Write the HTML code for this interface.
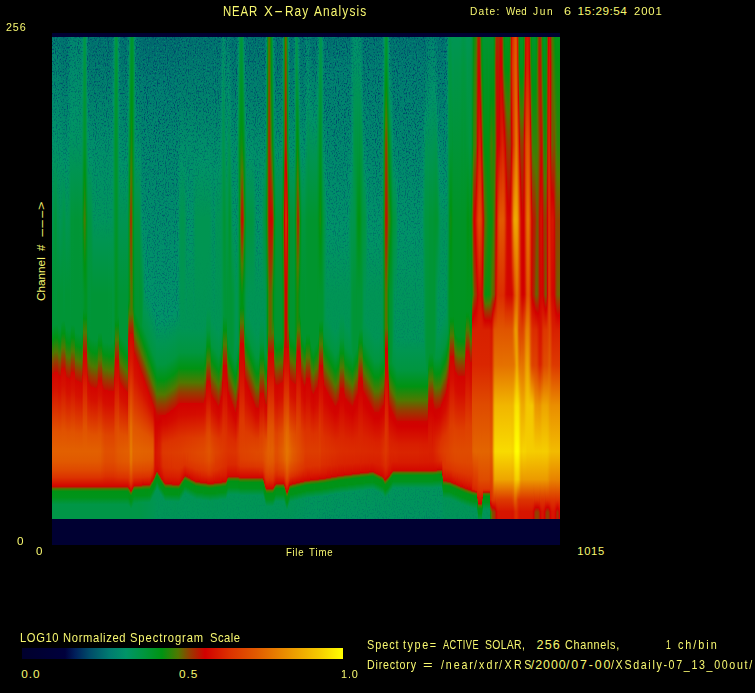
<!DOCTYPE html>
<html><head><meta charset="utf-8"><title>NEAR X-Ray Analysis</title>
<style>
html,body{margin:0;padding:0;background:#000;}
body{width:755px;height:693px;position:relative;overflow:hidden;}
.t{position:absolute;white-space:pre;color:#f8f870;font-family:"Liberation Sans",sans-serif;line-height:1;}
.r{transform-origin:0 0;transform:rotate(-90deg);}
#spec{position:absolute;left:52px;top:33px;width:508px;height:512px;background:#000032;}
#cbar{position:absolute;left:22px;top:648px;width:321px;height:11px;}
#sg{position:absolute;left:0;top:4px;width:508px;height:482px;display:flex;filter:url(#spk);}
#sg i{display:block;height:482px;flex:none;}
</style></head><body>
<svg width="0" height="0" style="position:absolute">
<filter id="spk" x="0" y="0" width="1" height="1" color-interpolation-filters="sRGB">
<feTurbulence type="fractalNoise" baseFrequency="0.9 0.5" numOctaves="2" seed="4" result="n"/>
<feColorMatrix in="n" type="matrix" values="0 0 0 0 0  0 0 0 0 0.28  0 0 0 0 0.42  -4.2 0 0 0 2.15" result="dk"/>
<feColorMatrix in="n" type="matrix" values="0 0 0 0 0  0 0 0 0 0.56  0 0 0 0 0.44  0 -3 0 0 1.45" result="lt"/>
<feColorMatrix in="SourceGraphic" type="matrix" values="0 0 0 0 0  0 0 0 0 0  0 0 0 0 0  0 0 9 0 -2.9" result="m1"/>
<feColorMatrix in="SourceGraphic" type="matrix" values="0 0 0 0 0  0 0 0 0 0  0 0 0 0 0  0 -7.5 0 0 4.9" result="m2"/>
<feComposite in="m1" in2="m2" operator="in" result="m"/>
<feComposite in="dk" in2="m" operator="in" result="dkm"/>
<feComposite in="lt" in2="m" operator="in" result="ltm"/>
<feMerge><feMergeNode in="SourceGraphic"/><feMergeNode in="dkm"/><feMergeNode in="ltm"/></feMerge>
</filter></svg>
<div id="spec"><div id="sg"><i style="width:1px;background:linear-gradient(#007f6f 0px,#009468 105.5px,#009536 257.5px,#009536 289.5px,#009313 302.5px,#507800 316.5px,#943e00 326.5px,#c21000 336.5px,#d30500 337.5px,#d51100 353.5px,#e05100 394.5px,#e26000 414.5px,#e15900 424.5px,#df4800 433.5px,#dc3300 440.5px,#d40900 448.5px,#c90900 449.5px,#9a3800 450.5px,#616900 451.5px,#388005 452.5px,#009315 454.5px,#00941a 460.5px,#009646 467.5px,#009648 482px)"></i><i style="width:1px;background:linear-gradient(#007f6f 0px,#009468 105.5px,#009647 183.5px,#009536 257.5px,#009536 289.5px,#009313 302.5px,#4e7900 316.5px,#983a00 327.5px,#c11100 336.5px,#d30500 337.5px,#d51100 353.5px,#e05100 394.5px,#e26000 414.5px,#e15900 424.5px,#df4800 433.5px,#dc3300 440.5px,#d40900 448.5px,#c90900 449.5px,#9a3800 450.5px,#616900 451.5px,#388005 452.5px,#009315 454.5px,#00941a 460.5px,#009646 467.5px,#009648 482px)"></i><i style="width:1px;background:linear-gradient(#007f6f 0px,#009468 105.5px,#00963f 183.5px,#009536 287.5px,#009312 300.5px,#507800 314.5px,#943d00 324.5px,#c30f00 334.5px,#d30500 335.5px,#d51100 351.5px,#e05200 394.5px,#e26000 414.5px,#e15900 424.5px,#df4800 433.5px,#dc3300 440.5px,#d40900 448.5px,#c90900 449.5px,#9a3800 450.5px,#616900 451.5px,#388005 452.5px,#009315 454.5px,#00941a 460.5px,#009646 467.5px,#009648 482px)"></i><i style="width:1px;background:linear-gradient(#007f6f 0px,#009467 107.5px,#00963b 183.5px,#009536 287.5px,#009312 300.5px,#507800 314.5px,#943d00 324.5px,#c30f00 334.5px,#d30500 335.5px,#d51100 351.5px,#e05200 394.5px,#e26000 414.5px,#e15900 424.5px,#df4800 433.5px,#dc3300 440.5px,#d40900 448.5px,#c90900 449.5px,#9a3800 450.5px,#616900 451.5px,#388005 452.5px,#009315 454.5px,#00941a 460.5px,#009646 467.5px,#009648 482px)"></i><i style="width:1px;background:linear-gradient(#007f6f 0px,#009468 105.5px,#009641 183.5px,#009536 287.5px,#009312 300.5px,#507800 314.5px,#943d00 324.5px,#c30f00 334.5px,#d30500 335.5px,#d51100 351.5px,#e05200 394.5px,#e26000 414.5px,#e15900 424.5px,#df4800 433.5px,#dc3300 440.5px,#d40900 448.5px,#c90900 449.5px,#9a3800 450.5px,#616900 451.5px,#388005 452.5px,#009315 454.5px,#00941a 460.5px,#009646 467.5px,#009648 482px)"></i><i style="width:1px;background:linear-gradient(#007f6f 0px,#009468 105.5px,#009536 257.5px,#009536 287.5px,#009312 300.5px,#507800 314.5px,#943d00 324.5px,#c30f00 334.5px,#d30500 335.5px,#d51100 351.5px,#e05200 394.5px,#e26000 414.5px,#e15900 424.5px,#df4800 433.5px,#dc3300 440.5px,#d40900 448.5px,#c90900 449.5px,#9a3800 450.5px,#616900 451.5px,#388005 452.5px,#009315 454.5px,#00941a 460.5px,#009646 467.5px,#009648 482px)"></i><i style="width:1px;background:linear-gradient(#007e6f 0px,#009468 105.5px,#009536 257.5px,#009536 290.5px,#009312 303.5px,#507800 317.5px,#943d00 327.5px,#c30f00 337.5px,#d30500 338.5px,#d51100 354.5px,#e05100 394.5px,#e26000 414.5px,#e15900 424.5px,#df4800 433.5px,#dc3300 440.5px,#d40900 448.5px,#c90900 449.5px,#9a3800 450.5px,#616900 451.5px,#388005 452.5px,#009315 454.5px,#00941a 460.5px,#009646 467.5px,#009648 482px)"></i><i style="width:1px;background:linear-gradient(#007c70 0px,#009468 105.5px,#009554 183.5px,#009536 257.5px,#009536 291.5px,#009312 304.5px,#517700 318.5px,#953d00 328.5px,#c40e00 338.5px,#d30500 339.5px,#d61200 355.5px,#e05100 394.5px,#e26000 414.5px,#e15900 424.5px,#df4800 433.5px,#dc3300 440.5px,#d40900 448.5px,#c90900 449.5px,#9a3800 450.5px,#616900 451.5px,#388005 452.5px,#009315 454.5px,#00941a 460.5px,#009646 467.5px,#009648 482px)"></i><i style="width:1px;background:linear-gradient(#00766f 0px,#009468 107.5px,#009554 183.5px,#009536 257.5px,#009536 291.5px,#009312 304.5px,#517700 318.5px,#953d00 328.5px,#c30f00 338.5px,#d30500 339.5px,#d61200 355.5px,#e05200 395.5px,#e26000 414.5px,#e15900 424.5px,#df4800 433.5px,#dc3300 440.5px,#d40900 448.5px,#c90900 449.5px,#9a3800 450.5px,#616900 451.5px,#388005 452.5px,#009315 454.5px,#00941a 460.5px,#009646 467.5px,#009648 482px)"></i><i style="width:1px;background:linear-gradient(#00736f 0px,#009468 112.5px,#009536 257.5px,#009536 285.5px,#009314 297.5px,#019312 298.5px,#527700 312.5px,#963c00 322.5px,#c40e00 332.5px,#d30500 333.5px,#d51100 350.5px,#e05100 393.5px,#e26000 414.5px,#e15900 424.5px,#df4800 433.5px,#dc3300 440.5px,#d40900 448.5px,#c90900 449.5px,#9a3800 450.5px,#616900 451.5px,#388005 452.5px,#009315 454.5px,#00941a 460.5px,#009646 467.5px,#009648 482px)"></i><i style="width:1px;background:linear-gradient(#00716e 0px,#009468 117.5px,#00954b 183.5px,#009536 257.5px,#009536 283.5px,#009312 296.5px,#507800 310.5px,#943d00 320.5px,#c30f00 330.5px,#d30500 331.5px,#d51100 348.5px,#e05100 392.5px,#e26000 414.5px,#e15900 424.5px,#df4800 433.5px,#dc3300 440.5px,#d40900 448.5px,#c90900 449.5px,#9a3800 450.5px,#616900 451.5px,#388005 452.5px,#009315 454.5px,#00941a 460.5px,#009646 467.5px,#009648 482px)"></i><i style="width:2px;background:linear-gradient(#00716e 0px,#009468 120.5px,#009646 183.5px,#009536 283.5px,#009312 296.5px,#507800 310.5px,#943d00 320.5px,#c30f00 330.5px,#d30500 331.5px,#d51100 348.5px,#e05100 392.5px,#e26000 414.5px,#e15900 424.5px,#df4800 433.5px,#dc3300 440.5px,#d40900 448.5px,#c90900 449.5px,#9a3800 450.5px,#616900 451.5px,#388005 452.5px,#009315 454.5px,#00941a 460.5px,#009646 467.5px,#009648 482px)"></i><i style="width:1px;background:linear-gradient(#00716e 0px,#009468 123.5px,#00954d 183.5px,#009536 257.5px,#009536 287.5px,#009313 300.5px,#4f7800 314.5px,#933e00 324.5px,#c21000 334.5px,#d30500 335.5px,#d61200 352.5px,#e05200 394.5px,#e26000 414.5px,#e15900 424.5px,#df4800 433.5px,#dc3300 440.5px,#d40900 448.5px,#c90900 449.5px,#9a3800 450.5px,#616900 451.5px,#388005 452.5px,#009315 454.5px,#00941a 460.5px,#009646 467.5px,#009648 482px)"></i><i style="width:1px;background:linear-gradient(#00716e 0px,#009468 126.5px,#009536 257.5px,#009536 292.5px,#009314 304.5px,#019312 305.5px,#527600 319.5px,#963c00 329.5px,#c40e00 339.5px,#d30500 340.5px,#d51100 355.5px,#e05200 395.5px,#e26000 414.5px,#e15900 424.5px,#df4800 433.5px,#dc3300 440.5px,#d40900 448.5px,#c90900 449.5px,#9a3800 450.5px,#616900 451.5px,#388005 452.5px,#009315 454.5px,#00941a 460.5px,#009646 467.5px,#009648 482px)"></i><i style="width:1px;background:linear-gradient(#00746f 0px,#009468 124.5px,#009536 257.5px,#009536 292.5px,#009314 305.5px,#4d7901 319.5px,#973b00 330.5px,#c50d00 340.5px,#d30500 341.5px,#d51100 356.5px,#e05100 395.5px,#e26000 414.5px,#e15900 424.5px,#df4800 433.5px,#dc3300 440.5px,#d40900 448.5px,#c90900 449.5px,#9a3800 450.5px,#616900 451.5px,#388005 452.5px,#009315 454.5px,#00941a 460.5px,#009646 467.5px,#009648 482px)"></i><i style="width:1px;background:linear-gradient(#007a70 0px,#009468 114.5px,#009536 257.5px,#009536 293.5px,#009313 306.5px,#4f7800 320.5px,#933f00 330.5px,#c21000 340.5px,#d30500 341.5px,#d51100 356.5px,#e05100 395.5px,#e26000 414.5px,#e15900 424.5px,#df4800 433.5px,#dc3300 440.5px,#d40900 448.5px,#c90900 449.5px,#9a3800 450.5px,#616900 451.5px,#388005 452.5px,#009315 454.5px,#00941a 460.5px,#009646 467.5px,#009648 482px)"></i><i style="width:1px;background:linear-gradient(#00816e 0px,#009468 95.5px,#009536 257.5px,#009536 293.5px,#009314 306.5px,#4d7901 320.5px,#973b00 331.5px,#c50d00 341.5px,#d30500 342.5px,#d61200 357.5px,#e05100 395.5px,#e26000 414.5px,#e15900 424.5px,#df4800 433.5px,#dc3300 440.5px,#d40900 448.5px,#c90900 449.5px,#9a3800 450.5px,#616900 451.5px,#388005 452.5px,#009315 454.5px,#00941a 460.5px,#009646 467.5px,#009648 482px)"></i><i style="width:1px;background:linear-gradient(#00856d 0px,#009468 79.5px,#009640 183.5px,#009536 292.5px,#009314 304.5px,#019312 305.5px,#527700 319.5px,#963c00 329.5px,#c40e00 339.5px,#d30500 340.5px,#d51100 355.5px,#e05200 395.5px,#e26000 414.5px,#e15900 424.5px,#df4800 433.5px,#dc3300 440.5px,#d40900 448.5px,#c90900 449.5px,#9a3800 450.5px,#616900 451.5px,#388005 452.5px,#009315 454.5px,#00941a 460.5px,#009646 467.5px,#009648 482px)"></i><i style="width:3px;background:linear-gradient(#00866d 0px,#009468 72.5px,#009460 107.5px,#009637 183.5px,#009536 287.5px,#009312 300.5px,#507800 314.5px,#943d00 324.5px,#c30f00 334.5px,#d30500 335.5px,#d51100 351.5px,#e05200 394.5px,#e26000 414.5px,#e15900 424.5px,#df4800 433.5px,#dc3300 440.5px,#d40900 448.5px,#c90900 449.5px,#9a3800 450.5px,#616900 451.5px,#388005 452.5px,#009315 454.5px,#00941a 460.5px,#009646 467.5px,#009648 482px)"></i><i style="width:1px;background:linear-gradient(#00866d 0px,#009468 72.5px,#009460 107.5px,#009536 183.5px,#009536 288.5px,#009313 301.5px,#4f7800 315.5px,#933e00 325.5px,#c21000 335.5px,#d30500 336.5px,#d51100 352.5px,#e05200 394.5px,#e26000 414.5px,#e15900 424.5px,#df4800 433.5px,#dc3300 440.5px,#d40900 448.5px,#c90900 449.5px,#9a3800 450.5px,#616900 451.5px,#388005 452.5px,#009315 454.5px,#00941a 460.5px,#009646 467.5px,#009648 482px)"></i><i style="width:1px;background:linear-gradient(#00866d 0px,#009468 72.5px,#009460 107.5px,#009536 183.5px,#009536 295.5px,#009314 307.5px,#019212 308.5px,#537600 322.5px,#963c00 332.5px,#c40e00 342.5px,#d30500 343.5px,#d61200 358.5px,#e05100 395.5px,#e26000 414.5px,#e15900 424.5px,#df4800 433.5px,#dc3300 440.5px,#d40900 448.5px,#c90900 449.5px,#9a3800 450.5px,#616900 451.5px,#388005 452.5px,#009315 454.5px,#00941a 460.5px,#009646 467.5px,#009648 482px)"></i><i style="width:1px;background:linear-gradient(#00866d 0px,#009468 72.5px,#009460 107.5px,#009536 183.5px,#009536 295.5px,#009313 308.5px,#4f7800 322.5px,#983a00 333.5px,#c21000 342.5px,#d30500 343.5px,#d51100 358.5px,#e05200 396.5px,#e26000 414.5px,#e15900 424.5px,#df4800 433.5px,#dc3300 440.5px,#d40900 448.5px,#c90900 449.5px,#9a3800 450.5px,#616900 451.5px,#388005 452.5px,#009315 454.5px,#00941a 460.5px,#009646 467.5px,#009648 482px)"></i><i style="width:1px;background:linear-gradient(#00866d 0px,#009468 72.5px,#009460 107.5px,#009536 183.5px,#009536 296.5px,#009312 309.5px,#517700 323.5px,#953d00 333.5px,#c30f00 343.5px,#d30500 344.5px,#d61200 359.5px,#e05200 396.5px,#e26000 414.5px,#e15900 424.5px,#df4800 433.5px,#dc3300 440.5px,#d40900 448.5px,#c90900 449.5px,#9a3800 450.5px,#616900 451.5px,#388005 452.5px,#009315 454.5px,#00941a 460.5px,#009646 467.5px,#009648 482px)"></i><i style="width:1px;background:linear-gradient(#00866d 0px,#009468 72.5px,#009460 107.5px,#009536 183.5px,#009536 296.5px,#009313 309.5px,#4e7900 323.5px,#983a00 334.5px,#c11100 343.5px,#d30500 344.5px,#d51100 359.5px,#e05100 396.5px,#e26000 414.5px,#e15900 424.5px,#df4800 433.5px,#dc3300 440.5px,#d40900 448.5px,#c90900 449.5px,#9a3800 450.5px,#616900 451.5px,#388005 452.5px,#009315 454.5px,#00941a 460.5px,#009646 467.5px,#009648 482px)"></i><i style="width:2px;background:linear-gradient(#00866d 0px,#009460 107.5px,#009637 183.5px,#009536 297.5px,#009312 310.5px,#507700 324.5px,#943d00 334.5px,#c30f00 344.5px,#d30500 345.5px,#d51100 359.5px,#e05100 396.5px,#e26000 414.5px,#e15900 424.5px,#df4800 433.5px,#dc3300 440.5px,#d40900 448.5px,#c90900 449.5px,#9a3800 450.5px,#616900 451.5px,#388005 452.5px,#009315 454.5px,#00941a 460.5px,#009646 467.5px,#009648 482px)"></i><i style="width:1px;background:linear-gradient(#00866d 0px,#009468 70.5px,#00945e 107.5px,#009637 183.5px,#009536 297.5px,#009314 310.5px,#537500 325.5px,#973b00 335.5px,#c50d00 345.5px,#d30500 346.5px,#d51100 360.5px,#e05100 396.5px,#e26000 414.5px,#e15900 424.5px,#df4800 433.5px,#dc3300 440.5px,#d40900 448.5px,#c90900 449.5px,#9a3800 450.5px,#616900 451.5px,#388005 452.5px,#009315 454.5px,#00941a 460.5px,#009646 467.5px,#009648 482px)"></i><i style="width:1px;background:linear-gradient(#008e6a 0px,#009468 24.5px,#009551 107.5px,#009426 183.5px,#009534 257.5px,#009534 292.5px,#009312 304.5px,#507800 318.5px,#943d00 328.5px,#c30f00 338.5px,#d30500 339.5px,#d61200 355.5px,#e05200 395.5px,#e26000 414.5px,#e15900 424.5px,#df4800 433.5px,#dc3300 440.5px,#d40900 448.5px,#c90900 449.5px,#9a3800 450.5px,#616900 451.5px,#388005 452.5px,#009315 454.5px,#00941a 460.5px,#009646 467.5px,#009648 482px)"></i><i style="width:1px;background:linear-gradient(#009556 0px,#009638 107.5px,#009312 161.5px,#1e890b 182.5px,#009312 209.5px,#00952f 258.5px,#00952e 271.5px,#009312 281.5px,#507800 295.5px,#943d00 305.5px,#c30f00 315.5px,#d30500 316.5px,#d51100 336.5px,#e05200 389.5px,#e26000 414.5px,#e15900 424.5px,#df4800 433.5px,#dc3300 440.5px,#d40900 448.5px,#c90900 449.5px,#9a3800 450.5px,#616900 451.5px,#388005 452.5px,#009315 454.5px,#00941a 460.5px,#009646 467.5px,#009648 482px)"></i><i style="width:1px;background:linear-gradient(#009645 0px,#009529 107.5px,#009312 137.5px,#467b02 183.5px,#009312 230.5px,#009426 258.5px,#009426 274.5px,#009312 281.5px,#507800 295.5px,#943d00 305.5px,#c30f00 315.5px,#d30500 316.5px,#d51100 336.5px,#e05200 389.5px,#e26000 414.5px,#e15900 424.5px,#df4800 433.5px,#dc3300 440.5px,#d40900 448.5px,#c90900 449.5px,#9a3800 450.5px,#616900 451.5px,#388005 452.5px,#009315 454.5px,#00941a 460.5px,#009646 467.5px,#009648 482px)"></i><i style="width:1px;background:linear-gradient(#00954d 0px,#00952f 107.5px,#009312 148.5px,#318207 183.5px,#009312 227.5px,#009422 258.5px,#009422 275.5px,#009312 281.5px,#507800 295.5px,#943d00 305.5px,#c30f00 315.5px,#d30500 316.5px,#d51100 336.5px,#e05200 389.5px,#e26000 414.5px,#e15900 424.5px,#df4800 433.5px,#dc3300 440.5px,#d40900 448.5px,#c90900 449.5px,#9a3800 450.5px,#616900 451.5px,#388005 452.5px,#009315 454.5px,#00941a 460.5px,#009646 467.5px,#009648 482px)"></i><i style="width:1px;background:linear-gradient(#009368 0px,#009648 107.5px,#00941a 182.5px,#009426 273.5px,#009312 281.5px,#507800 295.5px,#943d00 305.5px,#c30f00 315.5px,#d30500 316.5px,#d51100 336.5px,#e05200 389.5px,#e26000 414.5px,#e15900 424.5px,#df4800 433.5px,#dc3300 440.5px,#d40900 448.5px,#c90900 449.5px,#9a3800 450.5px,#616900 451.5px,#388005 452.5px,#009315 454.5px,#00941a 460.5px,#009646 467.5px,#009648 482px)"></i><i style="width:1px;background:linear-gradient(#00816e 0px,#009468 81.5px,#00945f 108.5px,#009532 183.5px,#00952e 294.5px,#009312 304.5px,#507800 318.5px,#943d00 328.5px,#c30f00 338.5px,#d30500 339.5px,#d61200 355.5px,#e05200 395.5px,#e26000 414.5px,#e15900 424.5px,#df4800 433.5px,#dc3300 440.5px,#d40900 448.5px,#c90900 449.5px,#9a3800 450.5px,#616900 451.5px,#388005 452.5px,#009315 454.5px,#00941a 460.5px,#009646 467.5px,#009648 482px)"></i><i style="width:1px;background:linear-gradient(#00756f 0px,#009468 114.5px,#00963d 183.5px,#009534 298.5px,#009312 310.5px,#507800 324.5px,#943e00 334.5px,#c30f00 344.5px,#d30500 345.5px,#d51100 359.5px,#e05100 396.5px,#e26000 414.5px,#e15900 424.5px,#df4800 433.5px,#dc3300 440.5px,#d40900 448.5px,#c90900 449.5px,#9a3800 450.5px,#616900 451.5px,#388005 452.5px,#009315 454.5px,#00941a 460.5px,#009646 467.5px,#009648 482px)"></i><i style="width:1px;background:linear-gradient(#00716e 0px,#009468 118.5px,#00963e 183.5px,#009536 299.5px,#009314 311.5px,#019312 312.5px,#527700 326.5px,#963c00 336.5px,#c40e00 346.5px,#d30500 347.5px,#d61200 361.5px,#e05100 396.5px,#e26000 414.5px,#e15900 424.5px,#df4800 433.5px,#dc3300 440.5px,#d40900 448.5px,#c90900 449.5px,#9a3800 450.5px,#616900 451.5px,#388005 452.5px,#009315 454.5px,#00941a 460.5px,#009646 467.5px,#009648 482px)"></i><i style="width:1px;background:linear-gradient(#00716e 0px,#009468 119.5px,#009640 183.5px,#009536 300.5px,#009314 313.5px,#4d7901 327.5px,#973b00 338.5px,#c50d00 348.5px,#d30500 349.5px,#d51100 362.5px,#e05100 397.5px,#e26000 414.5px,#e15900 424.5px,#df4800 433.5px,#dc3300 440.5px,#d40900 448.5px,#c90900 449.5px,#9a3800 450.5px,#616900 451.5px,#388005 452.5px,#009315 454.5px,#00941a 460.5px,#009646 467.5px,#009648 482px)"></i><i style="width:1px;background:linear-gradient(#00716e 0px,#009468 121.5px,#009647 183.5px,#009536 257.5px,#009536 301.5px,#009314 314.5px,#537500 329.5px,#973b00 339.5px,#c50d00 349.5px,#d30500 350.5px,#d51100 363.5px,#e05100 397.5px,#e26000 414.5px,#e15900 424.5px,#df4800 433.5px,#dc3300 440.5px,#d40900 448.5px,#c90900 449.5px,#9a3800 450.5px,#616900 451.5px,#388005 452.5px,#009315 454.5px,#00941a 460.5px,#009646 467.5px,#009648 482px)"></i><i style="width:1px;background:linear-gradient(#00716e 0px,#009468 125.5px,#009536 257.5px,#009536 302.5px,#009312 315.5px,#507800 329.5px,#943d00 339.5px,#c30f00 349.5px,#d30500 350.5px,#d51100 363.5px,#e05100 397.5px,#e26000 414.5px,#e15900 424.5px,#df4800 433.5px,#dc3300 440.5px,#d40900 448.5px,#c90900 449.5px,#9a3800 450.5px,#616900 451.5px,#388005 452.5px,#009315 454.5px,#00941a 460.5px,#009646 467.5px,#009648 482px)"></i><i style="width:1px;background:linear-gradient(#00716e 0px,#009069 108.5px,#00955a 182.5px,#009536 257.5px,#009536 302.5px,#009313 315.5px,#4e7900 329.5px,#983a00 340.5px,#c11100 349.5px,#d30500 350.5px,#d51000 363.5px,#e05200 398.5px,#e26000 414.5px,#e15900 424.5px,#df4800 433.5px,#dc3300 440.5px,#d40900 448.5px,#c90900 449.5px,#9a3800 450.5px,#616900 451.5px,#388005 452.5px,#009315 454.5px,#00941a 460.5px,#009646 467.5px,#009648 482px)"></i><i style="width:2px;background:linear-gradient(#00716e 0px,#009069 108.5px,#00955c 182.5px,#009536 257.5px,#009536 303.5px,#009312 316.5px,#517700 330.5px,#953d00 340.5px,#c30f00 350.5px,#d30500 351.5px,#d51100 364.5px,#e05200 398.5px,#e26000 414.5px,#e15900 424.5px,#df4800 433.5px,#dc3300 440.5px,#d40900 448.5px,#c90900 449.5px,#9a3800 450.5px,#616900 451.5px,#388005 452.5px,#009315 454.5px,#00941a 460.5px,#009646 467.5px,#009648 482px)"></i><i style="width:1px;background:linear-gradient(#00716e 0px,#009069 108.5px,#00955c 182.5px,#009536 257.5px,#009536 303.5px,#009313 316.5px,#4f7800 330.5px,#983a00 341.5px,#c21000 350.5px,#d30500 351.5px,#d51100 364.5px,#e05200 398.5px,#e26000 414.5px,#e15900 424.5px,#df4800 433.5px,#dc3300 440.5px,#d40900 448.5px,#c90900 449.5px,#9a3800 450.5px,#616900 451.5px,#388005 452.5px,#009315 454.5px,#00941a 460.5px,#009646 467.5px,#009648 482px)"></i><i style="width:1px;background:linear-gradient(#00716e 0px,#009069 108.5px,#00955c 182.5px,#009536 257.5px,#009536 301.5px,#009312 314.5px,#507800 328.5px,#943d00 338.5px,#c30f00 348.5px,#d30500 349.5px,#d61200 363.5px,#e05100 397.5px,#e26000 414.5px,#e15900 424.5px,#df4800 433.5px,#dc3300 440.5px,#d40900 448.5px,#c90900 449.5px,#9a3800 450.5px,#616900 451.5px,#388005 452.5px,#009315 454.5px,#00941a 460.5px,#009646 467.5px,#009648 482px)"></i><i style="width:3px;background:linear-gradient(#00716e 0px,#009069 108.5px,#00955c 182.5px,#009536 257.5px,#009536 295.5px,#009312 308.5px,#507800 322.5px,#943d00 332.5px,#c30f00 342.5px,#d30500 343.5px,#d51100 358.5px,#e05100 396.5px,#e25f00 414.5px,#e15800 424.5px,#df4800 433.5px,#dc3300 440.5px,#d40900 448.5px,#c90900 449.5px,#9a3800 450.5px,#616900 451.5px,#388005 452.5px,#009315 454.5px,#00941a 460.5px,#009646 467.5px,#009648 482px)"></i><i style="width:1px;background:linear-gradient(#00716e 0px,#009069 108.5px,#00955c 182.5px,#009536 257.5px,#009536 295.5px,#009312 308.5px,#507800 322.5px,#943d00 332.5px,#c30f00 342.5px,#d30500 343.5px,#d51000 358.5px,#e04e00 396.5px,#e15b00 414.5px,#e05500 424.5px,#de4500 433.5px,#dc3100 440.5px,#d40900 448.5px,#c90900 449.5px,#9a3800 450.5px,#616900 451.5px,#388005 452.5px,#009315 454.5px,#00941a 460.5px,#009646 467.5px,#009648 482px)"></i><i style="width:1px;background:linear-gradient(#00716e 0px,#009069 108.5px,#00955c 182.5px,#009536 257.5px,#009536 301.5px,#009312 314.5px,#507800 328.5px,#943d00 338.5px,#c30f00 348.5px,#d30400 349.5px,#d51000 363.5px,#df4b00 397.5px,#e15800 414.5px,#e05200 424.5px,#de4300 433.5px,#dc3000 440.5px,#d40900 448.5px,#c90900 449.5px,#9a3800 450.5px,#616900 451.5px,#388005 452.5px,#009315 454.5px,#00941a 460.5px,#009646 467.5px,#009648 482px)"></i><i style="width:1px;background:linear-gradient(#00716e 0px,#009069 108.5px,#00955c 182.5px,#009536 257.5px,#009536 304.5px,#009314 316.5px,#019312 317.5px,#527700 331.5px,#963c00 341.5px,#c40e00 351.5px,#d30400 352.5px,#d50f00 365.5px,#df4800 397.5px,#e05500 414.5px,#e04f00 424.5px,#de4100 433.5px,#dc3200 439.5px,#d40900 448.5px,#c80a00 449.5px,#9a3800 450.5px,#616900 451.5px,#388005 452.5px,#009315 454.5px,#00941a 460.5px,#009646 467.5px,#009648 482px)"></i><i style="width:1px;background:linear-gradient(#00716e 0px,#009069 108.5px,#00955c 182.5px,#009536 257.5px,#009536 305.5px,#009314 317.5px,#537500 332.5px,#973b00 342.5px,#c50d00 352.5px,#d30300 353.5px,#d50f00 366.5px,#de4500 397.5px,#e05200 414.5px,#df4d00 424.5px,#de3f00 433.5px,#dc3000 439.5px,#d40900 448.5px,#c80a00 449.5px,#9a3800 450.5px,#616900 451.5px,#388005 452.5px,#009315 454.5px,#00941a 460.5px,#009646 467.5px,#009648 482px)"></i><i style="width:3px;background:linear-gradient(#00716e 0px,#009069 108.5px,#00955c 182.5px,#009536 257.5px,#009536 305.5px,#009313 318.5px,#4f7800 332.5px,#983a00 343.5px,#c21000 352.5px,#d30300 353.5px,#d50f00 367.5px,#de4500 398.5px,#e05000 414.5px,#df4b00 424.5px,#dd3e00 433.5px,#db2f00 439.5px,#d40900 448.5px,#c80a00 449.5px,#9a3800 450.5px,#616900 451.5px,#388005 452.5px,#009315 454.5px,#00941a 460.5px,#009646 467.5px,#009648 482px)"></i><i style="width:4px;background:linear-gradient(#00716e 0px,#009069 108.5px,#00955c 182.5px,#009637 257.5px,#009536 306.5px,#009312 319.5px,#517700 333.5px,#953d00 343.5px,#c40e00 353.5px,#d30300 354.5px,#d50e00 367.5px,#de4400 398.5px,#e05000 414.5px,#df4b00 424.5px,#dd3e00 433.5px,#db2f00 439.5px,#d40900 448.5px,#c80a00 449.5px,#9a3800 450.5px,#616900 451.5px,#388005 452.5px,#009315 454.5px,#00941a 460.5px,#009646 467.5px,#009648 482px)"></i><i style="width:1px;background:linear-gradient(#00786f 0px,#009468 112.5px,#009558 183.5px,#00963c 257.5px,#00963c 304.5px,#009315 318.5px,#019312 319.5px,#527700 333.5px,#963c00 343.5px,#c40e00 353.5px,#d30300 354.5px,#d50e00 367.5px,#de4400 398.5px,#e05000 414.5px,#df4b00 424.5px,#dd3e00 433.5px,#db2f00 439.5px,#d40900 448.5px,#c80a00 449.5px,#9a3800 450.5px,#616900 451.5px,#388005 452.5px,#009315 454.5px,#00941a 460.5px,#009646 467.5px,#009648 482px)"></i><i style="width:1px;background:linear-gradient(#00866d 0px,#009468 61.5px,#009558 108.5px,#00954d 183.5px,#00963a 257.5px,#00963a 304.5px,#009314 318.5px,#019312 319.5px,#527600 333.5px,#963c00 343.5px,#c40e00 353.5px,#d30300 354.5px,#d50e00 367.5px,#de4400 398.5px,#e05000 414.5px,#df4b00 424.5px,#dd3e00 433.5px,#db2f00 439.5px,#d40900 448.5px,#c80a00 449.5px,#9a3800 450.5px,#616900 451.5px,#388005 452.5px,#009315 454.5px,#00941a 460.5px,#009646 467.5px,#009648 482px)"></i><i style="width:1px;background:linear-gradient(#00945f 0px,#00963e 107.5px,#00952e 296.5px,#009312 306.5px,#507800 320.5px,#943d00 330.5px,#c30f00 340.5px,#d30300 341.5px,#d50f00 357.5px,#de4600 395.5px,#e05100 414.5px,#df4d00 424.5px,#de3f00 433.5px,#dc3000 439.5px,#d40900 448.5px,#c80a00 449.5px,#9a3800 450.5px,#616900 451.5px,#388005 452.5px,#009315 454.5px,#00941a 460.5px,#009646 467.5px,#009648 482px)"></i><i style="width:1px;background:linear-gradient(#009646 0px,#00963b 28.5px,#00952c 107.5px,#00952d 182.5px,#009423 282.5px,#009312 288.5px,#507800 302.5px,#943d00 312.5px,#c30f00 322.5px,#d30400 323.5px,#d50f00 343.5px,#df4800 390.5px,#e05400 414.5px,#e04f00 424.5px,#de4000 433.5px,#dc3200 439.5px,#d40900 448.5px,#c80a00 449.5px,#9a3800 450.5px,#616900 451.5px,#388005 452.5px,#009315 454.5px,#00941a 460.5px,#009646 467.5px,#009648 482px)"></i><i style="width:1px;background:linear-gradient(#009640 0px,#009535 28.5px,#009420 283.5px,#009312 288.5px,#507800 302.5px,#943d00 312.5px,#c30f00 322.5px,#d30400 323.5px,#d51000 343.5px,#df4a00 390.5px,#e15600 414.5px,#e05100 424.5px,#de4200 433.5px,#db2f00 440.5px,#d40900 448.5px,#c80a00 449.5px,#9a3800 450.5px,#616900 451.5px,#388005 452.5px,#009315 454.5px,#00941a 460.5px,#009646 467.5px,#009648 482px)"></i><i style="width:1px;background:linear-gradient(#00954f 0px,#009644 28.5px,#009426 281.5px,#009312 288.5px,#507800 302.5px,#943d00 312.5px,#c30f00 322.5px,#d30400 323.5px,#d51000 342.5px,#df4c00 390.5px,#e15900 414.5px,#e05300 424.5px,#de4400 433.5px,#dc3000 440.5px,#d40900 448.5px,#c90900 449.5px,#9a3800 450.5px,#616900 451.5px,#388005 452.5px,#009315 454.5px,#00941a 460.5px,#009646 467.5px,#009648 482px)"></i><i style="width:1px;background:linear-gradient(#009169 0px,#009558 108.5px,#00952f 257.5px,#00952e 278.5px,#009312 288.5px,#507800 302.5px,#943d00 312.5px,#c30f00 322.5px,#d30500 323.5px,#d51000 342.5px,#df4d00 390.5px,#e15a00 414.5px,#e05500 424.5px,#de4500 433.5px,#dc3100 440.5px,#d40900 448.5px,#c90900 449.5px,#9a3800 450.5px,#616900 451.5px,#388005 452.5px,#009315 454.5px,#00941a 460.5px,#009646 467.5px,#009648 482px)"></i><i style="width:1px;background:linear-gradient(#00806f 0px,#009468 111.5px,#009534 257.5px,#009534 294.5px,#009312 306.5px,#507800 320.5px,#943d00 330.5px,#c30f00 340.5px,#d30500 341.5px,#d51000 356.5px,#df4e00 395.5px,#e15b00 414.5px,#e05500 424.5px,#de4500 433.5px,#dc3100 440.5px,#d40900 448.5px,#c90900 449.5px,#9a3800 450.5px,#616900 451.5px,#388005 452.5px,#009315 454.5px,#00941a 460.5px,#009646 467.5px,#009648 482px)"></i><i style="width:1px;background:linear-gradient(#00756f 0px,#009468 126.5px,#009536 257.5px,#009536 298.5px,#009313 311.5px,#4f7800 325.5px,#933f00 335.5px,#c21000 345.5px,#d30500 346.5px,#d51000 360.5px,#e04f00 397.5px,#e15b00 414.5px,#e05500 424.5px,#de4500 433.5px,#dc3200 440.5px,#d40900 448.5px,#c90900 449.5px,#9a3800 450.5px,#616900 451.5px,#388005 452.5px,#009315 454.5px,#00941a 460.5px,#009646 467.5px,#009648 482px)"></i><i style="width:1px;background:linear-gradient(#00716e 0px,#009468 127.5px,#009536 257.5px,#009536 300.5px,#009314 312.5px,#019312 313.5px,#527600 327.5px,#963c00 337.5px,#c40e00 347.5px,#d30500 348.5px,#d51100 362.5px,#e04f00 397.5px,#e15c00 414.5px,#e05600 424.5px,#de4600 433.5px,#dc3200 440.5px,#d40900 448.5px,#c90900 449.5px,#9a3800 450.5px,#616900 451.5px,#388005 452.5px,#009315 454.5px,#00941a 460.5px,#009646 467.5px,#009648 482px)"></i><i style="width:1px;background:linear-gradient(#00716e 0px,#009468 127.5px,#009536 257.5px,#009536 301.5px,#009313 314.5px,#4f7800 328.5px,#933f00 338.5px,#c21000 348.5px,#d30500 349.5px,#d51100 363.5px,#e04f00 397.5px,#e15c00 414.5px,#e15600 424.5px,#de4600 433.5px,#dc3200 440.5px,#d40900 448.5px,#c90900 449.5px,#9a3800 450.5px,#616900 451.5px,#388005 452.5px,#009315 454.5px,#00941a 460.5px,#009646 467.5px,#009648 482px)"></i><i style="width:1px;background:linear-gradient(#00716e 0px,#009468 127.5px,#009536 257.5px,#009536 303.5px,#009314 315.5px,#019312 316.5px,#527600 330.5px,#963c00 340.5px,#c40e00 350.5px,#d30500 351.5px,#d51100 364.5px,#e04e00 397.5px,#e15d00 414.5px,#e15700 424.5px,#df4600 433.5px,#dc3200 440.5px,#d40900 448.5px,#c90900 449.5px,#9a3800 450.5px,#616900 451.5px,#388005 452.5px,#009315 454.5px,#00941a 460.5px,#009646 467.5px,#009648 482px)"></i><i style="width:1px;background:linear-gradient(#00716e 0px,#009468 127.5px,#009536 257.5px,#009536 304.5px,#009313 317.5px,#4f7800 331.5px,#933f00 341.5px,#c21000 351.5px,#d30500 352.5px,#d51100 365.5px,#e05000 398.5px,#e25d00 414.5px,#e15700 424.5px,#df4700 433.5px,#dc3200 440.5px,#d40900 448.5px,#c90900 449.5px,#9a3800 450.5px,#616900 451.5px,#388005 452.5px,#009315 454.5px,#00941a 460.5px,#009646 467.5px,#009648 482px)"></i><i style="width:1px;background:linear-gradient(#00716e 0px,#009468 127.5px,#009536 257.5px,#009536 305.5px,#009313 318.5px,#4e7900 332.5px,#983a00 343.5px,#c11100 352.5px,#d30500 353.5px,#d51100 366.5px,#e05000 398.5px,#e25e00 414.5px,#e15700 424.5px,#df4700 433.5px,#dc3300 440.5px,#d40900 448.5px,#c90900 449.5px,#9a3800 450.5px,#616900 451.5px,#388005 452.5px,#009315 454.5px,#00941a 460.5px,#009646 467.5px,#009648 482px)"></i><i style="width:1px;background:linear-gradient(#00716e 0px,#009468 127.5px,#009536 257.5px,#009536 306.5px,#009313 319.5px,#4f7800 333.5px,#983a00 344.5px,#c21000 353.5px,#d30500 354.5px,#d51100 367.5px,#e05100 399.5px,#e25e00 414.5px,#e15800 424.5px,#df4700 433.5px,#dc3300 440.5px,#d40900 448.5px,#c90900 449.5px,#9a3800 450.5px,#616900 451.5px,#388005 452.5px,#009315 454.5px,#00941a 460.5px,#009646 467.5px,#009648 482px)"></i><i style="width:1px;background:linear-gradient(#00776f 0px,#009468 111.5px,#009533 257.5px,#009533 308.5px,#009313 320.5px,#4f7800 334.5px,#933e00 344.5px,#c21000 354.5px,#d30500 355.5px,#d51000 367.5px,#e05100 399.5px,#e25f00 414.5px,#e15800 424.5px,#df4700 433.5px,#dc3300 440.5px,#d40900 448.5px,#c90900 449.5px,#9a3800 450.5px,#616900 451.5px,#388005 452.5px,#009315 454.5px,#00941a 460.5px,#009646 467.5px,#009648 482px)"></i><i style="width:1px;background:linear-gradient(#00856d 0px,#009468 59.5px,#00952f 183.5px,#009425 262.5px,#009312 269.5px,#507800 283.5px,#943d00 293.5px,#c30f00 303.5px,#d30500 304.5px,#d51100 327.5px,#e05200 386.5px,#e25f00 414.5px,#e15900 424.5px,#df4600 434.5px,#dc3200 441.5px,#d40900 449.5px,#c60c00 450.5px,#973b00 451.5px,#5b6f00 452.5px,#338206 453.5px,#148c0e 454.5px,#009315 455.5px,#009317 460.5px,#009646 468.5px,#009648 482px)"></i><i style="width:1px;background:linear-gradient(#00945e 0px,#009530 107.5px,#009312 148.5px,#338207 183.5px,#0f8e0f 264.5px,#507800 276.5px,#943d00 286.5px,#c30f00 296.5px,#d30600 297.5px,#d61300 321.5px,#e25d00 390.5px,#e36800 414.5px,#e26200 424.5px,#df4900 436.5px,#dc3200 443.5px,#d61300 449.5px,#d00200 451.5px,#735a00 453.5px,#487b02 454.5px,#0a9010 456.5px,#009316 457.5px,#009317 462.5px,#009646 469.5px,#009647 482px)"></i><i style="width:1px;background:linear-gradient(#00963e 0px,#019312 97.5px,#0c8f0f 108.5px,#507800 148.5px,#953c00 183.5px,#507800 245.5px,#447c03 258.5px,#447c03 273.5px,#507800 276.5px,#943d00 286.5px,#c30f00 296.5px,#d40800 297.5px,#d61600 321.5px,#e46d00 390.5px,#e67900 414.5px,#e57100 425.5px,#e05500 436.5px,#dc3500 445.5px,#d40a00 452.5px,#cb0700 453.5px,#9e3400 454.5px,#676400 455.5px,#3d7e04 456.5px,#009312 458.5px,#009319 464.5px,#009646 471.5px,#009647 482px)"></i><i style="width:1px;background:linear-gradient(#00952e 0px,#019312 65.5px,#268609 107.5px,#4f7800 138.5px,#963c00 183.5px,#577200 257.5px,#577200 277.5px,#943d00 286.5px,#c30f00 296.5px,#d40800 297.5px,#d71700 321.5px,#e46e00 390.5px,#e67b00 414.5px,#e57500 423.5px,#e26200 432.5px,#de4500 441.5px,#da2a00 447.5px,#d40a00 452.5px,#c90900 453.5px,#9b3700 454.5px,#616900 455.5px,#388005 456.5px,#009315 458.5px,#00941a 464.5px,#009646 471.5px,#009647 482px)"></i><i style="width:1px;background:linear-gradient(#009530 0px,#009312 89.5px,#3a8005 183.5px,#3c7f04 272.5px,#507800 276.5px,#943d00 286.5px,#c30f00 296.5px,#d30700 297.5px,#d61400 321.5px,#e26100 390.5px,#e46d00 414.5px,#e36700 423.5px,#e05000 434.5px,#dc3200 443.5px,#d51000 449.5px,#d40900 450.5px,#c90900 451.5px,#9b3700 452.5px,#616900 453.5px,#388005 454.5px,#009315 456.5px,#00941a 462.5px,#009646 469.5px,#009648 482px)"></i><i style="width:1px;background:linear-gradient(#009643 0px,#009638 28.5px,#009530 108.5px,#009312 243.5px,#079010 270.5px,#507800 283.5px,#943d00 293.5px,#c30f00 303.5px,#d30600 304.5px,#d61200 327.5px,#e05600 386.5px,#e36500 414.5px,#e25f00 423.5px,#df4b00 433.5px,#dc3100 441.5px,#d40900 448.5px,#c90900 449.5px,#9b3700 450.5px,#616900 451.5px,#388005 452.5px,#009315 454.5px,#00941a 460.5px,#009646 467.5px,#009648 482px)"></i><i style="width:1px;background:linear-gradient(#009465 0px,#00955a 28.5px,#009555 108.5px,#009638 183.5px,#009423 275.5px,#009314 281.5px,#537500 296.5px,#973b00 306.5px,#c50d00 316.5px,#d30600 317.5px,#d61200 337.5px,#e05600 389.5px,#e36500 414.5px,#e26000 422.5px,#df4c00 432.5px,#dc3200 440.5px,#d40900 447.5px,#c80a00 448.5px,#9a3800 449.5px,#606a00 450.5px,#378006 451.5px,#188b0d 452.5px,#009315 453.5px,#00941a 459.5px,#009646 466.5px,#009648 482px)"></i><i style="width:1px;background:linear-gradient(#00826e 0px,#009468 109.5px,#00963e 183.5px,#00952c 275.5px,#009313 284.5px,#4f7800 298.5px,#933f00 308.5px,#c21000 318.5px,#d30600 319.5px,#d61200 339.5px,#e05600 390.5px,#e36500 414.5px,#e25e00 423.5px,#df4900 433.5px,#dc3200 440.5px,#d40900 447.5px,#c70b00 448.5px,#983a00 449.5px,#5e6c00 450.5px,#358106 451.5px,#168c0d 452.5px,#009315 453.5px,#009317 458.5px,#009646 466.5px,#009648 482px)"></i><i style="width:1px;background:linear-gradient(#00756f 0px,#009468 118.5px,#00963e 183.5px,#00952e 277.5px,#009312 287.5px,#507800 301.5px,#943d00 311.5px,#c30f00 321.5px,#d30600 322.5px,#d61200 341.5px,#e05500 390.5px,#e36400 414.5px,#e25e00 423.5px,#df4900 433.5px,#dc3100 440.5px,#d40900 447.5px,#c60c00 448.5px,#973b00 449.5px,#5b6e00 450.5px,#348206 451.5px,#148c0e 452.5px,#009315 453.5px,#009317 458.5px,#009646 466.5px,#009648 482px)"></i><i style="width:1px;background:linear-gradient(#00716e 0px,#009468 118.5px,#00963e 183.5px,#00952e 279.5px,#009314 289.5px,#019312 290.5px,#527600 304.5px,#963c00 314.5px,#c40e00 324.5px,#d30600 325.5px,#d61200 343.5px,#e05500 391.5px,#e36400 414.5px,#e25e00 423.5px,#df4900 433.5px,#dc3100 440.5px,#d40900 447.5px,#c50d00 448.5px,#963c00 449.5px,#597000 450.5px,#128d0e 452.5px,#009315 453.5px,#009317 458.5px,#009646 466.5px,#009648 482px)"></i><i style="width:1px;background:linear-gradient(#00716e 0px,#009468 118.5px,#00963e 183.5px,#00952e 282.5px,#009314 292.5px,#4e7901 306.5px,#973b00 317.5px,#c11100 326.5px,#d30600 327.5px,#d51100 345.5px,#e05500 392.5px,#e36400 414.5px,#e25d00 423.5px,#df4800 433.5px,#dc3000 440.5px,#d40800 447.5px,#c40e00 448.5px,#943e00 449.5px,#577200 450.5px,#108d0e 452.5px,#009315 453.5px,#009317 458.5px,#009644 465.5px,#009648 482px)"></i><i style="width:1px;background:linear-gradient(#00716e 0px,#009468 120.5px,#009642 183.5px,#00952e 257.5px,#00952e 285.5px,#009313 295.5px,#4f7800 309.5px,#933f00 319.5px,#c21000 329.5px,#d30600 330.5px,#d51100 347.5px,#e05400 392.5px,#e36400 414.5px,#e25d00 423.5px,#df4800 433.5px,#dc3000 440.5px,#d40800 447.5px,#c30f00 448.5px,#914000 449.5px,#557400 450.5px,#0f8e0f 452.5px,#009316 453.5px,#009317 458.5px,#009644 465.5px,#009648 482px)"></i><i style="width:1px;background:linear-gradient(#006f6e 0px,#009468 129.5px,#00952f 257.5px,#00952e 288.5px,#009312 298.5px,#517700 312.5px,#953d00 322.5px,#c30f00 332.5px,#d30600 333.5px,#d61200 350.5px,#e05400 393.5px,#e36300 414.5px,#e15d00 423.5px,#df4800 433.5px,#dc3000 440.5px,#d40800 447.5px,#c21000 448.5px,#8f4200 449.5px,#527600 450.5px,#0d8f0f 452.5px,#009316 453.5px,#009317 458.5px,#009645 465.5px,#009648 482px)"></i><i style="width:1px;background:linear-gradient(#006c6e 0px,#007c70 41.5px,#009462 182.5px,#009532 257.5px,#009531 289.5px,#009314 300.5px,#537600 315.5px,#963c00 325.5px,#c40e00 335.5px,#d30600 336.5px,#d61200 352.5px,#e05400 394.5px,#e26300 414.5px,#e15d00 423.5px,#df4800 433.5px,#db2f00 440.5px,#d40800 447.5px,#c11100 448.5px,#8d4300 449.5px,#507800 450.5px,#0b8f10 452.5px,#009316 453.5px,#009317 458.5px,#009646 465.5px,#009549 482px)"></i><i style="width:1px;background:linear-gradient(#006a6d 0px,#007c70 46.5px,#009468 192.5px,#00963c 257.5px,#00963c 288.5px,#009313 303.5px,#4e7900 317.5px,#983a00 328.5px,#c11100 337.5px,#d30500 338.5px,#d61200 354.5px,#e05400 395.5px,#e26300 414.5px,#e15c00 423.5px,#de4400 434.5px,#db2f00 440.5px,#d00200 447.5px,#725b00 449.5px,#477b02 450.5px,#099010 452.5px,#009316 453.5px,#009317 458.5px,#009647 465.5px,#00954a 482px)"></i><i style="width:1px;background:linear-gradient(#006a6d 0px,#007c70 48.5px,#00886c 107.5px,#008d6a 182.5px,#009468 203.5px,#00954d 257.5px,#00954d 275.5px,#00963f 290.5px,#009313 306.5px,#507800 320.5px,#943e00 330.5px,#c21000 340.5px,#d30500 341.5px,#d51100 356.5px,#e05300 395.5px,#e26200 414.5px,#e15c00 423.5px,#df4700 433.5px,#db2f00 440.5px,#cf0300 447.5px,#705d00 449.5px,#457c02 450.5px,#079110 452.5px,#009316 453.5px,#009317 458.5px,#009648 465.5px,#00954b 482px)"></i><i style="width:1px;background:linear-gradient(#006a6d 0px,#007c70 48.5px,#00886c 107.5px,#009468 218.5px,#00955d 260.5px,#00963f 293.5px,#009312 309.5px,#517700 323.5px,#953d00 333.5px,#c40e00 343.5px,#d30500 344.5px,#d51100 358.5px,#e05300 396.5px,#e26200 414.5px,#e15c00 423.5px,#df4700 433.5px,#db2e00 440.5px,#d40b00 446.5px,#ce0400 447.5px,#a23000 448.5px,#6d5f00 449.5px,#437c03 450.5px,#059111 452.5px,#009316 453.5px,#009318 458.5px,#009549 465.5px,#00954c 482px)"></i><i style="width:1px;background:linear-gradient(#006a6d 0px,#007c70 48.5px,#00886c 107.5px,#009468 250.5px,#009640 295.5px,#009314 311.5px,#537500 326.5px,#973b00 336.5px,#c50d00 346.5px,#d30500 347.5px,#d61200 361.5px,#e05200 396.5px,#e26200 414.5px,#e15b00 423.5px,#df4600 433.5px,#dc3300 439.5px,#d40a00 446.5px,#cd0500 447.5px,#a03200 448.5px,#6b6100 449.5px,#417d03 450.5px,#039211 452.5px,#009318 458.5px,#00954a 465.5px,#00954c 482px)"></i><i style="width:1px;background:linear-gradient(#006a6d 0px,#007c70 48.5px,#00886c 107.5px,#009468 253.5px,#00963f 298.5px,#009313 314.5px,#4e7900 328.5px,#983a00 339.5px,#c11100 348.5px,#d30500 349.5px,#d61200 363.5px,#e05200 397.5px,#e26200 414.5px,#e15b00 423.5px,#df4600 433.5px,#dc3200 439.5px,#d40a00 446.5px,#cc0600 447.5px,#9f3300 448.5px,#696300 449.5px,#3f7e04 450.5px,#019312 452.5px,#009319 458.5px,#00954a 465.5px,#00954d 482px)"></i><i style="width:1px;background:linear-gradient(#006a6d 0px,#007c70 48.5px,#00886c 107.5px,#009468 255.5px,#00963f 301.5px,#009312 317.5px,#507800 331.5px,#943e00 341.5px,#c30f00 351.5px,#d30500 352.5px,#d61200 365.5px,#e05300 398.5px,#e26100 414.5px,#e15c00 422.5px,#df4900 432.5px,#dc3200 439.5px,#d40a00 446.5px,#cb0700 447.5px,#9e3400 448.5px,#676500 449.5px,#3d7e04 450.5px,#009312 452.5px,#009319 458.5px,#00954b 465.5px,#00954e 482px)"></i><i style="width:1px;background:linear-gradient(#006a6d 0px,#007c70 48.5px,#00886c 107.5px,#009468 258.5px,#00963f 304.5px,#009314 319.5px,#019312 320.5px,#527600 334.5px,#963c00 344.5px,#c40e00 354.5px,#d30500 355.5px,#d51100 367.5px,#e05300 399.5px,#e26100 414.5px,#e15c00 422.5px,#df4800 432.5px,#dc3200 439.5px,#d51100 445.5px,#d40a00 446.5px,#ca0800 447.5px,#9d3500 448.5px,#646700 449.5px,#3b7f05 450.5px,#009313 452.5px,#00941a 458.5px,#00954c 465.5px,#00954f 482px)"></i><i style="width:1px;background:linear-gradient(#006a6d 0px,#007c70 48.5px,#00886c 107.5px,#009468 261.5px,#009640 306.5px,#009314 322.5px,#4d7901 336.5px,#973b00 347.5px,#c50d00 357.5px,#d30500 358.5px,#d51100 369.5px,#e05100 399.5px,#e26100 414.5px,#e15c00 422.5px,#df4800 432.5px,#dc3100 439.5px,#d40a00 446.5px,#c90900 447.5px,#9b3700 448.5px,#626800 449.5px,#398005 450.5px,#009314 452.5px,#00941a 458.5px,#00954d 465.5px,#00954f 482px)"></i><i style="width:1px;background:linear-gradient(#006a6d 0px,#007c70 48.5px,#00886c 107.5px,#009468 264.5px,#00963f 309.5px,#009313 325.5px,#4f7800 339.5px,#933f00 349.5px,#c21000 359.5px,#d30500 360.5px,#d51100 371.5px,#e05200 400.5px,#e26000 414.5px,#e15b00 422.5px,#df4700 432.5px,#dc3300 438.5px,#d40a00 445.5px,#cb0700 446.5px,#9d3500 447.5px,#666600 448.5px,#3c7f04 449.5px,#009313 451.5px,#00941a 457.5px,#00954d 464.5px,#009550 482px)"></i><i style="width:1px;background:linear-gradient(#006a6d 0px,#007c70 48.5px,#00886c 107.5px,#009468 266.5px,#00963f 312.5px,#009312 328.5px,#517800 342.5px,#953d00 352.5px,#c30f00 362.5px,#d30500 363.5px,#d61200 374.5px,#e05200 401.5px,#e26000 414.5px,#e15900 423.5px,#df4600 431.5px,#dc3100 437.5px,#ce0400 444.5px,#6f5e00 446.5px,#447c03 447.5px,#069111 449.5px,#009316 450.5px,#009318 455.5px,#00954e 462.5px,#009551 482px)"></i><i style="width:1px;background:linear-gradient(#006a6d 0px,#007c70 48.5px,#00886c 107.5px,#009468 269.5px,#00963f 315.5px,#009314 330.5px,#019312 331.5px,#527600 345.5px,#963c00 355.5px,#c40e00 365.5px,#d30500 366.5px,#d61200 376.5px,#e05000 401.5px,#e26000 414.5px,#e15900 422.5px,#df4600 430.5px,#dc3400 435.5px,#d40800 442.5px,#c30f00 443.5px,#904100 444.5px,#537500 445.5px,#0e8e0f 447.5px,#009316 448.5px,#009317 453.5px,#00954e 460.5px,#009552 482px)"></i><i style="width:1px;background:linear-gradient(#006a6d 0px,#007c70 48.5px,#00886c 107.5px,#009468 272.5px,#009640 317.5px,#009313 333.5px,#4e7901 347.5px,#983a00 358.5px,#c11100 367.5px,#d30300 368.5px,#d50d00 378.5px,#de4300 402.5px,#df4e00 414.5px,#df4900 422.5px,#dd3b00 429.5px,#db2e00 433.5px,#d40900 440.5px,#c70b00 441.5px,#983a00 442.5px,#5c6d00 443.5px,#348106 444.5px,#158c0d 445.5px,#009315 446.5px,#009317 451.5px,#00954d 458.5px,#009550 459.5px,#009553 482px)"></i><i style="width:1px;background:linear-gradient(#006a6d 0px,#007c70 48.5px,#00886c 107.5px,#009468 274.5px,#00963f 320.5px,#009313 336.5px,#4f7800 350.5px,#933e00 360.5px,#c21000 370.5px,#cf0300 371.5px,#d20200 379.5px,#d92300 404.5px,#da2a00 415.5px,#d82000 428.5px,#d40800 438.5px,#c60c00 439.5px,#973b00 440.5px,#5b6f00 441.5px,#338206 442.5px,#148c0e 443.5px,#009315 444.5px,#009317 449.5px,#00954e 456.5px,#009550 457.5px,#009554 482px)"></i><i style="width:1px;background:linear-gradient(#006a6d 0px,#007c70 48.5px,#00886c 107.5px,#009468 277.5px,#00963f 323.5px,#009312 339.5px,#517700 353.5px,#953d00 363.5px,#cb0700 374.5px,#d20000 384.5px,#d61500 415.5px,#d50e00 433.5px,#cf0300 436.5px,#735a00 438.5px,#487b02 439.5px,#0a9010 441.5px,#009316 442.5px,#009317 447.5px,#009551 454.5px,#009556 482px)"></i><i style="width:1px;background:linear-gradient(#006a6d 0px,#007c70 48.5px,#00886c 107.5px,#009468 280.5px,#009640 325.5px,#009314 341.5px,#537600 356.5px,#973b00 366.5px,#cb0700 377.5px,#d20000 385.5px,#d71700 415.5px,#d61200 427.5px,#d40900 433.5px,#ca0800 434.5px,#9e3400 435.5px,#676400 436.5px,#3d7e04 437.5px,#009312 439.5px,#00941a 445.5px,#009552 452.5px,#009557 482px)"></i><i style="width:1px;background:linear-gradient(#006a6d 0px,#007c70 48.5px,#00886c 107.5px,#009468 281.5px,#00963f 327.5px,#009312 343.5px,#507800 357.5px,#943d00 367.5px,#cc0600 378.5px,#d20100 386.5px,#d71a00 415.5px,#d61300 427.5px,#d40800 433.5px,#c60c00 434.5px,#983a00 435.5px,#5c6d00 436.5px,#348106 437.5px,#158c0d 438.5px,#009315 439.5px,#009317 444.5px,#009550 451.5px,#009553 452.5px,#009557 482px)"></i><i style="width:1px;background:linear-gradient(#006a6d 0px,#007c70 48.5px,#00886c 107.5px,#009468 281.5px,#00963f 327.5px,#009312 343.5px,#507800 357.5px,#943d00 367.5px,#c30f00 377.5px,#cc0600 378.5px,#d20000 385.5px,#d71800 406.5px,#d81c00 415.5px,#d61500 428.5px,#d30700 435.5px,#c21000 436.5px,#904100 437.5px,#537500 438.5px,#0e8e0f 440.5px,#009316 441.5px,#009317 446.5px,#009552 453.5px,#009558 482px)"></i><i style="width:1px;background:linear-gradient(#006a6d 0px,#007c70 48.5px,#00886c 107.5px,#009468 281.5px,#00963f 327.5px,#009312 343.5px,#507800 357.5px,#943d00 367.5px,#c30f00 377.5px,#cd0500 378.5px,#d20000 384.5px,#d71a00 406.5px,#d81f00 415.5px,#d61500 430.5px,#d40900 436.5px,#cd0500 437.5px,#a23000 438.5px,#6f5e00 439.5px,#447c03 440.5px,#069111 442.5px,#009316 443.5px,#009318 448.5px,#009554 455.5px,#009558 482px)"></i><i style="width:1px;background:linear-gradient(#006a6d 0px,#007c70 48.5px,#00886c 107.5px,#009468 281.5px,#00963f 327.5px,#009312 343.5px,#507800 357.5px,#943d00 367.5px,#c30f00 377.5px,#ce0400 378.5px,#d20100 384.5px,#d81f00 406.5px,#d92400 415.5px,#d81c00 428.5px,#d40900 438.5px,#ca0800 439.5px,#9d3500 440.5px,#656600 441.5px,#3c7f04 442.5px,#009313 444.5px,#00941a 450.5px,#009555 457.5px,#009558 482px)"></i><i style="width:1px;background:linear-gradient(#006a6d 0px,#007c70 48.5px,#00886c 107.5px,#009468 281.5px,#00963f 327.5px,#009312 343.5px,#507800 357.5px,#943d00 367.5px,#c30f00 377.5px,#cf0300 378.5px,#d20200 384.5px,#da2700 406.5px,#db2d00 415.5px,#d92200 429.5px,#d40800 440.5px,#c40e00 441.5px,#953d00 442.5px,#587100 443.5px,#118d0e 445.5px,#009315 446.5px,#009317 451.5px,#009552 458.5px,#009555 459.5px,#009558 482px)"></i><i style="width:1px;background:linear-gradient(#006a6d 0px,#007c70 48.5px,#00886c 107.5px,#009468 281.5px,#00963f 327.5px,#009312 343.5px,#507800 357.5px,#943d00 367.5px,#c30f00 377.5px,#d10100 378.5px,#d40800 387.5px,#dc3000 407.5px,#dc3500 415.5px,#da2900 429.5px,#d40900 441.5px,#cc0600 442.5px,#a03200 443.5px,#6a6200 444.5px,#407d04 445.5px,#029212 447.5px,#009319 453.5px,#009555 460.5px,#009558 482px)"></i><i style="width:1px;background:linear-gradient(#006a6d 0px,#007c70 48.5px,#00886c 107.5px,#009468 281.5px,#00963f 327.5px,#009312 343.5px,#507800 357.5px,#943d00 367.5px,#c30f00 377.5px,#d20000 378.5px,#d40a00 387.5px,#dc3200 406.5px,#dd3800 415.5px,#db2e00 429.5px,#d81c00 437.5px,#d40800 443.5px,#c40e00 444.5px,#953d00 445.5px,#587100 446.5px,#118d0e 448.5px,#009315 449.5px,#009317 454.5px,#009552 461.5px,#009555 462.5px,#009558 482px)"></i><i style="width:1px;background:linear-gradient(#006a6d 0px,#007c70 48.5px,#00886c 107.5px,#009468 281.5px,#00963f 327.5px,#009312 343.5px,#507800 357.5px,#943d00 367.5px,#c30f00 377.5px,#d20000 378.5px,#d40a00 387.5px,#dc3200 406.5px,#dd3800 415.5px,#db2e00 430.5px,#d71a00 439.5px,#d40900 444.5px,#cc0600 445.5px,#a03200 446.5px,#6a6200 447.5px,#407d04 448.5px,#029212 450.5px,#009319 456.5px,#009555 463.5px,#009557 482px)"></i><i style="width:1px;background:linear-gradient(#006a6d 0px,#007c70 48.5px,#00886c 107.5px,#009468 281.5px,#009640 326.5px,#009314 342.5px,#537600 357.5px,#973b00 367.5px,#c50d00 377.5px,#d20000 378.5px,#d40a00 387.5px,#dc3100 405.5px,#dd3900 415.5px,#db2e00 430.5px,#d81c00 439.5px,#d40900 445.5px,#c90900 446.5px,#9b3700 447.5px,#626800 448.5px,#398005 449.5px,#009314 451.5px,#00941b 457.5px,#009555 464.5px,#009557 482px)"></i><i style="width:1px;background:linear-gradient(#006a6d 0px,#007c70 48.5px,#00886c 107.5px,#009468 280.5px,#00963f 326.5px,#009312 342.5px,#517700 356.5px,#953d00 366.5px,#c30f00 376.5px,#d20000 377.5px,#d40900 386.5px,#dc3200 405.5px,#dd3900 415.5px,#db2f00 430.5px,#d81c00 439.5px,#d40900 445.5px,#ca0800 446.5px,#9d3500 447.5px,#656600 448.5px,#3c7f05 449.5px,#009313 451.5px,#00941a 457.5px,#009555 464.5px,#009557 482px)"></i><i style="width:1px;background:linear-gradient(#006a6d 0px,#007c70 48.5px,#00886c 107.5px,#009468 280.5px,#00963f 325.5px,#009313 341.5px,#4f7800 355.5px,#933f00 365.5px,#c21000 375.5px,#d20000 376.5px,#d40a00 386.5px,#dc3200 405.5px,#dd3900 415.5px,#db2f00 430.5px,#d81d00 439.5px,#d40900 445.5px,#cb0700 446.5px,#9e3400 447.5px,#676400 448.5px,#3e7e04 449.5px,#009312 451.5px,#00941a 457.5px,#009555 464.5px,#009557 482px)"></i><i style="width:1px;background:linear-gradient(#006a6d 0px,#007c70 48.5px,#00886c 107.5px,#009468 279.5px,#009640 324.5px,#009314 340.5px,#537500 355.5px,#973b00 365.5px,#c50d00 375.5px,#d20000 376.5px,#d40a00 385.5px,#dc3100 404.5px,#dd3a00 415.5px,#dc3000 430.5px,#d81d00 439.5px,#d40900 445.5px,#cc0600 446.5px,#a03200 447.5px,#6a6200 448.5px,#407d04 449.5px,#029212 451.5px,#009319 457.5px,#009555 464.5px,#009557 482px)"></i><i style="width:1px;background:linear-gradient(#006a6d 0px,#007c70 48.5px,#00886c 107.5px,#009468 278.5px,#00963f 324.5px,#009315 339.5px,#019312 340.5px,#517700 354.5px,#963c00 364.5px,#c40e00 374.5px,#d20000 375.5px,#d40b00 385.5px,#dc3200 404.5px,#dd3a00 415.5px,#dc3000 430.5px,#d81d00 439.5px,#d40a00 445.5px,#cd0500 446.5px,#a13100 447.5px,#6d5f00 448.5px,#427d03 449.5px,#049211 451.5px,#009316 452.5px,#009318 457.5px,#009555 464.5px,#009557 482px)"></i><i style="width:1px;background:linear-gradient(#006a6d 0px,#007c70 48.5px,#00886c 107.5px,#009468 277.5px,#00963f 323.5px,#009313 339.5px,#4f7800 353.5px,#933e00 363.5px,#c21000 373.5px,#d20000 374.5px,#d40a00 384.5px,#dc3300 404.5px,#dd3a00 415.5px,#dc3000 430.5px,#d81e00 439.5px,#d40a00 445.5px,#ce0400 446.5px,#a32f00 447.5px,#6f5d00 448.5px,#457c03 449.5px,#079111 451.5px,#009316 452.5px,#009318 457.5px,#009555 464.5px,#009557 482px)"></i><i style="width:1px;background:linear-gradient(#006a6d 0px,#007c70 48.5px,#00886c 107.5px,#009468 277.5px,#009640 322.5px,#009313 338.5px,#4e7901 352.5px,#983a00 363.5px,#c11100 372.5px,#d20000 373.5px,#d40900 383.5px,#dc3200 403.5px,#dd3a00 415.5px,#db2d00 432.5px,#d61300 443.5px,#cf0300 446.5px,#725b00 448.5px,#477b02 449.5px,#099010 451.5px,#009316 452.5px,#009317 457.5px,#009555 464.5px,#009557 482px)"></i><i style="width:1px;background:linear-gradient(#006a6d 0px,#007c70 48.5px,#00886c 107.5px,#009468 276.5px,#00963f 322.5px,#009314 337.5px,#019312 338.5px,#527600 352.5px,#963c00 362.5px,#c40e00 372.5px,#d20000 373.5px,#d40a00 383.5px,#dc3200 403.5px,#dd3b00 415.5px,#dc3100 430.5px,#d81e00 439.5px,#d30700 446.5px,#c11100 447.5px,#8d4300 448.5px,#507800 449.5px,#0b8f10 451.5px,#009316 452.5px,#009317 457.5px,#009554 464.5px,#009557 482px)"></i><i style="width:1px;background:linear-gradient(#006a6d 0px,#007c70 48.5px,#00886c 107.5px,#009468 275.5px,#00963f 321.5px,#009312 337.5px,#507800 351.5px,#943e00 361.5px,#c30f00 371.5px,#d20000 372.5px,#d40a00 382.5px,#dc3300 403.5px,#dd3b00 415.5px,#dc3100 430.5px,#d81e00 439.5px,#d40800 446.5px,#c21000 447.5px,#904100 448.5px,#537600 449.5px,#0d8f0f 451.5px,#009316 452.5px,#009317 457.5px,#009554 464.5px,#009557 482px)"></i><i style="width:1px;background:linear-gradient(#006a6d 0px,#007c70 48.5px,#00886c 107.5px,#009468 275.5px,#009640 320.5px,#009313 336.5px,#4e7900 350.5px,#983a00 361.5px,#c11100 370.5px,#d20000 371.5px,#d40b00 382.5px,#dc3200 402.5px,#dd3b00 415.5px,#dc3200 430.5px,#d81f00 439.5px,#d40800 446.5px,#c30f00 447.5px,#923f00 448.5px,#557300 449.5px,#0f8e0f 451.5px,#009316 452.5px,#009317 457.5px,#009553 464.5px,#009557 482px)"></i><i style="width:1px;background:linear-gradient(#006a6d 0px,#007c70 48.5px,#00886c 107.5px,#009468 274.5px,#009640 319.5px,#009313 335.5px,#4e7900 349.5px,#983a00 360.5px,#c11100 369.5px,#d20100 370.5px,#d40a00 381.5px,#dc3300 402.5px,#dd3c00 415.5px,#dc3200 430.5px,#d81f00 439.5px,#d40800 446.5px,#c40e00 447.5px,#953d00 448.5px,#587100 449.5px,#118d0e 451.5px,#009315 452.5px,#009317 457.5px,#009552 464.5px,#009557 482px)"></i><i style="width:1px;background:linear-gradient(#006a6d 0px,#007c70 48.5px,#00886c 107.5px,#009468 272.5px,#00963f 318.5px,#009313 334.5px,#507800 348.5px,#943e00 358.5px,#c21000 368.5px,#d20100 369.5px,#d40a00 380.5px,#dc3200 401.5px,#dd3c00 415.5px,#dc3100 431.5px,#d81d00 440.5px,#d40800 446.5px,#c50d00 447.5px,#973b00 448.5px,#5b6f00 449.5px,#338207 450.5px,#138c0e 451.5px,#009315 452.5px,#009317 457.5px,#009552 464.5px,#009555 465.5px,#009557 482px)"></i><i style="width:1px;background:linear-gradient(#006a6d 0px,#007c70 46.5px,#00896c 107.5px,#009468 271.5px,#00963f 317.5px,#009312 333.5px,#517700 347.5px,#953d00 357.5px,#c40e00 367.5px,#d20100 368.5px,#d40a00 379.5px,#dc3300 401.5px,#dd3c00 415.5px,#dc3100 431.5px,#d81d00 440.5px,#d40800 446.5px,#c70b00 447.5px,#983a00 448.5px,#5d6d00 449.5px,#358106 450.5px,#158c0d 451.5px,#009315 452.5px,#009317 457.5px,#009551 464.5px,#009555 465.5px,#009557 482px)"></i><i style="width:1px;background:linear-gradient(#006c6e 0px,#007c70 40.5px,#008b6b 108.5px,#009468 176.5px,#009464 275.5px,#00963e 316.5px,#009314 331.5px,#537500 346.5px,#973b00 356.5px,#c50d00 366.5px,#d20100 367.5px,#d40c00 379.5px,#dc3200 400.5px,#dd3d00 415.5px,#dc3100 431.5px,#d81d00 440.5px,#d40900 446.5px,#c80a00 447.5px,#9a3800 448.5px,#606b00 449.5px,#378006 450.5px,#178b0d 451.5px,#009315 452.5px,#00941c 458.5px,#009551 464.5px,#009555 465.5px,#009557 482px)"></i><i style="width:1px;background:linear-gradient(#006f6e 0px,#007c70 32.5px,#009468 138.5px,#009559 183.5px,#00955c 283.5px,#00963f 315.5px,#009312 331.5px,#507800 345.5px,#943d00 355.5px,#c30f00 365.5px,#d20100 366.5px,#d40b00 378.5px,#dc3300 400.5px,#dd3d00 415.5px,#dc3100 431.5px,#d81c00 440.5px,#d40a00 445.5px,#cc0600 446.5px,#a03200 447.5px,#6a6200 448.5px,#407d04 449.5px,#029212 451.5px,#009319 457.5px,#009555 464.5px,#009557 482px)"></i><i style="width:1px;background:linear-gradient(#00716e 0px,#009468 126.5px,#009550 183.5px,#009556 289.5px,#00963f 315.5px,#009312 331.5px,#507800 345.5px,#943d00 355.5px,#c30f00 365.5px,#d20100 366.5px,#d40b00 378.5px,#dc3300 400.5px,#dd3e00 415.5px,#dc3200 430.5px,#d81e00 438.5px,#d40800 444.5px,#c40e00 445.5px,#953d00 446.5px,#587100 447.5px,#118d0e 449.5px,#009315 450.5px,#009317 455.5px,#009552 462.5px,#009555 463.5px,#009558 482px)"></i><i style="width:1px;background:linear-gradient(#00716e 0px,#009468 123.5px,#00954d 183.5px,#009555 291.5px,#00963f 315.5px,#009312 331.5px,#507800 345.5px,#943d00 355.5px,#c30f00 365.5px,#d20100 366.5px,#d40b00 378.5px,#dc3400 400.5px,#de3e00 415.5px,#dc3100 430.5px,#d40a00 442.5px,#cc0600 443.5px,#a03200 444.5px,#6a6200 445.5px,#407d04 446.5px,#029212 448.5px,#009319 454.5px,#009555 461.5px,#009558 482px)"></i><i style="width:1px;background:linear-gradient(#00716e 0px,#009468 123.5px,#00954d 183.5px,#009555 291.5px,#00963f 315.5px,#009312 331.5px,#507800 345.5px,#943d00 355.5px,#c30f00 365.5px,#d20100 366.5px,#d40c00 378.5px,#dc3400 400.5px,#de3f00 415.5px,#dc3200 429.5px,#d40800 441.5px,#c40e00 442.5px,#953d00 443.5px,#587100 444.5px,#118d0e 446.5px,#009315 447.5px,#009317 452.5px,#009552 459.5px,#009555 460.5px,#009558 482px)"></i><i style="width:1px;background:linear-gradient(#00716e 0px,#009468 123.5px,#00954e 183.5px,#009555 291.5px,#00963f 315.5px,#009312 331.5px,#507800 345.5px,#943d00 355.5px,#c30f00 365.5px,#d20100 366.5px,#d40c00 378.5px,#dc3500 400.5px,#de3f00 414.5px,#dc3200 428.5px,#d40a00 439.5px,#cc0600 440.5px,#a03200 441.5px,#6a6200 442.5px,#407d04 443.5px,#029212 445.5px,#009319 451.5px,#009555 458.5px,#009558 482px)"></i><i style="width:1px;background:linear-gradient(#00716e 0px,#009468 125.5px,#009552 183.5px,#009555 291.5px,#00963f 315.5px,#009312 331.5px,#507800 345.5px,#943d00 355.5px,#c30f00 365.5px,#d20100 366.5px,#d40c00 378.5px,#dc3500 400.5px,#de4000 414.5px,#dc3300 427.5px,#d40800 438.5px,#c40e00 439.5px,#953d00 440.5px,#587100 441.5px,#118d0e 443.5px,#009315 444.5px,#009317 449.5px,#009552 456.5px,#009555 457.5px,#009559 482px)"></i><i style="width:1px;background:linear-gradient(#00716e 0px,#009468 132.5px,#00955a 183.5px,#009555 291.5px,#00963f 315.5px,#009312 331.5px,#507800 345.5px,#943d00 355.5px,#c30f00 365.5px,#d20100 366.5px,#d40c00 378.5px,#dc3600 400.5px,#de4100 414.5px,#dc3300 427.5px,#d40a00 437.5px,#cd0500 438.5px,#a03200 439.5px,#6b6100 440.5px,#417d03 441.5px,#039211 443.5px,#009319 449.5px,#009555 456.5px,#009559 482px)"></i><i style="width:1px;background:linear-gradient(#00716e 0px,#009069 108.5px,#009555 291.5px,#00963f 315.5px,#009312 331.5px,#507800 345.5px,#943d00 355.5px,#c30f00 365.5px,#d20100 366.5px,#d40c00 378.5px,#dd3600 400.5px,#de4100 414.5px,#dd3e00 421.5px,#dc3200 428.5px,#d40900 438.5px,#c60c00 439.5px,#973b00 440.5px,#5a6f00 441.5px,#338207 442.5px,#138d0e 443.5px,#009315 444.5px,#009317 449.5px,#009552 456.5px,#009555 457.5px,#009559 482px)"></i><i style="width:1px;background:linear-gradient(#00716e 0px,#009069 108.5px,#009468 187.5px,#009555 257.5px,#009555 291.5px,#00963f 315.5px,#009312 331.5px,#507800 345.5px,#943d00 355.5px,#c30f00 365.5px,#d20100 366.5px,#d40b00 377.5px,#dd3700 400.5px,#de4200 414.5px,#dc3300 428.5px,#d71a00 435.5px,#ce0400 439.5px,#a23000 440.5px,#6e5e00 441.5px,#447c03 442.5px,#069111 444.5px,#009316 445.5px,#009318 450.5px,#009555 457.5px,#009558 482px)"></i><i style="width:1px;background:linear-gradient(#00716e 0px,#009069 108.5px,#009468 192.5px,#009555 257.5px,#009555 291.5px,#00963f 315.5px,#009312 331.5px,#507800 345.5px,#943d00 355.5px,#c30f00 365.5px,#d20100 366.5px,#d40b00 377.5px,#dd3700 400.5px,#de4200 414.5px,#dd3e00 422.5px,#dc3200 429.5px,#d40900 439.5px,#c70b00 440.5px,#993900 441.5px,#5e6c00 442.5px,#358106 443.5px,#168c0d 444.5px,#009315 445.5px,#009317 450.5px,#009551 457.5px,#009555 458.5px,#009558 482px)"></i><i style="width:1px;background:linear-gradient(#00716e 0px,#009069 108.5px,#009468 192.5px,#009555 257.5px,#009555 291.5px,#00963f 315.5px,#009312 331.5px,#507800 345.5px,#943d00 355.5px,#c30f00 365.5px,#d20100 366.5px,#d40b00 377.5px,#dd3800 400.5px,#de4300 414.5px,#de3f00 422.5px,#dc3300 429.5px,#d71a00 436.5px,#cf0300 440.5px,#715b00 442.5px,#477b02 443.5px,#089010 445.5px,#009316 446.5px,#009317 451.5px,#009555 458.5px,#009558 482px)"></i><i style="width:1px;background:linear-gradient(#00716e 0px,#009069 108.5px,#009468 192.5px,#009555 257.5px,#009555 291.5px,#00963f 315.5px,#009312 331.5px,#507800 345.5px,#943d00 355.5px,#c30f00 365.5px,#d20200 366.5px,#d40b00 377.5px,#dd3800 400.5px,#de4300 414.5px,#de3f00 422.5px,#dc3200 430.5px,#d40900 440.5px,#c80a00 441.5px,#9a3800 442.5px,#616900 443.5px,#388005 444.5px,#009315 446.5px,#00941b 452.5px,#009555 459.5px,#009558 482px)"></i><i style="width:1px;background:linear-gradient(#00716e 0px,#009069 108.5px,#009468 192.5px,#009555 257.5px,#009555 291.5px,#00963f 315.5px,#009312 331.5px,#507800 345.5px,#943d00 355.5px,#c30f00 365.5px,#d20200 366.5px,#d40c00 377.5px,#dd3800 400.5px,#de4400 414.5px,#de4000 422.5px,#dc3300 430.5px,#d40800 441.5px,#c11100 442.5px,#8e4300 443.5px,#507800 444.5px,#0b8f0f 446.5px,#009316 447.5px,#009317 452.5px,#009554 459.5px,#009558 482px)"></i><i style="width:1px;background:linear-gradient(#00716e 0px,#009069 108.5px,#009468 186.5px,#009555 257.5px,#009555 291.5px,#00963f 315.5px,#009312 331.5px,#507800 345.5px,#943d00 355.5px,#c30f00 365.5px,#d20200 366.5px,#d40c00 377.5px,#dd3900 400.5px,#de4500 414.5px,#de4100 422.5px,#dc3400 430.5px,#d40900 441.5px,#ca0800 442.5px,#9c3600 443.5px,#646700 444.5px,#3b7f05 445.5px,#009313 447.5px,#00941a 453.5px,#009555 460.5px,#009558 482px)"></i><i style="width:1px;background:linear-gradient(#00716e 0px,#009069 108.5px,#009555 291.5px,#00963f 315.5px,#009312 331.5px,#507800 345.5px,#943d00 355.5px,#c30f00 365.5px,#d20200 366.5px,#d40c00 377.5px,#dd3b00 401.5px,#de4500 415.5px,#de4000 423.5px,#dc3300 431.5px,#d40800 442.5px,#c30f00 443.5px,#914000 444.5px,#547500 445.5px,#0e8e0f 447.5px,#009316 448.5px,#009317 453.5px,#009553 460.5px,#009558 482px)"></i><i style="width:1px;background:linear-gradient(#00716e 0px,#009468 131.5px,#009559 183.5px,#009555 291.5px,#00963f 315.5px,#009312 331.5px,#507800 345.5px,#943d00 355.5px,#c30f00 365.5px,#d20200 366.5px,#d40c00 377.5px,#dd3b00 401.5px,#de4600 415.5px,#de4100 423.5px,#dc3400 431.5px,#d40a00 442.5px,#cb0700 443.5px,#9e3400 444.5px,#686400 445.5px,#3e7e04 446.5px,#009312 448.5px,#00941a 454.5px,#009555 461.5px,#009558 482px)"></i><i style="width:1px;background:linear-gradient(#00716e 0px,#009468 126.5px,#009553 183.5px,#009555 291.5px,#00963f 315.5px,#009312 331.5px,#507800 345.5px,#943d00 355.5px,#c30f00 365.5px,#d20200 366.5px,#d40c00 377.5px,#dd3c00 401.5px,#df4600 415.5px,#de4200 423.5px,#dc3300 432.5px,#d40800 443.5px,#c40e00 444.5px,#943e00 445.5px,#577200 446.5px,#118d0e 448.5px,#009315 449.5px,#009317 454.5px,#009553 461.5px,#009555 462.5px,#009558 482px)"></i><i style="width:1px;background:linear-gradient(#00716e 0px,#009468 124.5px,#009551 183.5px,#009555 291.5px,#00963f 315.5px,#009312 331.5px,#507800 345.5px,#943d00 355.5px,#c30f00 365.5px,#d20200 366.5px,#d50d00 377.5px,#dd3c00 401.5px,#df4700 415.5px,#de4100 424.5px,#dc3400 432.5px,#d40900 443.5px,#ca0800 444.5px,#9c3600 445.5px,#646700 446.5px,#3a7f05 447.5px,#009314 449.5px,#00941b 455.5px,#009555 462.5px,#009558 482px)"></i><i style="width:1px;background:linear-gradient(#00716e 0px,#009468 124.5px,#009551 183.5px,#009555 291.5px,#00963f 315.5px,#009312 331.5px,#507800 345.5px,#943d00 355.5px,#c30f00 365.5px,#d20200 366.5px,#d50d00 377.5px,#dd3d00 401.5px,#df4800 415.5px,#de4300 423.5px,#dc3400 432.5px,#d40a00 443.5px,#cc0600 444.5px,#9f3300 445.5px,#696300 446.5px,#3f7e04 447.5px,#019312 449.5px,#009319 455.5px,#009555 462.5px,#009558 482px)"></i><i style="width:1px;background:linear-gradient(#00716e 0px,#009468 124.5px,#009551 183.5px,#009555 291.5px,#00963f 315.5px,#009312 331.5px,#507800 345.5px,#943d00 355.5px,#c30f00 365.5px,#d20200 366.5px,#d50d00 377.5px,#dd3d00 401.5px,#df4800 415.5px,#de4200 424.5px,#dc3300 433.5px,#d40a00 443.5px,#ce0400 444.5px,#a23000 445.5px,#6e5e00 446.5px,#437c03 447.5px,#059111 449.5px,#009316 450.5px,#009318 455.5px,#009555 462.5px,#009558 482px)"></i><i style="width:1px;background:linear-gradient(#00716e 0px,#009468 124.5px,#009551 183.5px,#009555 291.5px,#00963f 315.5px,#009312 331.5px,#507800 345.5px,#943d00 355.5px,#c30f00 365.5px,#d20200 366.5px,#d50d00 377.5px,#dd3e00 401.5px,#df4900 415.5px,#de4300 424.5px,#dc3300 433.5px,#d61600 441.5px,#d00200 444.5px,#735a00 446.5px,#487b02 447.5px,#0a9010 449.5px,#009316 450.5px,#009317 455.5px,#009555 462.5px,#009558 482px)"></i><i style="width:1px;background:linear-gradient(#00716e 0px,#009468 124.5px,#009551 183.5px,#009555 291.5px,#00963f 315.5px,#009312 331.5px,#507800 345.5px,#943d00 355.5px,#c30f00 365.5px,#d20200 366.5px,#d50d00 377.5px,#de3e00 401.5px,#df4900 415.5px,#de4400 424.5px,#dd3600 432.5px,#d40800 444.5px,#c30f00 445.5px,#914000 446.5px,#547500 447.5px,#0e8e0f 449.5px,#009316 450.5px,#009317 455.5px,#009553 462.5px,#009558 482px)"></i><i style="width:1px;background:linear-gradient(#00716e 0px,#009468 124.5px,#009551 183.5px,#009555 291.5px,#00963f 315.5px,#009312 331.5px,#507800 345.5px,#943d00 355.5px,#c30f00 365.5px,#d20200 366.5px,#d50d00 377.5px,#de3f00 401.5px,#df4a00 415.5px,#de4500 423.5px,#dd3700 432.5px,#d92400 438.5px,#d40800 444.5px,#c50d00 445.5px,#963c00 446.5px,#597000 447.5px,#328207 448.5px,#128d0e 449.5px,#009315 450.5px,#009317 455.5px,#009552 462.5px,#009555 463.5px,#009558 482px)"></i><i style="width:1px;background:linear-gradient(#00716e 0px,#009468 124.5px,#009551 183.5px,#009555 291.5px,#00963f 315.5px,#009312 331.5px,#507800 345.5px,#943d00 355.5px,#c30f00 365.5px,#d20200 366.5px,#d50e00 377.5px,#de3f00 401.5px,#df4a00 415.5px,#de4500 424.5px,#dd3700 432.5px,#d92400 438.5px,#d40900 444.5px,#c70b00 445.5px,#993900 446.5px,#5e6c00 447.5px,#368106 448.5px,#168b0d 449.5px,#009315 450.5px,#009317 455.5px,#009555 463.5px,#009558 482px)"></i><i style="width:1px;background:linear-gradient(#00716e 0px,#009468 124.5px,#009551 183.5px,#009555 291.5px,#00963f 315.5px,#009312 331.5px,#507800 345.5px,#943d00 355.5px,#c30f00 365.5px,#d30300 366.5px,#d50e00 377.5px,#de4000 401.5px,#df4b00 415.5px,#de4500 424.5px,#dd3800 432.5px,#d92500 438.5px,#d40900 444.5px,#ca0800 445.5px,#9c3600 446.5px,#646700 447.5px,#3a7f05 448.5px,#009314 450.5px,#00941b 456.5px,#009555 463.5px,#009558 482px)"></i><i style="width:1px;background:linear-gradient(#00716e 0px,#009468 124.5px,#009551 183.5px,#009554 289.5px,#009640 312.5px,#009313 328.5px,#4e7900 342.5px,#983a00 353.5px,#c11100 362.5px,#d30300 363.5px,#d50e00 375.5px,#de4200 401.5px,#df4c00 415.5px,#df4700 424.5px,#dd3900 432.5px,#da2600 438.5px,#d40a00 444.5px,#cc0600 445.5px,#9f3300 446.5px,#696300 447.5px,#3f7e04 448.5px,#019312 450.5px,#009319 456.5px,#009555 463.5px,#009557 482px)"></i><i style="width:1px;background:linear-gradient(#00716e 0px,#009468 124.5px,#009551 183.5px,#009555 286.5px,#00963f 310.5px,#009314 325.5px,#019312 326.5px,#527700 340.5px,#963c00 350.5px,#c40e00 360.5px,#d30300 361.5px,#d50f00 373.5px,#de4200 399.5px,#e04e00 414.5px,#df4800 424.5px,#dd3800 433.5px,#d92300 439.5px,#d40a00 444.5px,#ce0400 445.5px,#a23000 446.5px,#6e5e00 447.5px,#437c03 448.5px,#059111 450.5px,#009316 451.5px,#009318 456.5px,#009555 463.5px,#009557 482px)"></i><i style="width:1px;background:linear-gradient(#00716e 0px,#009468 124.5px,#009551 183.5px,#009554 274.5px,#00963e 298.5px,#009314 313.5px,#547500 328.5px,#973b00 338.5px,#c11100 347.5px,#d30300 348.5px,#d50e00 363.5px,#de4500 397.5px,#e05000 414.5px,#df4a00 424.5px,#dd3900 433.5px,#d82000 440.5px,#d00200 445.5px,#735a00 447.5px,#487b02 448.5px,#0a9010 450.5px,#009316 451.5px,#009317 456.5px,#009555 463.5px,#009557 482px)"></i><i style="width:1px;background:linear-gradient(#00716e 0px,#009468 124.5px,#009551 183.5px,#009555 269.5px,#00963f 293.5px,#009312 309.5px,#507800 323.5px,#943d00 333.5px,#c30f00 343.5px,#d30300 344.5px,#d50e00 359.5px,#de4600 395.5px,#e05200 414.5px,#df4d00 423.5px,#dd3d00 432.5px,#db2f00 437.5px,#d40800 445.5px,#c30f00 446.5px,#914000 447.5px,#547500 448.5px,#0e8e0f 450.5px,#009316 451.5px,#009317 456.5px,#009553 463.5px,#009557 482px)"></i><i style="width:1px;background:linear-gradient(#00716e 0px,#009468 124.5px,#009551 183.5px,#009555 269.5px,#00963f 293.5px,#009312 309.5px,#507800 323.5px,#943d00 333.5px,#c30f00 343.5px,#d30400 344.5px,#d50f00 359.5px,#df4800 396.5px,#e05400 414.5px,#e04f00 423.5px,#de3f00 432.5px,#dc3000 437.5px,#d40900 445.5px,#c50d00 446.5px,#963c00 447.5px,#597000 448.5px,#328207 449.5px,#128d0e 450.5px,#009315 451.5px,#009317 456.5px,#009552 463.5px,#009555 464.5px,#009557 482px)"></i><i style="width:1px;background:linear-gradient(#00716e 0px,#009468 125.5px,#009552 183.5px,#009555 269.5px,#00963f 293.5px,#009312 309.5px,#507800 323.5px,#943d00 333.5px,#c30f00 343.5px,#d30400 344.5px,#d50f00 359.5px,#df4700 395.5px,#e05400 414.5px,#e04f00 423.5px,#de3e00 432.5px,#dc3000 437.5px,#d40900 445.5px,#c70b00 446.5px,#993900 447.5px,#5e6c00 448.5px,#368106 449.5px,#168b0d 450.5px,#009315 451.5px,#009317 456.5px,#009555 464.5px,#009557 482px)"></i><i style="width:1px;background:linear-gradient(#00716e 0px,#009468 128.5px,#009557 183.5px,#009554 274.5px,#00963e 298.5px,#009314 313.5px,#547500 328.5px,#973b00 338.5px,#c11100 347.5px,#d30300 348.5px,#d50f00 363.5px,#de4500 397.5px,#e05100 414.5px,#df4c00 423.5px,#dd3d00 432.5px,#db2f00 437.5px,#d40900 445.5px,#c80a00 446.5px,#993900 447.5px,#5f6b00 448.5px,#368106 449.5px,#178b0d 450.5px,#009315 451.5px,#009317 456.5px,#009555 464.5px,#009557 482px)"></i><i style="width:1px;background:linear-gradient(#00716e 0px,#007c70 27.5px,#009468 137.5px,#00955d 183.5px,#009555 283.5px,#00963f 307.5px,#009312 323.5px,#517700 337.5px,#953d00 347.5px,#c30f00 357.5px,#d30300 358.5px,#d50d00 370.5px,#de4200 399.5px,#df4e00 414.5px,#df4900 423.5px,#dd3a00 432.5px,#da2900 438.5px,#d40900 445.5px,#c50d00 446.5px,#963c00 447.5px,#5a6f00 448.5px,#338207 449.5px,#138d0e 450.5px,#009315 451.5px,#009317 456.5px,#009552 463.5px,#009555 464.5px,#009557 482px)"></i><i style="width:1px;background:linear-gradient(#00716e 0px,#009069 108.5px,#009554 285.5px,#00963e 309.5px,#009314 324.5px,#4d7901 338.5px,#973b00 349.5px,#c50d00 359.5px,#d30300 360.5px,#d50e00 372.5px,#de3f00 399.5px,#df4b00 414.5px,#df4700 423.5px,#dd3800 432.5px,#da2700 438.5px,#d40800 445.5px,#c30f00 446.5px,#933f00 447.5px,#567300 448.5px,#0f8e0f 450.5px,#009316 451.5px,#009317 456.5px,#009553 463.5px,#009557 482px)"></i><i style="width:1px;background:linear-gradient(#00716e 0px,#009069 108.5px,#009555 286.5px,#00963f 310.5px,#009313 326.5px,#4f7800 340.5px,#943e00 350.5px,#c21000 360.5px,#d20200 361.5px,#d40c00 373.5px,#dd3e00 400.5px,#df4800 415.5px,#de4300 424.5px,#dc3400 433.5px,#d40800 445.5px,#c11100 446.5px,#8e4300 447.5px,#517700 448.5px,#0c8f0f 450.5px,#009316 451.5px,#009317 456.5px,#009554 463.5px,#009557 482px)"></i><i style="width:1px;background:linear-gradient(#00716e 0px,#007d70 28.5px,#009468 139.5px,#009555 288.5px,#00963f 312.5px,#009314 327.5px,#019312 328.5px,#527600 342.5px,#963c00 352.5px,#c40e00 362.5px,#d20200 363.5px,#d50d00 375.5px,#dd3b00 400.5px,#de4600 415.5px,#de4100 424.5px,#dc3300 433.5px,#d61500 442.5px,#cf0300 445.5px,#715c00 447.5px,#467b02 448.5px,#089010 450.5px,#009316 451.5px,#009317 456.5px,#009555 463.5px,#009557 482px)"></i><i style="width:1px;background:linear-gradient(#00716e 0px,#009468 131.5px,#009559 183.5px,#009554 290.5px,#009640 313.5px,#009313 329.5px,#4e7900 343.5px,#983a00 354.5px,#c11100 363.5px,#d20200 364.5px,#d40c00 376.5px,#dd3b00 401.5px,#de4400 415.5px,#dc3400 432.5px,#d40a00 444.5px,#cd0500 445.5px,#a13100 446.5px,#6c6000 447.5px,#427d03 448.5px,#049211 450.5px,#009316 451.5px,#009318 456.5px,#009555 463.5px,#009557 482px)"></i><i style="width:1px;background:linear-gradient(#00716e 0px,#009468 128.5px,#009556 183.5px,#009555 291.5px,#00963f 315.5px,#009312 331.5px,#507800 345.5px,#943d00 355.5px,#c30f00 365.5px,#d20100 366.5px,#d40b00 377.5px,#dd3900 401.5px,#de4300 415.5px,#dc3300 432.5px,#d40a00 444.5px,#cb0700 445.5px,#9e3400 446.5px,#686400 447.5px,#3e7e04 448.5px,#009312 450.5px,#00941a 456.5px,#009555 463.5px,#009557 482px)"></i><i style="width:1px;background:linear-gradient(#00716e 0px,#009468 127.5px,#009555 183.5px,#009554 293.5px,#00963e 317.5px,#009314 332.5px,#537600 347.5px,#973b00 357.5px,#c40e00 367.5px,#d20100 368.5px,#d40c00 379.5px,#dd3700 401.5px,#de4200 415.5px,#dc3200 432.5px,#d40900 444.5px,#c90900 445.5px,#9c3600 446.5px,#636800 447.5px,#3a7f05 448.5px,#009314 450.5px,#00941b 456.5px,#009555 463.5px,#009558 482px)"></i><i style="width:1px;background:linear-gradient(#00716e 0px,#009468 127.5px,#009555 183.5px,#009555 294.5px,#00963f 318.5px,#009313 334.5px,#4f7800 348.5px,#933f00 358.5px,#c21000 368.5px,#d20100 369.5px,#d40b00 380.5px,#dd3700 402.5px,#de4000 415.5px,#dc3200 431.5px,#d40900 444.5px,#c70b00 445.5px,#993900 446.5px,#5f6b00 447.5px,#368106 448.5px,#178b0d 449.5px,#009315 450.5px,#009317 455.5px,#009555 463.5px,#009558 482px)"></i><i style="width:1px;background:linear-gradient(#00716e 0px,#009468 127.5px,#009555 183.5px,#009554 293.5px,#009640 316.5px,#009313 332.5px,#4e7900 346.5px,#983a00 357.5px,#c11100 366.5px,#d20100 367.5px,#d40b00 379.5px,#dc3500 401.5px,#de3f00 415.5px,#dc3100 431.5px,#d40800 444.5px,#c50d00 445.5px,#963c00 446.5px,#5a6f00 447.5px,#338207 448.5px,#138d0e 449.5px,#009315 450.5px,#009317 455.5px,#009552 462.5px,#009555 463.5px,#009558 482px)"></i><i style="width:1px;background:linear-gradient(#00756f 0px,#009468 118.5px,#009554 183.5px,#009554 289.5px,#009640 312.5px,#009313 328.5px,#4e7900 342.5px,#983a00 353.5px,#c11100 362.5px,#d20100 363.5px,#d40b00 376.5px,#dc3400 400.5px,#dd3d00 415.5px,#dc3200 430.5px,#d81e00 438.5px,#d40800 444.5px,#c30f00 445.5px,#923f00 446.5px,#567300 447.5px,#0f8e0f 449.5px,#009316 450.5px,#009317 455.5px,#009553 462.5px,#009558 482px)"></i><i style="width:1px;background:linear-gradient(#007f6f 0px,#009468 89.5px,#00954f 182.5px,#009550 289.5px,#00963f 308.5px,#009313 324.5px,#4f7800 338.5px,#933f00 348.5px,#c21000 358.5px,#d20100 359.5px,#d40b00 373.5px,#dc3200 398.5px,#dd3c00 414.5px,#dc3200 429.5px,#d81d00 438.5px,#d30700 444.5px,#c11100 445.5px,#8e4300 446.5px,#517700 447.5px,#0c8f0f 449.5px,#009316 450.5px,#009317 455.5px,#009554 462.5px,#009558 482px)"></i><i style="width:1px;background:linear-gradient(#008b6b 0px,#009468 39.5px,#009553 108.5px,#009645 182.5px,#009648 284.5px,#00963f 294.5px,#009312 310.5px,#507800 324.5px,#943d00 334.5px,#c30f00 344.5px,#d20000 345.5px,#d40a00 362.5px,#dc3200 395.5px,#dd3b00 414.5px,#db2f00 430.5px,#d61600 440.5px,#cf0300 444.5px,#715c00 446.5px,#467b02 447.5px,#089010 449.5px,#009316 450.5px,#009317 455.5px,#009555 462.5px,#009558 482px)"></i><i style="width:1px;background:linear-gradient(#009069 0px,#009638 182.5px,#00963e 277.5px,#009312 293.5px,#507800 307.5px,#943d00 317.5px,#c30f00 327.5px,#d20000 328.5px,#d40900 349.5px,#dc3200 393.5px,#dd3900 414.5px,#db2f00 429.5px,#d71b00 438.5px,#d40a00 443.5px,#cd0500 444.5px,#a13100 445.5px,#6c6000 446.5px,#427d03 447.5px,#049211 449.5px,#009316 450.5px,#009318 455.5px,#009555 462.5px,#009558 482px)"></i><i style="width:1px;background:linear-gradient(#008d6a 0px,#009468 28.5px,#009553 107.5px,#009534 183.5px,#009638 279.5px,#009312 293.5px,#507800 307.5px,#943d00 317.5px,#c30f00 327.5px,#d20000 328.5px,#d40900 349.5px,#dc3200 394.5px,#dd3800 414.5px,#db2e00 429.5px,#d71b00 438.5px,#d40900 443.5px,#cb0700 444.5px,#9e3400 445.5px,#686400 446.5px,#3e7e04 447.5px,#009312 449.5px,#00941a 455.5px,#009555 462.5px,#009558 482px)"></i><i style="width:1px;background:linear-gradient(#00836e 0px,#009462 107.5px,#00963b 183.5px,#009536 280.5px,#009312 293.5px,#507800 307.5px,#943d00 317.5px,#c30f00 327.5px,#d20000 328.5px,#d40800 349.5px,#dc3200 397.5px,#dd3600 414.5px,#db2c00 429.5px,#d71a00 438.5px,#d40900 443.5px,#c90900 444.5px,#9c3600 445.5px,#636800 446.5px,#3a7f05 447.5px,#009314 449.5px,#00941b 455.5px,#009555 462.5px,#009558 482px)"></i><i style="width:1px;background:linear-gradient(#007e6f 0px,#009468 106.5px,#009646 183.5px,#009536 280.5px,#009312 293.5px,#507800 307.5px,#943d00 317.5px,#c30f00 327.5px,#d10100 328.5px,#d30500 345.5px,#db2e00 393.5px,#dc3500 414.5px,#db2c00 428.5px,#d71900 437.5px,#d40800 442.5px,#c40e00 443.5px,#953d00 444.5px,#587100 445.5px,#118d0e 447.5px,#009315 448.5px,#009317 453.5px,#009552 460.5px,#009555 461.5px,#009558 482px)"></i><i style="width:1px;background:linear-gradient(#007f6f 0px,#009468 84.5px,#009647 183.5px,#009536 257.5px,#009536 297.5px,#009312 310.5px,#507800 324.5px,#943d00 334.5px,#c30f00 344.5px,#d10100 345.5px,#d30500 359.5px,#db2c00 397.5px,#dc3400 414.5px,#da2a00 427.5px,#d40900 439.5px,#cc0600 440.5px,#a03200 441.5px,#6a6200 442.5px,#407d04 443.5px,#029212 445.5px,#009319 451.5px,#009555 458.5px,#009558 482px)"></i><i style="width:1px;background:linear-gradient(#00836e 0px,#009468 59.5px,#009638 183.5px,#009536 307.5px,#009313 320.5px,#4e7900 334.5px,#983a00 345.5px,#c11100 354.5px,#d10100 355.5px,#d30500 367.5px,#db2c00 400.5px,#dc3300 414.5px,#da2800 427.5px,#d40900 438.5px,#c80a00 439.5px,#9a3800 440.5px,#616900 441.5px,#388005 442.5px,#009315 444.5px,#00941b 450.5px,#009555 457.5px,#009558 482px)"></i><i style="width:1px;background:linear-gradient(#00816e 0px,#009468 64.5px,#00952b 183.5px,#009536 257.5px,#009536 310.5px,#009313 323.5px,#4e7900 337.5px,#983a00 348.5px,#c11100 357.5px,#d10100 358.5px,#d30500 369.5px,#db2b00 400.5px,#dc3300 414.5px,#da2800 427.5px,#d40900 438.5px,#c80a00 439.5px,#9a3800 440.5px,#616900 441.5px,#388005 442.5px,#009315 444.5px,#00941b 450.5px,#009555 457.5px,#009558 482px)"></i><i style="width:1px;background:linear-gradient(#007a70 0px,#009468 89.5px,#009533 183.5px,#009536 313.5px,#009313 326.5px,#4e7900 340.5px,#983a00 351.5px,#c11100 360.5px,#d10100 361.5px,#d30500 372.5px,#db2b00 401.5px,#dc3300 414.5px,#da2800 427.5px,#d40900 438.5px,#c80a00 439.5px,#9a3800 440.5px,#616900 441.5px,#388005 442.5px,#009315 444.5px,#00941b 450.5px,#009555 457.5px,#009558 482px)"></i><i style="width:1px;background:linear-gradient(#00736f 0px,#009468 114.5px,#00954b 183.5px,#009536 257.5px,#009536 316.5px,#009313 329.5px,#4e7900 343.5px,#983a00 354.5px,#c11100 363.5px,#d10100 364.5px,#d30500 374.5px,#db2b00 402.5px,#dc3300 414.5px,#da2800 427.5px,#d40900 438.5px,#c80a00 439.5px,#9a3800 440.5px,#616900 441.5px,#388005 442.5px,#009315 444.5px,#00941b 450.5px,#009555 457.5px,#009558 482px)"></i><i style="width:1px;background:linear-gradient(#00716e 0px,#009069 108.5px,#00945e 182.5px,#009638 257.5px,#009637 319.5px,#009313 332.5px,#4e7900 346.5px,#983a00 357.5px,#c11100 366.5px,#d10100 367.5px,#d30500 377.5px,#db2c00 403.5px,#dc3300 414.5px,#da2800 427.5px,#d40900 438.5px,#c80a00 439.5px,#9a3800 440.5px,#616900 441.5px,#388005 442.5px,#009315 444.5px,#00941b 450.5px,#009555 457.5px,#009558 482px)"></i><i style="width:1px;background:linear-gradient(#00716e 0px,#009069 107.5px,#009464 182.5px,#00963d 257.5px,#00963c 320.5px,#009313 335.5px,#4f7800 349.5px,#983a00 360.5px,#c21000 369.5px,#d10100 370.5px,#d30500 379.5px,#db2c00 404.5px,#dc3300 415.5px,#da2800 427.5px,#d40900 438.5px,#c80a00 439.5px,#9a3800 440.5px,#616900 441.5px,#388005 442.5px,#009315 444.5px,#00941b 450.5px,#009555 457.5px,#009558 482px)"></i><i style="width:1px;background:linear-gradient(#00716e 0px,#009069 108.5px,#009464 182.5px,#009646 258.5px,#009646 315.5px,#00963d 323.5px,#009313 338.5px,#4f7800 352.5px,#933f00 362.5px,#c21000 372.5px,#d10100 373.5px,#d30500 381.5px,#db2b00 404.5px,#dc3300 415.5px,#da2800 427.5px,#d40900 438.5px,#c80a00 439.5px,#9a3800 440.5px,#616900 441.5px,#388005 442.5px,#009315 444.5px,#00941b 450.5px,#009555 457.5px,#009558 482px)"></i><i style="width:1px;background:linear-gradient(#00716e 0px,#009069 108.5px,#009464 182.5px,#00954f 258.5px,#00954f 306.5px,#00963e 324.5px,#009314 339.5px,#537600 354.5px,#973b00 364.5px,#c40e00 374.5px,#d10100 375.5px,#d30700 384.5px,#db2d00 406.5px,#dc3300 415.5px,#da2800 427.5px,#d40900 438.5px,#c80a00 439.5px,#9a3800 440.5px,#616900 441.5px,#388005 442.5px,#009315 444.5px,#00941b 450.5px,#009555 457.5px,#009558 482px)"></i><i style="width:1px;background:linear-gradient(#00746f 0px,#009169 108.5px,#009464 182.5px,#009552 257.5px,#009552 299.5px,#00963f 320.5px,#009312 336.5px,#507800 350.5px,#943e00 360.5px,#c30f00 370.5px,#d10100 371.5px,#d30700 381.5px,#dc3000 406.5px,#dc3500 415.5px,#da2a00 427.5px,#d40900 438.5px,#c80a00 439.5px,#9a3800 440.5px,#616900 441.5px,#388005 442.5px,#009315 444.5px,#00941b 450.5px,#009555 457.5px,#009558 482px)"></i><i style="width:1px;background:linear-gradient(#007f6f 0px,#009468 86.5px,#00945f 108.5px,#00945f 182.5px,#00954d 257.5px,#00954d 298.5px,#00963f 313.5px,#009313 329.5px,#4f7800 343.5px,#933e00 353.5px,#c21000 363.5px,#d20000 364.5px,#d40a00 377.5px,#dc3200 402.5px,#dd3800 414.5px,#db2f00 426.5px,#d81d00 433.5px,#d40900 438.5px,#c80a00 439.5px,#9a3800 440.5px,#616900 441.5px,#388005 442.5px,#009315 444.5px,#00941b 450.5px,#009555 457.5px,#009558 482px)"></i><i style="width:1px;background:linear-gradient(#008f6a 0px,#009468 19.5px,#009643 108.5px,#00954a 182.5px,#00963e 257.5px,#00963e 306.5px,#009313 322.5px,#4f7800 336.5px,#933f00 346.5px,#c21000 356.5px,#d20100 357.5px,#d40a00 371.5px,#dc3300 398.5px,#dd3c00 414.5px,#dc3100 427.5px,#d40a00 438.5px,#cc0600 439.5px,#a03200 440.5px,#6a6200 441.5px,#407d04 442.5px,#029212 444.5px,#009319 450.5px,#009555 457.5px,#009558 482px)"></i><i style="width:1px;background:linear-gradient(#009551 0px,#009421 108.5px,#00941c 182.5px,#00952a 281.5px,#009312 290.5px,#517700 304.5px,#953d00 314.5px,#c30f00 324.5px,#d20100 325.5px,#d40b00 346.5px,#dc3500 388.5px,#de4000 414.5px,#dc3200 428.5px,#d40800 439.5px,#c40e00 440.5px,#953d00 441.5px,#587100 442.5px,#118d0e 444.5px,#009315 445.5px,#009317 450.5px,#009552 457.5px,#009555 458.5px,#009558 482px)"></i><i style="width:1px;background:linear-gradient(#00963f 0px,#009312 97.5px,#507800 165.5px,#686400 182.5px,#507800 196.5px,#009312 247.5px,#00941a 258.5px,#00941a 268.5px,#009312 271.5px,#507800 285.5px,#943d00 295.5px,#c30f00 305.5px,#d20100 306.5px,#d40c00 332.5px,#dd3700 383.5px,#de4200 414.5px,#dd3e00 422.5px,#dc3200 429.5px,#d40900 439.5px,#c80a00 440.5px,#9a3800 441.5px,#616900 442.5px,#388005 443.5px,#009315 445.5px,#00941b 451.5px,#009555 458.5px,#009558 482px)"></i><i style="width:1px;background:linear-gradient(#00963b 0px,#009312 86.5px,#178b0d 108.5px,#517800 134.5px,#963c00 161.5px,#bb1700 182.5px,#953d00 202.5px,#507800 226.5px,#039211 257.5px,#029212 271.5px,#507800 285.5px,#943d00 295.5px,#c30f00 305.5px,#d20100 306.5px,#d40c00 332.5px,#dd3700 383.5px,#de4200 414.5px,#dd3e00 422.5px,#dc3200 429.5px,#d40900 439.5px,#c80a00 440.5px,#9a3800 441.5px,#616900 442.5px,#388005 443.5px,#009315 445.5px,#00941b 451.5px,#009555 458.5px,#009558 482px)"></i><i style="width:1px;background:linear-gradient(#009646 0px,#009312 95.5px,#118d0e 108.5px,#517700 134.5px,#963c00 158.5px,#c50d00 182.5px,#963c00 205.5px,#517700 227.5px,#019312 257.5px,#009312 271.5px,#507800 285.5px,#943d00 295.5px,#c30f00 305.5px,#d20100 306.5px,#d40c00 332.5px,#dd3800 383.5px,#de4300 414.5px,#de3e00 422.5px,#dc3200 429.5px,#d40900 439.5px,#c80a00 440.5px,#9a3800 441.5px,#616900 442.5px,#388005 443.5px,#009315 445.5px,#00941b 451.5px,#009555 458.5px,#009558 482px)"></i><i style="width:1px;background:linear-gradient(#00945f 0px,#009553 28.5px,#009312 115.5px,#507800 153.5px,#983a00 182.5px,#4f7800 211.5px,#009312 247.5px,#00941e 258.5px,#00941d 267.5px,#009312 271.5px,#507800 285.5px,#943d00 295.5px,#c30f00 305.5px,#d20100 306.5px,#d40c00 332.5px,#dd3800 383.5px,#de4300 414.5px,#de3f00 422.5px,#dc3300 429.5px,#d40900 439.5px,#c80a00 440.5px,#9a3800 441.5px,#616900 442.5px,#388005 443.5px,#009315 445.5px,#00941b 451.5px,#009555 458.5px,#009558 482px)"></i><i style="width:1px;background:linear-gradient(#00866d 0px,#009468 43.5px,#009312 152.5px,#348206 183.5px,#009312 219.5px,#00952e 257.5px,#00952e 280.5px,#009312 290.5px,#517700 304.5px,#953d00 314.5px,#c30f00 324.5px,#d20200 325.5px,#d40c00 346.5px,#dd3900 389.5px,#de4400 414.5px,#de3f00 422.5px,#dc3300 429.5px,#d40900 439.5px,#c80a00 440.5px,#9a3800 441.5px,#616900 442.5px,#388005 443.5px,#009315 445.5px,#00941b 451.5px,#009555 458.5px,#009558 482px)"></i><i style="width:1px;background:linear-gradient(#00786f 0px,#009468 80.5px,#009422 182.5px,#009641 257.5px,#009641 289.5px,#00963e 292.5px,#009314 307.5px,#547500 322.5px,#973b00 332.5px,#c11100 341.5px,#d20200 342.5px,#d40c00 359.5px,#dd3900 394.5px,#de4400 414.5px,#de4000 422.5px,#dc3300 429.5px,#d40900 439.5px,#c80a00 440.5px,#9a3800 441.5px,#616900 442.5px,#388005 443.5px,#009315 445.5px,#00941b 451.5px,#009555 458.5px,#009558 482px)"></i><i style="width:1px;background:linear-gradient(#00716e 0px,#009468 110.5px,#009638 183.5px,#00954e 257.5px,#00954e 277.5px,#00963f 294.5px,#009313 310.5px,#4f7800 324.5px,#933f00 334.5px,#c21000 344.5px,#d20200 345.5px,#d40c00 361.5px,#dd3a00 395.5px,#de4400 414.5px,#de4000 422.5px,#dc3300 429.5px,#d40900 439.5px,#c80a00 440.5px,#9a3800 441.5px,#616900 442.5px,#388005 443.5px,#009315 445.5px,#00941b 451.5px,#009555 458.5px,#009558 482px)"></i><i style="width:1px;background:linear-gradient(#00716e 0px,#009468 118.5px,#00963e 183.5px,#009554 274.5px,#00963f 297.5px,#009312 313.5px,#517700 327.5px,#953d00 337.5px,#c30f00 347.5px,#d20200 348.5px,#d40c00 363.5px,#dd3a00 395.5px,#de4500 414.5px,#de4000 422.5px,#dc3400 429.5px,#d40900 439.5px,#c80a00 440.5px,#9a3800 441.5px,#616900 442.5px,#388005 443.5px,#009315 445.5px,#00941b 451.5px,#009555 458.5px,#009558 482px)"></i><i style="width:1px;background:linear-gradient(#00716e 0px,#009468 118.5px,#00963e 183.5px,#009554 257.5px,#009554 276.5px,#00963e 300.5px,#009314 315.5px,#537600 330.5px,#973b00 340.5px,#c50d00 350.5px,#d20200 351.5px,#d50d00 366.5px,#dd3a00 396.5px,#de4500 414.5px,#de4100 422.5px,#dc3400 429.5px,#d40900 439.5px,#c90900 440.5px,#9a3800 441.5px,#616900 442.5px,#388005 443.5px,#009315 445.5px,#00941b 451.5px,#009555 458.5px,#009558 482px)"></i><i style="width:1px;background:linear-gradient(#00716e 0px,#009468 118.5px,#00963e 183.5px,#009554 257.5px,#009554 279.5px,#009640 302.5px,#009313 318.5px,#4e7900 332.5px,#983a00 343.5px,#c11100 352.5px,#d20200 353.5px,#d40c00 367.5px,#dd3b00 397.5px,#de4600 414.5px,#de4100 422.5px,#dc3400 429.5px,#d40900 439.5px,#c90900 440.5px,#9a3800 441.5px,#616900 442.5px,#388005 443.5px,#009315 445.5px,#00941b 451.5px,#009555 458.5px,#009558 482px)"></i><i style="width:1px;background:linear-gradient(#00716e 0px,#009468 118.5px,#00963e 183.5px,#009554 257.5px,#009555 281.5px,#00963f 305.5px,#009312 321.5px,#507800 335.5px,#943e00 345.5px,#c30f00 355.5px,#d20200 356.5px,#d40c00 369.5px,#dd3b00 398.5px,#df4600 414.5px,#de4200 422.5px,#dc3500 429.5px,#d40900 439.5px,#c90900 440.5px,#9a3800 441.5px,#616900 442.5px,#388005 443.5px,#009315 445.5px,#00941b 451.5px,#009555 458.5px,#009558 482px)"></i><i style="width:1px;background:linear-gradient(#00716e 0px,#009468 118.5px,#00963e 183.5px,#009554 257.5px,#009555 284.5px,#00963f 308.5px,#009314 323.5px,#019312 324.5px,#527600 338.5px,#963c00 348.5px,#c40e00 358.5px,#d20200 359.5px,#d50d00 372.5px,#dd3b00 398.5px,#df4700 414.5px,#de4200 422.5px,#dc3500 429.5px,#d40900 439.5px,#c90900 440.5px,#9a3800 441.5px,#616900 442.5px,#388005 443.5px,#009315 445.5px,#00941b 451.5px,#009555 458.5px,#009558 482px)"></i><i style="width:1px;background:linear-gradient(#00716e 0px,#009468 118.5px,#009640 183.5px,#009554 257.5px,#009554 287.5px,#00963e 311.5px,#009314 326.5px,#547500 341.5px,#973b00 351.5px,#c11100 360.5px,#d20200 361.5px,#d40c00 373.5px,#dd3d00 400.5px,#df4700 414.5px,#de4200 422.5px,#dc3500 429.5px,#d40900 439.5px,#c90900 440.5px,#9a3800 441.5px,#616900 442.5px,#388005 443.5px,#009315 445.5px,#00941b 451.5px,#009555 458.5px,#009558 482px)"></i><i style="width:1px;background:linear-gradient(#00716e 0px,#009468 120.5px,#009646 183.5px,#009554 257.5px,#009555 289.5px,#00963f 313.5px,#009313 329.5px,#4f7800 343.5px,#933f00 353.5px,#c21000 363.5px,#d20200 364.5px,#d50d00 376.5px,#dd3c00 400.5px,#df4800 414.5px,#de4300 422.5px,#dc3500 429.5px,#d40900 439.5px,#c90900 440.5px,#9a3800 441.5px,#616900 442.5px,#388005 443.5px,#009315 445.5px,#00941b 451.5px,#009555 458.5px,#009558 482px)"></i><i style="width:1px;background:linear-gradient(#00716e 0px,#009468 126.5px,#009553 183.5px,#009555 292.5px,#00963f 316.5px,#009312 332.5px,#517700 346.5px,#953d00 356.5px,#c30f00 366.5px,#d20200 367.5px,#d50d00 378.5px,#dd3d00 401.5px,#df4800 414.5px,#de4300 422.5px,#dc3600 429.5px,#d40900 439.5px,#c90900 440.5px,#9a3800 441.5px,#616900 442.5px,#388005 443.5px,#009315 445.5px,#00941b 451.5px,#009555 458.5px,#009558 482px)"></i><i style="width:1px;background:linear-gradient(#00716e 0px,#009069 108.5px,#009555 257.5px,#009554 295.5px,#00963e 319.5px,#009314 334.5px,#537600 349.5px,#973b00 359.5px,#c50d00 369.5px,#d20200 370.5px,#d50d00 380.5px,#dd3c00 401.5px,#df4800 414.5px,#de4400 422.5px,#dc3600 429.5px,#d40900 439.5px,#c90900 440.5px,#9a3800 441.5px,#616900 442.5px,#388005 443.5px,#009315 445.5px,#00941b 451.5px,#009555 458.5px,#009558 482px)"></i><i style="width:3px;background:linear-gradient(#00716e 0px,#009069 108.5px,#009368 186.5px,#009555 257.5px,#009555 296.5px,#00963f 320.5px,#009312 336.5px,#507800 350.5px,#943d00 360.5px,#c30f00 370.5px,#d20200 371.5px,#d50e00 381.5px,#dd3e00 402.5px,#df4900 415.5px,#de4400 422.5px,#dd3700 429.5px,#d40900 439.5px,#c90900 440.5px,#9a3800 441.5px,#616900 442.5px,#388005 443.5px,#009315 445.5px,#00941b 451.5px,#009555 458.5px,#009558 482px)"></i><i style="width:1px;background:linear-gradient(#00716e 0px,#009069 108.5px,#009468 192.5px,#009555 257.5px,#009555 288.5px,#00963f 312.5px,#009312 328.5px,#507800 342.5px,#943d00 352.5px,#c30f00 362.5px,#d20200 363.5px,#d50e00 375.5px,#de3f00 400.5px,#df4a00 414.5px,#de4500 422.5px,#dd3700 429.5px,#d92400 434.5px,#d40900 439.5px,#c90900 440.5px,#9a3800 441.5px,#616900 442.5px,#388005 443.5px,#009315 445.5px,#00941b 451.5px,#009555 458.5px,#009558 482px)"></i><i style="width:1px;background:linear-gradient(#00716e 0px,#009069 108.5px,#009468 192.5px,#009555 257.5px,#009555 281.5px,#00963f 305.5px,#009312 321.5px,#507800 335.5px,#943d00 345.5px,#c30f00 355.5px,#d20200 356.5px,#d50d00 369.5px,#de3f00 398.5px,#df4b00 414.5px,#de4600 422.5px,#dd3700 429.5px,#d92400 434.5px,#d40900 439.5px,#c90900 440.5px,#9a3800 441.5px,#616900 442.5px,#388005 443.5px,#009315 445.5px,#00941b 451.5px,#009555 458.5px,#009558 482px)"></i><i style="width:1px;background:linear-gradient(#00716e 0px,#009069 108.5px,#009467 182.5px,#009555 257.5px,#009555 281.5px,#00963f 305.5px,#009312 321.5px,#507800 335.5px,#943d00 345.5px,#c30f00 355.5px,#d30300 356.5px,#d50d00 369.5px,#de3f00 398.5px,#df4b00 414.5px,#de4600 422.5px,#dd3800 429.5px,#da2900 433.5px,#d40900 439.5px,#c90900 440.5px,#9a3800 441.5px,#616900 442.5px,#388005 443.5px,#009315 445.5px,#00941b 451.5px,#009555 458.5px,#009558 482px)"></i><i style="width:1px;background:linear-gradient(#00716e 0px,#009468 135.5px,#00955d 183.5px,#009555 281.5px,#00963f 305.5px,#009312 321.5px,#507800 335.5px,#943d00 345.5px,#c30f00 355.5px,#d30300 356.5px,#d50e00 369.5px,#de4100 398.5px,#df4d00 414.5px,#df4800 422.5px,#dd3900 429.5px,#da2a00 433.5px,#d40900 439.5px,#c90900 440.5px,#9b3700 441.5px,#616900 442.5px,#388005 443.5px,#009315 445.5px,#00941b 451.5px,#009555 458.5px,#009558 482px)"></i><i style="width:1px;background:linear-gradient(#00716e 0px,#009468 122.5px,#00954c 183.5px,#009555 281.5px,#00963f 305.5px,#009312 321.5px,#507800 335.5px,#943d00 345.5px,#c30f00 355.5px,#d30300 356.5px,#d50f00 369.5px,#de4400 398.5px,#e05000 414.5px,#df4b00 422.5px,#dd3b00 430.5px,#db2e00 434.5px,#d40900 441.5px,#c60c00 442.5px,#973b00 443.5px,#5b6f00 444.5px,#338206 445.5px,#148c0e 446.5px,#009315 447.5px,#009317 452.5px,#009552 459.5px,#009555 460.5px,#009558 482px)"></i><i style="width:1px;background:linear-gradient(#00716e 0px,#009468 118.5px,#009642 183.5px,#009554 257.5px,#009555 288.5px,#00963f 312.5px,#009312 328.5px,#507800 342.5px,#943d00 352.5px,#c30f00 362.5px,#d30400 363.5px,#d50f00 374.5px,#df4800 401.5px,#e05300 415.5px,#df4d00 424.5px,#dd3800 434.5px,#d81c00 441.5px,#d00200 445.5px,#735a00 447.5px,#487b02 448.5px,#0a9010 450.5px,#009316 451.5px,#009317 456.5px,#009555 463.5px,#009557 482px)"></i><i style="width:1px;background:linear-gradient(#007d70 0px,#009468 97.5px,#009536 183.5px,#00954e 257.5px,#00954e 299.5px,#00963f 316.5px,#009312 332.5px,#507800 346.5px,#943e00 356.5px,#c30f00 366.5px,#d30400 367.5px,#d51000 377.5px,#df4b00 402.5px,#e15700 415.5px,#e05100 424.5px,#de4000 434.5px,#dc3000 440.5px,#d51000 447.5px,#cb0700 449.5px,#9e3400 450.5px,#676400 451.5px,#3d7e04 452.5px,#009312 454.5px,#00941a 460.5px,#009555 467.5px,#009557 482px)"></i><i style="width:1px;background:linear-gradient(#009467 0px,#00963f 108.5px,#00941a 182.5px,#009638 257.5px,#009638 319.5px,#009313 333.5px,#4f7800 347.5px,#933f00 357.5px,#c21000 367.5px,#d30400 368.5px,#d51100 378.5px,#e04f00 403.5px,#e15a00 415.5px,#e05400 425.5px,#de4300 435.5px,#db2f00 442.5px,#d40900 450.5px,#c80a00 451.5px,#9a3800 452.5px,#616900 453.5px,#388005 454.5px,#009315 456.5px,#00941b 462.5px,#009555 469.5px,#009557 482px)"></i><i style="width:1px;background:linear-gradient(#009425 0px,#009312 50.5px,#288509 108.5px,#507800 182.5px,#009312 257.5px,#009312 306.5px,#507800 320.5px,#943d00 330.5px,#c30f00 340.5px,#d30500 341.5px,#d51000 356.5px,#e05000 395.5px,#e25e00 414.5px,#e15800 424.5px,#df4700 434.5px,#dc3100 442.5px,#d40900 450.5px,#c90900 451.5px,#9a3800 452.5px,#616900 453.5px,#388005 454.5px,#009315 456.5px,#00941b 462.5px,#009555 469.5px,#009557 482px)"></i><i style="width:1px;background:linear-gradient(#437d03 0px,#507800 16.5px,#963c00 103.5px,#ab2700 182.5px,#953d00 203.5px,#507800 247.5px,#437d03 257.5px,#427d03 292.5px,#507800 295.5px,#943d00 305.5px,#c30f00 315.5px,#d30500 316.5px,#d51100 336.5px,#e05400 392.5px,#e25f00 408.5px,#e25e00 420.5px,#e05200 429.5px,#de4100 437.5px,#dc3200 442.5px,#d40900 450.5px,#c90900 451.5px,#9a3800 452.5px,#616900 453.5px,#388005 454.5px,#009315 456.5px,#00941b 462.5px,#009555 469.5px,#009557 482px)"></i><i style="width:1px;background:linear-gradient(#527600 0px,#963c00 75.5px,#cb0700 182.5px,#963c00 228.5px,#656600 257.5px,#646700 297.5px,#656600 298.5px,#943d00 305.5px,#c30f00 315.5px,#d30500 316.5px,#d51100 336.5px,#dd3c00 369.5px,#e15700 395.5px,#e26000 414.5px,#e15700 426.5px,#dd3800 440.5px,#d40900 450.5px,#c90900 451.5px,#9a3800 452.5px,#616900 453.5px,#388005 454.5px,#009315 456.5px,#00941b 462.5px,#009555 469.5px,#009557 482px)"></i><i style="width:1px;background:linear-gradient(#1d890c 0px,#507800 61.5px,#7e5100 107.5px,#973b00 124.5px,#d10100 182.5px,#963c00 233.5px,#6b6100 257.5px,#6a6100 298.5px,#6c6000 299.5px,#943d00 305.5px,#c30f00 315.5px,#d30500 316.5px,#d51100 336.5px,#e05300 390.5px,#e25f00 417.5px,#e05600 427.5px,#de4300 436.5px,#dc3200 442.5px,#d40900 450.5px,#c90900 451.5px,#9a3800 452.5px,#616900 453.5px,#388005 454.5px,#009315 456.5px,#00941b 462.5px,#009555 469.5px,#009557 482px)"></i><i style="width:1px;background:linear-gradient(#009425 0px,#009312 42.5px,#427d03 107.5px,#4f7800 114.5px,#953d00 144.5px,#d10100 182.5px,#953d00 228.5px,#5c6d00 257.5px,#5b6e00 296.5px,#943d00 305.5px,#c30f00 315.5px,#d30500 316.5px,#d51100 336.5px,#e05200 389.5px,#e26000 414.5px,#e15900 424.5px,#df4800 434.5px,#dc3200 442.5px,#d40900 450.5px,#c90900 451.5px,#9a3800 452.5px,#616900 453.5px,#388005 454.5px,#009315 456.5px,#00941b 462.5px,#009555 469.5px,#009557 482px)"></i><i style="width:1px;background:linear-gradient(#009647 0px,#009312 101.5px,#099010 108.5px,#507800 137.5px,#953c00 161.5px,#bf1300 183.5px,#973b00 210.5px,#507800 242.5px,#348106 257.5px,#348206 290.5px,#507800 295.5px,#943d00 305.5px,#c30f00 315.5px,#d30500 316.5px,#d51100 336.5px,#e05200 389.5px,#e26000 414.5px,#e15900 424.5px,#df4800 434.5px,#dc3200 442.5px,#d40900 450.5px,#c90900 451.5px,#9a3800 452.5px,#616900 453.5px,#388005 454.5px,#009315 456.5px,#00941b 462.5px,#009555 469.5px,#009557 482px)"></i><i style="width:1px;background:linear-gradient(#009169 0px,#009462 28.5px,#009534 107.5px,#009313 134.5px,#507800 166.5px,#814e00 183.5px,#507800 207.5px,#009312 254.5px,#009312 281.5px,#507800 295.5px,#943d00 305.5px,#c30f00 315.5px,#d30500 316.5px,#d51100 337.5px,#e04f00 389.5px,#e15c00 414.5px,#e15600 424.5px,#de4500 434.5px,#dc3100 441.5px,#d51000 448.5px,#cb0700 450.5px,#9e3400 451.5px,#676400 452.5px,#3d7e04 453.5px,#009312 455.5px,#00941a 461.5px,#009555 468.5px,#009557 482px)"></i><i style="width:1px;background:linear-gradient(#007e6f 0px,#009468 74.5px,#009558 107.5px,#009312 174.5px,#118d0e 182.5px,#009312 205.5px,#009428 258.5px,#009428 298.5px,#009312 306.5px,#507800 320.5px,#943d00 330.5px,#c30f00 340.5px,#d30400 341.5px,#d51000 357.5px,#df4900 395.5px,#e05500 414.5px,#e04f00 425.5px,#dd3c00 435.5px,#d82000 443.5px,#d00200 448.5px,#735a00 450.5px,#487b02 451.5px,#0a9010 453.5px,#009316 454.5px,#009317 459.5px,#009555 466.5px,#009557 482px)"></i><i style="width:1px;background:linear-gradient(#00736f 0px,#009468 110.5px,#00952b 182.5px,#00952e 301.5px,#009314 311.5px,#537500 326.5px,#973b00 336.5px,#c50d00 346.5px,#d30300 347.5px,#d50f00 362.5px,#de4300 396.5px,#e04f00 414.5px,#df4900 424.5px,#dd3a00 433.5px,#da2800 439.5px,#d40900 446.5px,#c60c00 447.5px,#973b00 448.5px,#5b6f00 449.5px,#338206 450.5px,#148c0e 451.5px,#009315 452.5px,#009317 457.5px,#009552 464.5px,#009555 465.5px,#009557 482px)"></i><i style="width:2px;background:linear-gradient(#00716e 0px,#009468 116.5px,#009536 183.5px,#00952e 303.5px,#009312 313.5px,#517700 327.5px,#953d00 337.5px,#c30f00 347.5px,#d30300 348.5px,#d50e00 363.5px,#de4200 396.5px,#e04e00 414.5px,#df4a00 423.5px,#dd3b00 432.5px,#da2900 438.5px,#d40900 445.5px,#c80a00 446.5px,#9a3800 447.5px,#616900 448.5px,#388005 449.5px,#009315 451.5px,#00941b 457.5px,#009555 464.5px,#009557 482px)"></i><i style="width:1px;background:linear-gradient(#00716e 0px,#009468 116.5px,#009536 183.5px,#00952e 302.5px,#009314 312.5px,#537500 327.5px,#973b00 337.5px,#c50d00 347.5px,#d30400 348.5px,#d50f00 362.5px,#de4600 396.5px,#e05200 414.5px,#df4d00 423.5px,#de4000 431.5px,#dc3000 437.5px,#d40900 445.5px,#c90900 446.5px,#9a3800 447.5px,#616900 448.5px,#388005 449.5px,#009315 451.5px,#00941b 457.5px,#009555 464.5px,#009557 482px)"></i><i style="width:1px;background:linear-gradient(#00716e 0px,#009468 116.5px,#009536 183.5px,#00952e 302.5px,#009312 312.5px,#507800 326.5px,#943d00 336.5px,#c30f00 346.5px,#d30400 347.5px,#d50f00 361.5px,#df4800 396.5px,#e05500 414.5px,#e05000 423.5px,#de4200 431.5px,#dc3100 437.5px,#d40900 445.5px,#c90900 446.5px,#9a3800 447.5px,#616900 448.5px,#388005 449.5px,#009315 451.5px,#00941b 457.5px,#009555 464.5px,#009557 482px)"></i><i style="width:1px;background:linear-gradient(#00716e 0px,#009468 116.5px,#009536 183.5px,#00952e 301.5px,#009313 311.5px,#4e7900 325.5px,#983a00 336.5px,#c11100 345.5px,#d30400 346.5px,#d51000 361.5px,#df4c00 397.5px,#e15800 414.5px,#e05300 423.5px,#de4400 431.5px,#dc3300 437.5px,#d40900 445.5px,#c90900 446.5px,#9a3800 447.5px,#616900 448.5px,#388005 449.5px,#009315 451.5px,#00941b 457.5px,#009555 464.5px,#009557 482px)"></i><i style="width:1px;background:linear-gradient(#00716e 0px,#009468 115.5px,#009530 183.5px,#00952e 300.5px,#019312 311.5px,#517700 325.5px,#953c00 335.5px,#c40e00 345.5px,#d30500 346.5px,#d51000 360.5px,#df4d00 396.5px,#e15b00 414.5px,#e05500 423.5px,#de4600 431.5px,#dc3000 438.5px,#d40900 445.5px,#c90900 446.5px,#9b3700 447.5px,#616900 448.5px,#388005 449.5px,#009315 451.5px,#00941b 457.5px,#009555 464.5px,#009557 482px)"></i><i style="width:1px;background:linear-gradient(#00806f 0px,#009468 82.5px,#00945f 107.5px,#009316 183.5px,#009423 257.5px,#009423 304.5px,#009313 310.5px,#4f7800 324.5px,#933f00 334.5px,#c21000 344.5px,#d30500 345.5px,#d51100 360.5px,#e05000 396.5px,#e25e00 414.5px,#e15800 423.5px,#df4800 431.5px,#dc3100 438.5px,#d40900 445.5px,#c90900 446.5px,#9b3700 447.5px,#616900 448.5px,#388005 449.5px,#009315 451.5px,#00941b 457.5px,#009555 464.5px,#009557 482px)"></i><i style="width:1px;background:linear-gradient(#009556 0px,#00952f 107.5px,#009312 136.5px,#507800 175.5px,#626900 183.5px,#507800 202.5px,#23870a 257.5px,#23870a 304.5px,#4e7900 312.5px,#983a00 323.5px,#c11100 332.5px,#d30500 333.5px,#d61200 350.5px,#e05300 393.5px,#e26300 414.5px,#e25d00 422.5px,#df4a00 431.5px,#dc3300 438.5px,#d40a00 445.5px,#c90900 446.5px,#9b3700 447.5px,#616900 448.5px,#388005 449.5px,#009315 451.5px,#00941b 457.5px,#009555 464.5px,#009557 482px)"></i><i style="width:1px;background:linear-gradient(#128d0e 0px,#507800 85.5px,#616900 107.5px,#963c00 135.5px,#d20000 181.5px,#953d00 258.5px,#953d00 300.5px,#c30f00 310.5px,#d30600 311.5px,#d30700 317.5px,#d61500 334.5px,#e15600 386.5px,#e36500 403.5px,#e36800 416.5px,#e26000 424.5px,#df4800 434.5px,#dc3200 440.5px,#d40800 447.5px,#c30f00 448.5px,#924000 449.5px,#557400 450.5px,#0f8e0f 452.5px,#009316 453.5px,#009317 458.5px,#009553 465.5px,#009557 482px)"></i><i style="width:1px;background:linear-gradient(#6f5e00 0px,#963c00 43.5px,#b61c00 107.5px,#d20000 128.5px,#d92500 183.5px,#d20000 252.5px,#cc0600 258.5px,#cc0600 310.5px,#d30700 311.5px,#d40a00 321.5px,#e36400 395.5px,#e46e00 412.5px,#e36800 423.5px,#de4100 439.5px,#dc3200 443.5px,#d40a00 450.5px,#c90900 451.5px,#9b3700 452.5px,#616900 453.5px,#388005 454.5px,#009315 456.5px,#00941b 462.5px,#009555 469.5px,#009557 482px)"></i><i style="width:1px;background:linear-gradient(#477b02 0px,#616900 28.5px,#9b3700 107.5px,#d20000 138.5px,#da2900 183.5px,#d20000 252.5px,#cc0600 258.5px,#cc0600 310.5px,#d30700 311.5px,#d61500 332.5px,#e46a00 395.5px,#e57300 410.5px,#e57100 421.5px,#e26200 430.5px,#de4500 441.5px,#db2e00 447.5px,#d40b00 453.5px,#ce0400 454.5px,#a23000 455.5px,#6d5f00 456.5px,#437c03 457.5px,#059111 459.5px,#009318 465.5px,#009555 472.5px,#009556 482px)"></i><i style="width:1px;background:linear-gradient(#009530 0px,#009312 81.5px,#128d0e 107.5px,#517700 130.5px,#963c00 151.5px,#d20000 178.5px,#d30500 183.5px,#d20000 193.5px,#953d00 258.5px,#953d00 300.5px,#c30f00 310.5px,#d30700 311.5px,#d40900 318.5px,#d71800 334.5px,#e36600 391.5px,#e57400 414.5px,#e46c00 425.5px,#e04f00 438.5px,#db2f00 447.5px,#d00200 454.5px,#735a00 456.5px,#487b02 457.5px,#0a9010 459.5px,#009316 460.5px,#009317 465.5px,#009555 472.5px,#009556 482px)"></i><i style="width:1px;background:linear-gradient(#009069 0px,#009647 107.5px,#009312 152.5px,#4a7a01 183.5px,#23870a 257.5px,#23870a 282.5px,#507800 290.5px,#943d00 300.5px,#c30f00 310.5px,#d30700 311.5px,#d61400 332.5px,#e36400 393.5px,#e57000 414.5px,#e36800 424.5px,#df4d00 436.5px,#dc3000 444.5px,#d00200 451.5px,#735a00 453.5px,#487b02 454.5px,#0a9010 456.5px,#009316 457.5px,#009317 462.5px,#009555 469.5px,#009556 482px)"></i><i style="width:1px;background:linear-gradient(#007a70 0px,#009468 105.5px,#009422 183.5px,#009423 292.5px,#009313 298.5px,#4e7900 312.5px,#983a00 323.5px,#c11100 332.5px,#d30600 333.5px,#d61300 350.5px,#e26000 398.5px,#e46b00 414.5px,#e36400 423.5px,#df4b00 434.5px,#dc3100 441.5px,#d00200 448.5px,#735a00 450.5px,#487b02 451.5px,#0a9010 453.5px,#009316 454.5px,#009317 459.5px,#009555 466.5px,#009557 482px)"></i><i style="width:1px;background:linear-gradient(#00716e 0px,#009468 116.5px,#009535 183.5px,#00952e 298.5px,#009312 308.5px,#507800 322.5px,#943d00 332.5px,#c30f00 342.5px,#d30600 343.5px,#d61300 358.5px,#e15700 396.5px,#e36700 414.5px,#e26100 422.5px,#df4b00 432.5px,#dc3300 439.5px,#d40900 446.5px,#c70b00 447.5px,#983a00 448.5px,#5c6d00 449.5px,#348106 450.5px,#158c0d 451.5px,#009315 452.5px,#009317 457.5px,#009551 464.5px,#009555 465.5px,#009557 482px)"></i><i style="width:1px;background:linear-gradient(#00716e 0px,#009468 116.5px,#009536 183.5px,#00952e 299.5px,#009312 309.5px,#507800 323.5px,#943d00 333.5px,#c30f00 343.5px,#d30500 344.5px,#d61200 359.5px,#e05300 396.5px,#e26200 414.5px,#e15d00 422.5px,#df4800 432.5px,#dc3000 439.5px,#d40800 446.5px,#c30f00 447.5px,#904100 448.5px,#537500 449.5px,#0e8e0f 451.5px,#009316 452.5px,#009317 457.5px,#009554 464.5px,#009558 482px)"></i><i style="width:1px;background:linear-gradient(#00716e 0px,#009468 116.5px,#009536 183.5px,#00952e 300.5px,#009312 310.5px,#507800 324.5px,#943d00 334.5px,#c30f00 344.5px,#d30500 345.5px,#d51000 359.5px,#e05000 396.5px,#e25e00 414.5px,#e15700 424.5px,#de4300 433.5px,#db2e00 439.5px,#ce0400 446.5px,#6f5e00 448.5px,#447c03 449.5px,#069111 451.5px,#009316 452.5px,#009318 457.5px,#009555 464.5px,#009558 482px)"></i><i style="width:1px;background:linear-gradient(#00786f 0px,#009468 117.5px,#009639 183.5px,#00952e 301.5px,#009314 310.5px,#019312 311.5px,#527700 325.5px,#963c00 335.5px,#c40e00 345.5px,#d30500 346.5px,#d51000 360.5px,#df4e00 396.5px,#e15b00 414.5px,#e05600 423.5px,#de4400 432.5px,#dc3100 438.5px,#d40a00 445.5px,#cb0700 446.5px,#9d3500 447.5px,#666600 448.5px,#3c7f04 449.5px,#009313 451.5px,#00941a 457.5px,#009556 464.5px,#009558 482px)"></i><i style="width:1px;background:linear-gradient(#00866d 0px,#009466 107.5px,#009534 183.5px,#00952a 303.5px,#009314 311.5px,#537500 326.5px,#973b00 336.5px,#c50d00 346.5px,#d30400 347.5px,#d51000 361.5px,#df4c00 396.5px,#e15900 414.5px,#e05300 423.5px,#de4200 432.5px,#db2e00 438.5px,#d40900 445.5px,#c70b00 446.5px,#983a00 447.5px,#5c6d00 448.5px,#348106 449.5px,#158c0d 450.5px,#009315 451.5px,#009317 456.5px,#009553 463.5px,#009556 464.5px,#009559 482px)"></i><i style="width:1px;background:linear-gradient(#009462 0px,#009557 28.5px,#009549 108.5px,#009319 183.5px,#00941d 308.5px,#009313 312.5px,#4e7900 326.5px,#983a00 337.5px,#c11100 346.5px,#d30400 347.5px,#d51000 362.5px,#df4a00 397.5px,#e15600 414.5px,#e05100 423.5px,#de4000 432.5px,#dc3100 437.5px,#d40800 445.5px,#c21000 446.5px,#904100 447.5px,#537500 448.5px,#0e8e0f 450.5px,#009316 451.5px,#009317 456.5px,#009555 463.5px,#009559 482px)"></i><i style="width:1px;background:linear-gradient(#009553 0px,#009312 124.5px,#567300 183.5px,#138d0e 257.5px,#138d0e 293.5px,#4e7900 304.5px,#983a00 315.5px,#c11100 324.5px,#d30400 325.5px,#d50e00 344.5px,#df4800 391.5px,#e05400 414.5px,#e04f00 423.5px,#dd3e00 432.5px,#da2a00 438.5px,#d40a00 444.5px,#ce0400 445.5px,#6f5e00 447.5px,#447c03 448.5px,#069111 450.5px,#009316 451.5px,#009318 456.5px,#009556 463.5px,#009559 482px)"></i><i style="width:1px;background:linear-gradient(#00955b 0px,#00954f 28.5px,#009312 99.5px,#507800 142.5px,#963c00 173.5px,#a32f00 182.5px,#953d00 194.5px,#517700 230.5px,#25860a 257.5px,#24870a 285.5px,#507800 293.5px,#943d00 303.5px,#c30f00 313.5px,#d30300 314.5px,#d50f00 336.5px,#de4500 387.5px,#e05100 414.5px,#df4c00 423.5px,#de3e00 431.5px,#dc3100 436.5px,#d40a00 444.5px,#ca0800 445.5px,#9d3500 446.5px,#666600 447.5px,#3c7f04 448.5px,#009313 450.5px,#00941a 456.5px,#009557 463.5px,#00955a 482px)"></i><i style="width:1px;background:linear-gradient(#008d6a 0px,#009468 28.5px,#009313 117.5px,#507800 150.5px,#963c00 174.5px,#a62c00 183.5px,#963c00 194.5px,#507800 225.5px,#148c0e 257.5px,#138d0e 282.5px,#507800 293.5px,#943d00 303.5px,#c30f00 313.5px,#d30300 314.5px,#d50e00 336.5px,#de4300 387.5px,#e04f00 414.5px,#df4a00 423.5px,#dd3a00 432.5px,#da2a00 437.5px,#d40900 444.5px,#c70b00 445.5px,#983a00 446.5px,#5c6d00 447.5px,#348106 448.5px,#158c0d 449.5px,#009315 450.5px,#009317 455.5px,#009554 462.5px,#009557 463.5px,#00955a 482px)"></i><i style="width:1px;background:linear-gradient(#007e6f 0px,#009468 62.5px,#009549 108.5px,#009313 148.5px,#507800 177.5px,#616900 183.5px,#4f7800 193.5px,#019312 243.5px,#00941d 258.5px,#00941d 275.5px,#009312 279.5px,#507800 293.5px,#943d00 303.5px,#c30f00 313.5px,#d30300 314.5px,#d50d00 336.5px,#de4100 387.5px,#df4d00 414.5px,#df4800 423.5px,#dd3800 432.5px,#da2800 437.5px,#d40800 444.5px,#c21000 445.5px,#904100 446.5px,#537500 447.5px,#0e8e0f 449.5px,#009316 450.5px,#009317 455.5px,#009556 462.5px,#00955a 482px)"></i><i style="width:1px;background:linear-gradient(#00746f 0px,#009466 107.5px,#009313 183.5px,#00952a 258.5px,#00952a 278.5px,#009314 286.5px,#537500 301.5px,#973b00 311.5px,#c50d00 321.5px,#d20200 322.5px,#d50d00 343.5px,#de3e00 388.5px,#df4a00 414.5px,#de4500 423.5px,#dd3600 432.5px,#d81e00 439.5px,#d40a00 443.5px,#ce0400 444.5px,#a23000 445.5px,#6f5e00 446.5px,#447c03 447.5px,#069111 449.5px,#009316 450.5px,#009318 455.5px,#009558 462.5px,#00955b 482px)"></i><i style="width:1px;background:linear-gradient(#00716e 0px,#009468 116.5px,#009533 183.5px,#00952e 296.5px,#009312 306.5px,#507800 320.5px,#943e00 330.5px,#c30f00 340.5px,#d20200 341.5px,#d50d00 358.5px,#dd3d00 394.5px,#df4800 414.5px,#de4300 423.5px,#dd3600 431.5px,#d92400 437.5px,#d40900 443.5px,#ca0800 444.5px,#9d3500 445.5px,#666600 446.5px,#3c7f04 447.5px,#009313 449.5px,#00941a 455.5px,#009558 462.5px,#00955b 482px)"></i><i style="width:1px;background:linear-gradient(#00716e 0px,#009468 118.5px,#00963e 183.5px,#00952e 257.5px,#00952e 299.5px,#019312 309.5px,#517700 323.5px,#953c00 333.5px,#c40e00 343.5px,#d20200 344.5px,#d40c00 360.5px,#dd3a00 394.5px,#de4500 414.5px,#de4100 423.5px,#dc3300 432.5px,#d40900 443.5px,#c60c00 444.5px,#983a00 445.5px,#5c6d00 446.5px,#348106 447.5px,#158c0d 448.5px,#009315 449.5px,#009317 454.5px,#009555 461.5px,#009558 462.5px,#00955b 482px)"></i><i style="width:1px;background:linear-gradient(#00716e 0px,#009468 118.5px,#00963e 183.5px,#00952e 257.5px,#00952e 301.5px,#009314 311.5px,#537600 326.5px,#973b00 336.5px,#c50d00 346.5px,#d20100 347.5px,#d40c00 363.5px,#dd3800 395.5px,#de4300 414.5px,#de3f00 423.5px,#dc3300 431.5px,#d40800 443.5px,#c21000 444.5px,#904100 445.5px,#537500 446.5px,#0e8e0f 448.5px,#009316 449.5px,#009317 454.5px,#009557 461.5px,#00955c 482px)"></i><i style="width:1px;background:linear-gradient(#00746f 0px,#009468 115.5px,#00963d 183.5px,#00952e 257.5px,#00952e 304.5px,#009313 314.5px,#4e7900 328.5px,#983a00 339.5px,#c11100 348.5px,#d20100 349.5px,#d40b00 365.5px,#dc3500 395.5px,#de4000 414.5px,#dc3300 430.5px,#d81c00 438.5px,#d40a00 442.5px,#ce0400 443.5px,#a23000 444.5px,#6f5e00 445.5px,#447c03 446.5px,#069111 448.5px,#009316 449.5px,#009318 454.5px,#009559 461.5px,#00955c 482px)"></i><i style="width:1px;background:linear-gradient(#007c70 0px,#009468 103.5px,#009639 183.5px,#00952e 302.5px,#009312 312.5px,#507800 326.5px,#943d00 336.5px,#c30f00 346.5px,#d20100 347.5px,#d40a00 363.5px,#dc3300 394.5px,#dd3e00 414.5px,#dc3200 429.5px,#d81d00 437.5px,#d40900 442.5px,#ca0800 443.5px,#9d3500 444.5px,#666600 445.5px,#3c7f04 446.5px,#009313 448.5px,#00941a 454.5px,#009559 461.5px,#00955c 482px)"></i><i style="width:1px;background:linear-gradient(#00846d 0px,#009468 72.5px,#00955d 107.5px,#009533 183.5px,#00952e 296.5px,#009312 306.5px,#507800 320.5px,#943d00 330.5px,#c30f00 340.5px,#d20100 341.5px,#d40b00 359.5px,#dc3200 392.5px,#dd3d00 414.5px,#dc3100 429.5px,#d81c00 437.5px,#d40900 442.5px,#c70b00 443.5px,#993900 444.5px,#5f6b00 445.5px,#368106 446.5px,#178b0d 447.5px,#009315 448.5px,#009317 453.5px,#009555 460.5px,#00955a 461.5px,#00955d 482px)"></i><i style="width:1px;background:linear-gradient(#00886c 0px,#009468 51.5px,#009557 107.5px,#009530 183.5px,#00952e 296.5px,#009312 306.5px,#507800 320.5px,#943d00 330.5px,#c30f00 340.5px,#d20100 341.5px,#d40b00 359.5px,#dc3200 392.5px,#dd3d00 414.5px,#dc3100 429.5px,#d40800 442.5px,#c60c00 443.5px,#973b00 444.5px,#5b6f00 445.5px,#338207 446.5px,#138c0e 447.5px,#009315 448.5px,#009317 453.5px,#009557 460.5px,#00955a 461.5px,#00955d 482px)"></i><i style="width:1px;background:linear-gradient(#00866d 0px,#009468 56.5px,#00952e 183.5px,#00952e 296.5px,#009312 306.5px,#507800 320.5px,#943d00 330.5px,#c30f00 340.5px,#d20100 341.5px,#d40b00 359.5px,#dc3200 392.5px,#dd3d00 414.5px,#dc3100 429.5px,#d40800 442.5px,#c40e00 443.5px,#933e00 444.5px,#567300 445.5px,#108e0e 447.5px,#009315 448.5px,#009317 453.5px,#009558 460.5px,#00955d 482px)"></i><i style="width:1px;background:linear-gradient(#007f6f 0px,#009468 69.5px,#00952e 183.5px,#00952e 296.5px,#009312 306.5px,#507800 320.5px,#943d00 330.5px,#c30f00 340.5px,#d20100 341.5px,#d40b00 359.5px,#dc3200 392.5px,#dd3d00 414.5px,#dc3100 429.5px,#d40800 442.5px,#c21000 443.5px,#8f4200 444.5px,#527600 445.5px,#0d8f0f 447.5px,#009316 448.5px,#009317 453.5px,#00955a 460.5px,#00945e 482px)"></i><i style="width:1px;background:linear-gradient(#00786f 0px,#009468 76.5px,#00952e 183.5px,#00952e 302.5px,#009312 312.5px,#507800 326.5px,#943d00 336.5px,#c30f00 346.5px,#d20100 347.5px,#d40b00 364.5px,#dc3200 394.5px,#dd3d00 414.5px,#dc3100 429.5px,#d71800 438.5px,#cf0300 442.5px,#725b00 444.5px,#477b02 445.5px,#099010 447.5px,#009316 448.5px,#009317 453.5px,#00955b 460.5px,#00945e 482px)"></i><i style="width:1px;background:linear-gradient(#00736f 0px,#009467 80.5px,#00952e 183.5px,#00952e 308.5px,#009314 318.5px,#019312 319.5px,#527600 333.5px,#963c00 343.5px,#c40e00 353.5px,#d20100 354.5px,#d40b00 369.5px,#dc3200 396.5px,#dd3d00 414.5px,#dc3100 429.5px,#d51000 440.5px,#ce0400 442.5px,#a23000 443.5px,#6e5f00 444.5px,#437c03 445.5px,#059111 447.5px,#009316 448.5px,#009318 453.5px,#00955b 460.5px,#00945e 482px)"></i><i style="width:1px;background:linear-gradient(#00716e 0px,#009468 80.5px,#00952e 183.5px,#00952e 310.5px,#009314 320.5px,#537600 335.5px,#973b00 345.5px,#c40e00 355.5px,#d20100 356.5px,#d40b00 370.5px,#dc3300 397.5px,#dd3d00 414.5px,#dc3200 428.5px,#d81e00 436.5px,#d40a00 441.5px,#cc0600 442.5px,#9f3300 443.5px,#6a6200 444.5px,#407e04 445.5px,#029212 447.5px,#009319 453.5px,#00955b 460.5px,#00945e 482px)"></i><i style="width:1px;background:linear-gradient(#00716e 0px,#009468 80.5px,#00952e 183.5px,#00952e 312.5px,#009313 322.5px,#4f7800 336.5px,#933e00 346.5px,#c21000 356.5px,#d20100 357.5px,#d40a00 371.5px,#dc3200 397.5px,#dd3d00 414.5px,#dc3200 428.5px,#d92100 435.5px,#d40900 441.5px,#ca0800 442.5px,#9d3500 443.5px,#656600 444.5px,#3c7f05 445.5px,#009313 447.5px,#00941a 453.5px,#00955b 460.5px,#00945e 482px)"></i><i style="width:1px;background:linear-gradient(#00716e 0px,#009468 80.5px,#00952e 183.5px,#00952e 310.5px,#009313 320.5px,#4f7800 334.5px,#933f00 344.5px,#c21000 354.5px,#d20100 355.5px,#d40b00 370.5px,#dc3300 397.5px,#dd3d00 414.5px,#dc3200 428.5px,#d82000 435.5px,#d40900 441.5px,#c80a00 442.5px,#9a3800 443.5px,#616900 444.5px,#388005 445.5px,#009315 447.5px,#00941c 453.5px,#009556 459.5px,#00955b 460.5px,#00945e 482px)"></i><i style="width:1px;background:linear-gradient(#00716e 0px,#009468 80.5px,#00952e 183.5px,#00952e 308.5px,#009313 318.5px,#4e7900 332.5px,#983a00 343.5px,#c11100 352.5px,#d20100 353.5px,#d40a00 368.5px,#dc3200 396.5px,#dd3d00 414.5px,#dc3200 428.5px,#d82000 435.5px,#d40900 441.5px,#c60c00 442.5px,#983a00 443.5px,#5d6d00 444.5px,#358106 445.5px,#158c0d 446.5px,#009315 447.5px,#009317 452.5px,#009557 459.5px,#00955b 460.5px,#00945e 482px)"></i><i style="width:1px;background:linear-gradient(#00746f 0px,#009468 77.5px,#00952e 182.5px,#00952e 306.5px,#009314 316.5px,#547500 331.5px,#973b00 341.5px,#c11100 350.5px,#d20100 351.5px,#d40b00 367.5px,#dc3300 396.5px,#dd3d00 414.5px,#dc3200 428.5px,#d82000 435.5px,#d40800 441.5px,#c50d00 442.5px,#953d00 443.5px,#587100 444.5px,#128d0e 446.5px,#009315 447.5px,#009317 452.5px,#009558 459.5px,#00955b 460.5px,#00945e 482px)"></i><i style="width:1px;background:linear-gradient(#007e6f 0px,#009468 63.5px,#00954b 108.5px,#009528 182.5px,#00952e 304.5px,#009314 314.5px,#537500 329.5px,#973b00 339.5px,#c50d00 349.5px,#d20100 350.5px,#d40b00 366.5px,#dc3200 395.5px,#dd3d00 414.5px,#dc3200 428.5px,#d81f00 435.5px,#d40800 441.5px,#c30f00 442.5px,#914000 443.5px,#547400 444.5px,#0e8e0f 446.5px,#009316 447.5px,#009317 452.5px,#009559 459.5px,#00945e 482px)"></i><i style="width:1px;background:linear-gradient(#008d6a 0px,#009468 28.5px,#00963b 108.5px,#00941c 182.5px,#00952e 257.5px,#00952e 298.5px,#009312 308.5px,#507800 322.5px,#943d00 332.5px,#c30f00 342.5px,#d20100 343.5px,#d40b00 361.5px,#dc3200 393.5px,#dd3d00 414.5px,#dc3200 428.5px,#d81f00 435.5px,#d30700 441.5px,#c11100 442.5px,#8d4400 443.5px,#507800 444.5px,#0b8f10 446.5px,#009316 447.5px,#009317 452.5px,#00955a 459.5px,#00945e 482px)"></i><i style="width:1px;background:linear-gradient(#00955b 0px,#009427 107.5px,#009312 165.5px,#0c8f0f 182.5px,#009312 196.5px,#00952e 258.5px,#00952e 283.5px,#009312 293.5px,#507800 307.5px,#943d00 317.5px,#c30f00 327.5px,#d20100 328.5px,#d40b00 349.5px,#dc3500 389.5px,#de3f00 414.5px,#dc3200 429.5px,#d71900 437.5px,#ce0400 441.5px,#705d00 443.5px,#457c02 444.5px,#079110 446.5px,#009316 447.5px,#009318 452.5px,#00955b 459.5px,#00945e 482px)"></i><i style="width:1px;background:linear-gradient(#00954e 0px,#009312 152.5px,#168c0d 182.5px,#009312 203.5px,#00952e 258.5px,#00952e 283.5px,#009312 293.5px,#507800 307.5px,#943d00 317.5px,#c30f00 327.5px,#d20100 328.5px,#d40a00 349.5px,#dc3200 388.5px,#dd3d00 414.5px,#dc3100 428.5px,#d81e00 435.5px,#d40a00 440.5px,#cd0500 441.5px,#a13100 442.5px,#6c6000 443.5px,#417d03 444.5px,#049211 446.5px,#009316 447.5px,#009319 452.5px,#00955b 459.5px,#00945e 482px)"></i><i style="width:1px;background:linear-gradient(#009553 0px,#009533 108.5px,#009313 182.5px,#00952e 257.5px,#00952e 283.5px,#009312 293.5px,#507800 307.5px,#943d00 317.5px,#c30f00 327.5px,#d20000 328.5px,#d40900 349.5px,#dc3200 395.5px,#dd3800 414.5px,#db2e00 427.5px,#d81c00 435.5px,#d40900 440.5px,#cb0700 441.5px,#9e3400 442.5px,#676400 443.5px,#3e7e04 444.5px,#009312 446.5px,#00941a 452.5px,#00955b 459.5px,#00945e 482px)"></i><i style="width:1px;background:linear-gradient(#009468 0px,#00955d 28.5px,#009553 108.5px,#00952a 183.5px,#009531 282.5px,#009312 293.5px,#507800 307.5px,#943d00 317.5px,#c30f00 327.5px,#d20000 328.5px,#d40900 349.5px,#dc3200 396.5px,#dd3700 414.5px,#db2e00 427.5px,#d71b00 435.5px,#d40900 440.5px,#c90900 441.5px,#9c3600 442.5px,#636800 443.5px,#3a7f05 444.5px,#009314 446.5px,#00941b 452.5px,#00955b 459.5px,#00945e 482px)"></i><i style="width:1px;background:linear-gradient(#00836e 0px,#009468 109.5px,#00963c 183.5px,#009638 294.5px,#009312 308.5px,#507800 322.5px,#943d00 332.5px,#c30f00 342.5px,#d20000 343.5px,#d40800 360.5px,#dc3100 399.5px,#dd3700 414.5px,#db2d00 427.5px,#d71b00 435.5px,#d40900 440.5px,#c70b00 441.5px,#993900 442.5px,#5e6c00 443.5px,#368106 444.5px,#168c0d 445.5px,#009315 446.5px,#009317 451.5px,#009557 458.5px,#00955b 459.5px,#00945e 482px)"></i><i style="width:1px;background:linear-gradient(#00776f 0px,#009468 127.5px,#00954a 183.5px,#009645 292.5px,#00963e 299.5px,#009313 314.5px,#4e7901 328.5px,#973b00 339.5px,#c11100 348.5px,#d20000 349.5px,#d40800 365.5px,#dc3100 401.5px,#dd3600 414.5px,#db2c00 427.5px,#d71a00 435.5px,#d40800 440.5px,#c40e00 441.5px,#943e00 442.5px,#577200 443.5px,#118d0e 445.5px,#009315 446.5px,#009317 451.5px,#009558 458.5px,#00955b 459.5px,#00945e 482px)"></i><i style="width:1px;background:linear-gradient(#00716e 0px,#007c70 27.5px,#009468 145.5px,#009559 183.5px,#00954f 282.5px,#00963f 300.5px,#009313 316.5px,#4f7800 330.5px,#983a00 341.5px,#c21000 350.5px,#d10100 351.5px,#d30600 364.5px,#db2e00 399.5px,#dc3600 414.5px,#db2c00 427.5px,#d71a00 435.5px,#d30700 440.5px,#c11100 441.5px,#8e4300 442.5px,#517700 443.5px,#0c8f0f 445.5px,#009316 446.5px,#009317 451.5px,#00955a 458.5px,#00945e 482px)"></i><i style="width:1px;background:linear-gradient(#00716e 0px,#007d70 28.5px,#009468 172.5px,#009554 257.5px,#009554 279.5px,#00963f 302.5px,#009313 318.5px,#4f7800 332.5px,#933e00 342.5px,#c21000 352.5px,#d10100 353.5px,#d30500 365.5px,#db2d00 399.5px,#dc3500 414.5px,#da2900 428.5px,#d61300 437.5px,#ce0400 440.5px,#a23000 441.5px,#6f5e00 442.5px,#447c03 443.5px,#069111 445.5px,#009316 446.5px,#009318 451.5px,#00955b 458.5px,#00945e 482px)"></i><i style="width:1px;background:linear-gradient(#00716e 0px,#007d70 28.5px,#009468 190.5px,#009555 257.5px,#009555 280.5px,#00963f 304.5px,#009312 320.5px,#507800 334.5px,#953d00 344.5px,#c30f00 354.5px,#d10100 355.5px,#d30600 367.5px,#db2d00 400.5px,#dc3500 414.5px,#db2b00 427.5px,#d40900 439.5px,#cb0700 440.5px,#9f3300 441.5px,#686300 442.5px,#3f7e04 443.5px,#019312 445.5px,#00941a 451.5px,#00955b 458.5px,#00945e 482px)"></i><i style="width:1px;background:linear-gradient(#00716e 0px,#007d70 28.5px,#009468 192.5px,#009555 257.5px,#009555 282.5px,#00963f 306.5px,#009315 321.5px,#019312 322.5px,#517700 336.5px,#963c00 346.5px,#c40e00 356.5px,#d10100 357.5px,#d30500 368.5px,#db2c00 400.5px,#dc3400 414.5px,#da2a00 427.5px,#d40900 439.5px,#c90900 440.5px,#9b3700 441.5px,#626900 442.5px,#398005 443.5px,#009314 445.5px,#00941b 451.5px,#00955b 458.5px,#00945e 482px)"></i><i style="width:1px;background:linear-gradient(#00716e 0px,#007d70 28.5px,#009468 192.5px,#009555 257.5px,#009555 284.5px,#00963e 308.5px,#009314 323.5px,#019212 324.5px,#537600 338.5px,#963c00 348.5px,#c40e00 358.5px,#d10100 359.5px,#d30500 370.5px,#db2b00 400.5px,#dc3300 414.5px,#da2900 427.5px,#d40800 439.5px,#c60c00 440.5px,#973b00 441.5px,#5c6e00 442.5px,#348206 443.5px,#148c0d 444.5px,#009315 445.5px,#009317 450.5px,#009557 457.5px,#00955b 458.5px,#00945e 482px)"></i><i style="width:1px;background:linear-gradient(#00716e 0px,#007d70 28.5px,#009468 192.5px,#009555 257.5px,#009554 286.5px,#00963e 310.5px,#009314 325.5px,#547500 340.5px,#973b00 350.5px,#c50d00 360.5px,#d10100 361.5px,#d30500 371.5px,#db2b00 401.5px,#dc3300 414.5px,#da2900 427.5px,#d40800 439.5px,#c30f00 440.5px,#923f00 441.5px,#557400 442.5px,#0f8e0f 444.5px,#009316 445.5px,#009317 450.5px,#009559 457.5px,#00945e 482px)"></i><i style="width:1px;background:linear-gradient(#00716e 0px,#007d70 28.5px,#009468 192.5px,#009555 257.5px,#009554 288.5px,#009640 311.5px,#009313 327.5px,#4e7900 341.5px,#983a00 352.5px,#c11100 361.5px,#d10100 362.5px,#d30500 373.5px,#da2a00 401.5px,#dc3200 414.5px,#da2600 428.5px,#d61300 436.5px,#cf0300 439.5px,#735a00 441.5px,#487b02 442.5px,#0a9010 444.5px,#009316 445.5px,#009317 450.5px,#00955a 457.5px,#00945e 482px)"></i><i style="width:1px;background:linear-gradient(#00716e 0px,#007d70 28.5px,#009468 192.5px,#009555 257.5px,#009555 289.5px,#00963f 313.5px,#009313 329.5px,#4f7800 343.5px,#933f00 353.5px,#c21000 363.5px,#d00200 364.5px,#d30500 374.5px,#da2a00 402.5px,#dc3200 414.5px,#d92500 428.5px,#d40a00 438.5px,#cd0500 439.5px,#a13100 440.5px,#6d5f00 441.5px,#427d03 442.5px,#049211 444.5px,#009316 445.5px,#009318 450.5px,#00955b 457.5px,#00945e 482px)"></i><i style="width:1px;background:linear-gradient(#00716e 0px,#007d70 28.5px,#009468 192.5px,#009555 257.5px,#009555 291.5px,#00963f 315.5px,#009312 331.5px,#507800 345.5px,#943e00 355.5px,#c30f00 365.5px,#d00200 366.5px,#d30400 375.5px,#da2900 402.5px,#dc3100 414.5px,#da2700 427.5px,#d40900 438.5px,#ca0800 439.5px,#9e3400 440.5px,#666500 441.5px,#3d7e04 442.5px,#009313 444.5px,#00941a 450.5px,#00955b 457.5px,#00945e 482px)"></i><i style="width:1px;background:linear-gradient(#00716e 0px,#007d70 28.5px,#009468 192.5px,#009555 257.5px,#009555 293.5px,#00963f 317.5px,#009312 333.5px,#517700 347.5px,#953d00 357.5px,#c30f00 367.5px,#d00200 368.5px,#d30400 377.5px,#da2900 403.5px,#dc3100 414.5px,#da2600 427.5px,#d40900 438.5px,#c80a00 439.5px,#9a3800 440.5px,#606a00 441.5px,#378006 442.5px,#188b0d 443.5px,#009315 444.5px,#009317 449.5px,#00941c 450.5px,#009556 456.5px,#00955b 457.5px,#00945e 482px)"></i><i style="width:1px;background:linear-gradient(#00716e 0px,#007d70 28.5px,#009468 192.5px,#009555 257.5px,#009555 294.5px,#00963f 318.5px,#009314 333.5px,#019312 334.5px,#527700 348.5px,#963c00 358.5px,#c40e00 368.5px,#d00200 369.5px,#d30400 377.5px,#da2800 403.5px,#dc3000 415.5px,#d92500 427.5px,#d40800 438.5px,#c50d00 439.5px,#963c00 440.5px,#5a7000 441.5px,#328207 442.5px,#138d0e 443.5px,#009315 444.5px,#009317 449.5px,#009558 456.5px,#00955b 457.5px,#00945f 482px)"></i><i style="width:1px;background:linear-gradient(#00716e 0px,#007d70 28.5px,#009468 192.5px,#009555 257.5px,#009555 293.5px,#00963f 317.5px,#009314 332.5px,#019312 333.5px,#527600 347.5px,#963c00 357.5px,#c40e00 367.5px,#d00200 368.5px,#d30400 377.5px,#da2800 403.5px,#db2f00 414.5px,#d92500 427.5px,#d40800 438.5px,#c21000 439.5px,#904100 440.5px,#537500 441.5px,#0d8e0f 443.5px,#009316 444.5px,#009317 449.5px,#009559 456.5px,#00945f 482px)"></i><i style="width:1px;background:linear-gradient(#00716e 0px,#007d70 28.5px,#009468 192.5px,#009555 257.5px,#009555 291.5px,#00963f 315.5px,#009315 330.5px,#019312 331.5px,#527700 345.5px,#963c00 355.5px,#c40e00 365.5px,#d00200 366.5px,#d30400 375.5px,#da2700 402.5px,#db2f00 414.5px,#d92200 428.5px,#d61200 435.5px,#cf0300 438.5px,#715c00 440.5px,#467b02 441.5px,#089010 443.5px,#009316 444.5px,#009317 449.5px,#00955b 456.5px,#00945f 482px)"></i><i style="width:1px;background:linear-gradient(#00716e 0px,#007d70 28.5px,#009468 192.5px,#009555 257.5px,#009555 289.5px,#00963f 313.5px,#009312 329.5px,#517700 343.5px,#953d00 353.5px,#c40e00 363.5px,#d00200 364.5px,#d30300 373.5px,#da2700 402.5px,#db2e00 414.5px,#d92500 426.5px,#d40900 437.5px,#cc0600 438.5px,#a03200 439.5px,#6b6100 440.5px,#417d03 441.5px,#039211 443.5px,#009319 449.5px,#00955b 456.5px,#00945f 482px)"></i><i style="width:1px;background:linear-gradient(#00716e 0px,#007d70 28.5px,#009468 192.5px,#009555 257.5px,#009555 282.5px,#00963f 306.5px,#009312 322.5px,#507800 336.5px,#943d00 346.5px,#c30f00 356.5px,#d00200 357.5px,#d30400 368.5px,#da2600 400.5px,#db2d00 414.5px,#d92400 426.5px,#d40900 437.5px,#c90900 438.5px,#9c3600 439.5px,#646700 440.5px,#3b7f05 441.5px,#009313 443.5px,#00941b 449.5px,#00955b 456.5px,#00945f 482px)"></i><i style="width:1px;background:linear-gradient(#00716e 0px,#007d70 28.5px,#009468 192.5px,#009555 257.5px,#009555 276.5px,#00963f 300.5px,#009312 316.5px,#507800 330.5px,#943d00 340.5px,#c30f00 350.5px,#cf0300 351.5px,#d30300 363.5px,#d92500 398.5px,#db2d00 414.5px,#d92400 426.5px,#d40900 437.5px,#c70b00 438.5px,#993900 439.5px,#5f6b00 440.5px,#368106 441.5px,#178b0d 442.5px,#009315 443.5px,#009317 448.5px,#009556 455.5px,#00955b 456.5px,#00945f 482px)"></i><i style="width:1px;background:linear-gradient(#00716e 0px,#007d70 28.5px,#009468 192.5px,#009555 257.5px,#009555 276.5px,#00963f 300.5px,#009312 316.5px,#507800 330.5px,#943d00 340.5px,#c30f00 350.5px,#cf0300 351.5px,#d30300 363.5px,#d92500 398.5px,#db2d00 414.5px,#d92400 426.5px,#d40800 437.5px,#c50d00 438.5px,#963c00 439.5px,#5a6f00 440.5px,#338207 441.5px,#138d0e 442.5px,#009315 443.5px,#009317 448.5px,#009558 455.5px,#00955b 456.5px,#00945f 482px)"></i><i style="width:1px;background:linear-gradient(#00716e 0px,#007d70 28.5px,#009468 192.5px,#009555 257.5px,#009555 276.5px,#00963f 300.5px,#009312 316.5px,#507800 330.5px,#943d00 340.5px,#c30f00 350.5px,#cf0300 351.5px,#d30300 363.5px,#d92500 398.5px,#db2c00 414.5px,#d92400 426.5px,#d40800 437.5px,#c30f00 438.5px,#923f00 439.5px,#567300 440.5px,#0f8e0f 442.5px,#009316 443.5px,#009317 448.5px,#009559 455.5px,#00945f 482px)"></i><i style="width:1px;background:linear-gradient(#00716e 0px,#007d70 28.5px,#009468 192.5px,#009555 257.5px,#009555 276.5px,#00963f 300.5px,#009312 316.5px,#507800 330.5px,#943d00 340.5px,#c30f00 350.5px,#cf0300 351.5px,#d30300 363.5px,#d92500 398.5px,#db2c00 414.5px,#d92300 426.5px,#d30700 437.5px,#c11100 438.5px,#8e4300 439.5px,#517700 440.5px,#0c8f0f 442.5px,#009316 443.5px,#009317 448.5px,#00955a 455.5px,#00945f 482px)"></i><i style="width:1px;background:linear-gradient(#00716e 0px,#007d70 28.5px,#009468 192.5px,#009555 257.5px,#009555 282.5px,#00963f 306.5px,#009312 322.5px,#507800 336.5px,#943d00 346.5px,#c30f00 356.5px,#cf0300 357.5px,#d30300 368.5px,#d92500 400.5px,#db2c00 414.5px,#d92100 427.5px,#d61200 434.5px,#ce0400 437.5px,#715c00 439.5px,#467b02 440.5px,#089010 442.5px,#009316 443.5px,#009317 448.5px,#00955b 455.5px,#00945f 482px)"></i><i style="width:1px;background:linear-gradient(#00716e 0px,#007d70 28.5px,#009468 192.5px,#009555 257.5px,#009555 286.5px,#00963f 310.5px,#009313 326.5px,#507800 340.5px,#943e00 350.5px,#c21000 360.5px,#cf0300 361.5px,#d30300 371.5px,#d92500 401.5px,#db2c00 414.5px,#d92100 427.5px,#d40a00 436.5px,#cd0500 437.5px,#a13100 438.5px,#6c6000 439.5px,#427d03 440.5px,#049211 442.5px,#009316 443.5px,#009319 448.5px,#00955b 455.5px,#00945f 482px)"></i><i style="width:1px;background:linear-gradient(#00716e 0px,#007d70 28.5px,#009468 192.5px,#009555 257.5px,#009555 287.5px,#00963f 311.5px,#009313 327.5px,#4e7900 341.5px,#983a00 352.5px,#c11100 361.5px,#cf0300 362.5px,#d30300 372.5px,#d92400 401.5px,#db2c00 414.5px,#d92300 426.5px,#d40900 436.5px,#cb0700 437.5px,#9e3400 438.5px,#686400 439.5px,#3e7e04 440.5px,#009312 442.5px,#00941a 448.5px,#00955b 455.5px,#00945f 482px)"></i><i style="width:1px;background:linear-gradient(#00716e 0px,#007d70 28.5px,#009468 189.5px,#009555 257.5px,#009554 289.5px,#00963e 313.5px,#009314 328.5px,#4d7901 342.5px,#973b00 353.5px,#c50d00 363.5px,#cf0300 364.5px,#d30300 373.5px,#d92500 402.5px,#db2c00 414.5px,#d92200 426.5px,#d40900 436.5px,#c90900 437.5px,#9c3600 438.5px,#636800 439.5px,#3a7f05 440.5px,#009314 442.5px,#00941b 448.5px,#00955b 455.5px,#00945f 482px)"></i><i style="width:1px;background:linear-gradient(#00716e 0px,#007d70 28.5px,#009468 173.5px,#009555 257.5px,#009555 290.5px,#00963f 314.5px,#009314 329.5px,#019212 330.5px,#537600 344.5px,#963c00 354.5px,#c40e00 364.5px,#cf0300 365.5px,#d30300 374.5px,#d92500 402.5px,#db2b00 414.5px,#d92200 426.5px,#d40900 436.5px,#c70b00 437.5px,#993900 438.5px,#5f6b00 439.5px,#368106 440.5px,#178b0d 441.5px,#009315 442.5px,#009317 447.5px,#009556 454.5px,#00955b 455.5px,#00945f 482px)"></i><i style="width:1px;background:linear-gradient(#00746f 0px,#007e6f 27.5px,#009468 153.5px,#00955c 183.5px,#009552 294.5px,#00963f 315.5px,#009312 331.5px,#517700 345.5px,#953d00 355.5px,#c40e00 365.5px,#cf0300 366.5px,#d30300 375.5px,#d92400 402.5px,#db2b00 414.5px,#d92200 426.5px,#d40800 436.5px,#c50d00 437.5px,#963c00 438.5px,#5a6f00 439.5px,#338207 440.5px,#138d0e 441.5px,#009315 442.5px,#009317 447.5px,#009558 454.5px,#00955b 455.5px,#00945f 482px)"></i><i style="width:1px;background:linear-gradient(#007b70 0px,#00886c 107.5px,#009468 143.5px,#009553 183.5px,#00954b 303.5px,#00963f 316.5px,#009312 332.5px,#507800 346.5px,#943e00 356.5px,#c30f00 366.5px,#cf0300 367.5px,#d30300 376.5px,#d92400 402.5px,#db2b00 414.5px,#d92200 426.5px,#d40800 436.5px,#c30f00 437.5px,#923f00 438.5px,#567300 439.5px,#0f8e0f 441.5px,#009316 442.5px,#009317 447.5px,#009559 454.5px,#00955b 455.5px,#00945f 482px)"></i><i style="width:1px;background:linear-gradient(#00846d 0px,#008b6b 28.5px,#008c6b 107.5px,#009468 133.5px,#00954e 183.5px,#009640 257.5px,#009640 316.5px,#009313 333.5px,#4f7800 347.5px,#933f00 357.5px,#c21000 367.5px,#cf0300 368.5px,#d30300 377.5px,#d92400 403.5px,#db2b00 414.5px,#d92200 426.5px,#d30700 436.5px,#c11100 437.5px,#8e4300 438.5px,#517700 439.5px,#0c8f0f 441.5px,#009316 442.5px,#009317 447.5px,#00955a 454.5px,#00945f 482px)"></i><i style="width:1px;background:linear-gradient(#008b6b 0px,#009269 28.5px,#009467 107.5px,#009639 257.5px,#009639 320.5px,#009312 334.5px,#507800 348.5px,#943d00 358.5px,#c30f00 368.5px,#cf0300 369.5px,#d20200 377.5px,#d92400 403.5px,#db2b00 414.5px,#d82000 427.5px,#d50f00 434.5px,#ce0400 436.5px,#715c00 438.5px,#467b02 439.5px,#089010 441.5px,#009316 442.5px,#009317 447.5px,#00955b 454.5px,#00945f 482px)"></i><i style="width:1px;background:linear-gradient(#008f6a 0px,#009551 107.5px,#00954d 183.5px,#009536 257.5px,#009536 319.5px,#009314 331.5px,#019312 332.5px,#527700 346.5px,#963c00 356.5px,#c40e00 366.5px,#cf0300 367.5px,#d20200 375.5px,#d92300 402.5px,#db2b00 414.5px,#d92100 426.5px,#d40a00 435.5px,#cd0500 436.5px,#a13100 437.5px,#6c6000 438.5px,#427d03 439.5px,#049211 441.5px,#009316 442.5px,#009319 447.5px,#00955b 454.5px,#00945f 482px)"></i><i style="width:1px;background:linear-gradient(#009069 0px,#009468 17.5px,#009643 107.5px,#00954b 182.5px,#009536 257.5px,#009536 316.5px,#009313 329.5px,#4f7800 343.5px,#983a00 354.5px,#c21000 363.5px,#cf0300 364.5px,#d20200 373.5px,#d92400 402.5px,#db2b00 414.5px,#d92300 425.5px,#d40900 435.5px,#cb0700 436.5px,#9e3400 437.5px,#686400 438.5px,#3e7e04 439.5px,#009312 441.5px,#00941a 447.5px,#00955b 454.5px,#00945f 482px)"></i><i style="width:1px;background:linear-gradient(#009069 0px,#009468 17.5px,#00963e 108.5px,#009641 182.5px,#009536 257.5px,#009536 314.5px,#009314 326.5px,#019312 327.5px,#527600 341.5px,#963c00 351.5px,#c40e00 361.5px,#cf0300 362.5px,#d20200 371.5px,#d92300 401.5px,#da2a00 414.5px,#d92200 425.5px,#d40900 435.5px,#c90900 436.5px,#9c3600 437.5px,#636800 438.5px,#3a7f05 439.5px,#009314 441.5px,#00941b 447.5px,#00955b 454.5px,#00945f 482px)"></i><i style="width:1px;background:linear-gradient(#009069 0px,#009464 27.5px,#00963e 108.5px,#00952f 182.5px,#009536 311.5px,#009313 324.5px,#4f7800 338.5px,#933f00 348.5px,#c21000 358.5px,#cf0300 359.5px,#d20200 369.5px,#d92400 401.5px,#da2a00 414.5px,#d92200 425.5px,#d40900 435.5px,#c70b00 436.5px,#993900 437.5px,#5f6b00 438.5px,#368106 439.5px,#178b0d 440.5px,#009315 441.5px,#009317 446.5px,#009556 453.5px,#00955b 454.5px,#00945f 482px)"></i><i style="width:1px;background:linear-gradient(#009069 0px,#009464 27.5px,#00941c 182.5px,#009536 257.5px,#009536 309.5px,#009314 321.5px,#019312 322.5px,#527600 336.5px,#963c00 346.5px,#c40e00 356.5px,#cf0300 357.5px,#d20200 367.5px,#d92300 400.5px,#da2a00 414.5px,#d92200 425.5px,#d40800 435.5px,#c50d00 436.5px,#973b00 437.5px,#5b6f00 438.5px,#338207 439.5px,#138c0e 440.5px,#009315 441.5px,#009317 446.5px,#009557 453.5px,#00955b 454.5px,#00945f 482px)"></i><i style="width:1px;background:linear-gradient(#009069 0px,#009464 27.5px,#00963e 107.5px,#009312 182.5px,#009536 258.5px,#009536 297.5px,#009313 310.5px,#4e7900 324.5px,#983a00 335.5px,#c11100 344.5px,#cf0300 345.5px,#d20200 358.5px,#d92300 397.5px,#da2a00 414.5px,#d92200 425.5px,#d40800 435.5px,#c40e00 436.5px,#933f00 437.5px,#567300 438.5px,#108e0e 440.5px,#009315 441.5px,#009317 446.5px,#009559 453.5px,#00955b 454.5px,#00945f 482px)"></i><i style="width:1px;background:linear-gradient(#008f6a 0px,#009465 28.5px,#009312 182.5px,#009536 257.5px,#009536 292.5px,#009312 305.5px,#507800 319.5px,#943d00 329.5px,#c30f00 339.5px,#cf0300 340.5px,#d20200 353.5px,#d92300 396.5px,#da2a00 414.5px,#d92100 425.5px,#d30700 435.5px,#c21000 436.5px,#8f4200 437.5px,#527600 438.5px,#0d8f0f 440.5px,#009316 441.5px,#009317 446.5px,#00955a 453.5px,#00945f 482px)"></i><i style="width:1px;background:linear-gradient(#008b6b 0px,#009468 34.5px,#00963e 108.5px,#00941d 182.5px,#009536 257.5px,#009536 292.5px,#009312 305.5px,#507800 319.5px,#943d00 329.5px,#c30f00 339.5px,#cf0300 340.5px,#d20200 353.5px,#d92300 396.5px,#da2a00 414.5px,#d81e00 427.5px,#d50f00 433.5px,#cf0300 435.5px,#725b00 437.5px,#477b02 438.5px,#099010 440.5px,#009316 441.5px,#009317 446.5px,#00955b 453.5px,#00945f 482px)"></i><i style="width:1px;background:linear-gradient(#00836e 0px,#009468 52.5px,#009643 108.5px,#00952d 182.5px,#009639 291.5px,#009312 305.5px,#507800 319.5px,#943d00 329.5px,#c30f00 339.5px,#cf0300 340.5px,#d20200 353.5px,#d92300 396.5px,#da2900 414.5px,#d81f00 426.5px,#d40a00 434.5px,#cd0500 435.5px,#a23000 436.5px,#6e5f00 437.5px,#437c03 438.5px,#059111 440.5px,#009316 441.5px,#009318 446.5px,#00955b 453.5px,#00945f 482px)"></i><i style="width:1px;background:linear-gradient(#007a70 0px,#009468 72.5px,#009551 108.5px,#009639 182.5px,#009640 291.5px,#009314 308.5px,#537500 323.5px,#973b00 333.5px,#c50d00 343.5px,#cf0300 344.5px,#d20200 356.5px,#d92300 397.5px,#da2900 414.5px,#d92100 425.5px,#d40900 434.5px,#cc0600 435.5px,#9f3300 436.5px,#696200 437.5px,#407e04 438.5px,#029212 440.5px,#009319 446.5px,#00955b 453.5px,#00945f 482px)"></i><i style="width:1px;background:linear-gradient(#00736f 0px,#009468 105.5px,#00963e 183.5px,#00954b 257.5px,#00954b 290.5px,#00963e 304.5px,#009313 319.5px,#4e7900 333.5px,#983a00 344.5px,#c11100 353.5px,#cf0300 354.5px,#d20200 365.5px,#d92200 399.5px,#da2900 414.5px,#d92100 425.5px,#d40900 434.5px,#ca0800 435.5px,#9d3500 436.5px,#656600 437.5px,#3c7f05 438.5px,#009313 440.5px,#00941a 446.5px,#00955b 453.5px,#00945f 482px)"></i><i style="width:1px;background:linear-gradient(#00716e 0px,#009468 126.5px,#009640 183.5px,#009552 257.5px,#009552 284.5px,#00963f 305.5px,#009313 321.5px,#4f7800 335.5px,#933f00 345.5px,#c21000 355.5px,#cf0300 356.5px,#d20200 366.5px,#d92200 400.5px,#da2900 414.5px,#d82000 425.5px,#d40900 434.5px,#c80a00 435.5px,#9a3800 436.5px,#616900 437.5px,#388005 438.5px,#009315 440.5px,#00941c 446.5px,#009556 452.5px,#00955b 453.5px,#00945f 482px)"></i><i style="width:1px;background:linear-gradient(#00716e 0px,#007c70 27.5px,#00886c 107.5px,#009468 134.5px,#009648 183.5px,#009555 283.5px,#00963f 307.5px,#009312 323.5px,#507800 337.5px,#943e00 347.5px,#c21000 357.5px,#cf0300 358.5px,#d20200 368.5px,#d92200 400.5px,#da2900 414.5px,#d82000 425.5px,#d40800 434.5px,#c60c00 435.5px,#983a00 436.5px,#5d6d00 437.5px,#358106 438.5px,#158c0d 439.5px,#009315 440.5px,#009317 445.5px,#009557 452.5px,#00955b 453.5px,#00945f 482px)"></i><i style="width:1px;background:linear-gradient(#00716e 0px,#007c70 27.5px,#009468 146.5px,#009557 183.5px,#009555 285.5px,#00963f 309.5px,#009312 325.5px,#517700 339.5px,#953d00 349.5px,#c30f00 359.5px,#cf0300 360.5px,#d20200 370.5px,#d92200 401.5px,#da2900 414.5px,#d82000 425.5px,#d40800 434.5px,#c40e00 435.5px,#953d00 436.5px,#587100 437.5px,#128d0e 439.5px,#009315 440.5px,#009317 445.5px,#009558 452.5px,#00955b 453.5px,#00945f 482px)"></i><i style="width:1px;background:linear-gradient(#00716e 0px,#007c70 27.5px,#009468 167.5px,#009555 257.5px,#009555 287.5px,#00963f 311.5px,#009314 326.5px,#019312 327.5px,#527700 341.5px,#963c00 351.5px,#c40e00 361.5px,#cf0300 362.5px,#d20200 371.5px,#d92200 401.5px,#da2800 414.5px,#d82000 425.5px,#d40800 434.5px,#c30f00 435.5px,#914000 436.5px,#547400 437.5px,#0e8e0f 439.5px,#009316 440.5px,#009317 445.5px,#009559 452.5px,#00945f 482px)"></i><i style="width:1px;background:linear-gradient(#00716e 0px,#007d70 28.5px,#009468 188.5px,#009555 257.5px,#009555 289.5px,#00963e 313.5px,#009314 328.5px,#537600 343.5px,#963c00 353.5px,#c40e00 363.5px,#cf0300 364.5px,#d20200 373.5px,#d92200 402.5px,#da2800 414.5px,#d81f00 425.5px,#d30700 434.5px,#c11100 435.5px,#8d4400 436.5px,#507800 437.5px,#0b8f10 439.5px,#009316 440.5px,#009317 445.5px,#00955a 452.5px,#00945f 482px)"></i><i style="width:1px;background:linear-gradient(#00716e 0px,#007d70 28.5px,#009468 192.5px,#009555 257.5px,#009554 291.5px,#00963e 315.5px,#009314 330.5px,#4d7901 344.5px,#973b00 355.5px,#c50d00 365.5px,#cf0300 366.5px,#d20200 374.5px,#d92100 402.5px,#da2800 414.5px,#d81d00 426.5px,#d50f00 432.5px,#ce0400 434.5px,#705d00 436.5px,#457c02 437.5px,#079110 439.5px,#009316 440.5px,#009318 445.5px,#00955b 452.5px,#00945f 482px)"></i><i style="width:1px;background:linear-gradient(#00716e 0px,#007d70 28.5px,#009468 192.5px,#009555 257.5px,#009554 293.5px,#009640 316.5px,#009313 332.5px,#4e7900 346.5px,#983a00 357.5px,#c11100 366.5px,#ce0400 367.5px,#d20100 375.5px,#d92200 403.5px,#da2800 414.5px,#d81f00 425.5px,#d40900 433.5px,#cc0600 434.5px,#a13100 435.5px,#6c6000 436.5px,#417d03 437.5px,#049211 439.5px,#009316 440.5px,#009319 445.5px,#00955b 452.5px,#00945f 482px)"></i><i style="width:1px;background:linear-gradient(#00716e 0px,#007d70 28.5px,#009468 192.5px,#009555 257.5px,#009555 294.5px,#00963f 318.5px,#009313 334.5px,#4f7800 348.5px,#933f00 358.5px,#c21000 368.5px,#ce0400 369.5px,#d20200 377.5px,#d92100 403.5px,#da2800 414.5px,#d82000 424.5px,#d40900 433.5px,#cb0700 434.5px,#9e3400 435.5px,#676400 436.5px,#3e7e04 437.5px,#009312 439.5px,#00941a 445.5px,#00955b 452.5px,#00945f 482px)"></i><i style="width:1px;background:linear-gradient(#00716e 0px,#007d70 28.5px,#009468 192.5px,#009555 257.5px,#009555 296.5px,#00963f 320.5px,#009312 336.5px,#507800 350.5px,#943e00 360.5px,#c21000 370.5px,#ce0400 371.5px,#d20200 379.5px,#d92100 403.5px,#da2800 414.5px,#d82000 424.5px,#d40900 433.5px,#c90900 434.5px,#9c3600 435.5px,#636800 436.5px,#3a7f05 437.5px,#009314 439.5px,#00941b 445.5px,#00955b 452.5px,#00945f 482px)"></i><i style="width:1px;background:linear-gradient(#00716e 0px,#007d70 28.5px,#009468 192.5px,#009555 257.5px,#009555 298.5px,#00963f 322.5px,#009312 338.5px,#517700 352.5px,#953d00 362.5px,#c30f00 372.5px,#ce0400 373.5px,#d20200 380.5px,#d92100 404.5px,#da2700 414.5px,#d81f00 425.5px,#d40900 433.5px,#cc0600 434.5px,#a03200 435.5px,#6a6200 436.5px,#407d04 437.5px,#029212 439.5px,#009319 445.5px,#00955b 452.5px,#00945f 482px)"></i><i style="width:1px;background:linear-gradient(#00716e 0px,#007d70 28.5px,#009468 192.5px,#009555 257.5px,#009555 300.5px,#00963f 324.5px,#009314 339.5px,#019312 340.5px,#527700 354.5px,#963c00 364.5px,#c40e00 374.5px,#ce0400 375.5px,#d20100 381.5px,#d92200 405.5px,#da2700 415.5px,#d81f00 425.5px,#d40800 434.5px,#c40e00 435.5px,#953d00 436.5px,#587100 437.5px,#118d0e 439.5px,#009315 440.5px,#009317 445.5px,#009558 452.5px,#00955b 453.5px,#00945f 482px)"></i><i style="width:1px;background:linear-gradient(#00716e 0px,#007d70 28.5px,#009468 192.5px,#009555 257.5px,#009555 300.5px,#00963f 324.5px,#009312 340.5px,#507800 354.5px,#943d00 364.5px,#c30f00 374.5px,#ce0400 375.5px,#d20100 381.5px,#d92100 405.5px,#da2700 415.5px,#d81e00 426.5px,#d40900 434.5px,#cc0600 435.5px,#a03200 436.5px,#6a6200 437.5px,#407d04 438.5px,#029212 440.5px,#009319 446.5px,#00955b 453.5px,#00945f 482px)"></i><i style="width:1px;background:linear-gradient(#00716e 0px,#007d70 28.5px,#009468 192.5px,#009555 257.5px,#009555 300.5px,#00963f 324.5px,#009312 340.5px,#507800 354.5px,#943d00 364.5px,#c30f00 374.5px,#ce0400 375.5px,#d20100 381.5px,#d92100 405.5px,#da2700 415.5px,#d81e00 426.5px,#d40800 435.5px,#c40e00 436.5px,#953d00 437.5px,#587100 438.5px,#118d0e 440.5px,#009315 441.5px,#009317 446.5px,#009558 453.5px,#00955b 454.5px,#00945f 482px)"></i><i style="width:1px;background:linear-gradient(#00716e 0px,#007d70 28.5px,#009468 192.5px,#009555 257.5px,#009555 300.5px,#00963f 324.5px,#009312 340.5px,#507800 354.5px,#943d00 364.5px,#c30f00 374.5px,#ce0400 375.5px,#d20100 381.5px,#d92100 405.5px,#da2700 415.5px,#d81d00 427.5px,#d40900 435.5px,#cc0600 436.5px,#a03200 437.5px,#6a6200 438.5px,#407d04 439.5px,#029212 441.5px,#009319 447.5px,#00955b 454.5px,#00945f 482px)"></i><i style="width:1px;background:linear-gradient(#00716e 0px,#007d70 28.5px,#009468 192.5px,#009555 257.5px,#009555 300.5px,#00963f 324.5px,#009312 340.5px,#507800 354.5px,#943d00 364.5px,#c30f00 374.5px,#ce0400 375.5px,#d20100 381.5px,#d92100 405.5px,#da2700 415.5px,#d81d00 427.5px,#d40800 436.5px,#c40e00 437.5px,#953d00 438.5px,#587100 439.5px,#118d0e 441.5px,#009315 442.5px,#009317 447.5px,#009558 454.5px,#00955b 455.5px,#00945f 482px)"></i><i style="width:1px;background:linear-gradient(#00716e 0px,#007d70 28.5px,#009468 192.5px,#009555 257.5px,#009554 299.5px,#00963e 323.5px,#009314 338.5px,#537600 353.5px,#973b00 363.5px,#c50d00 373.5px,#ce0400 374.5px,#d20100 380.5px,#d92100 405.5px,#da2700 415.5px,#d81e00 427.5px,#d40900 436.5px,#cc0600 437.5px,#a03200 438.5px,#6a6200 439.5px,#407d04 440.5px,#029212 442.5px,#009319 448.5px,#00955b 455.5px,#00945f 482px)"></i><i style="width:1px;background:linear-gradient(#00716e 0px,#007d70 28.5px,#009468 192.5px,#009555 257.5px,#009555 297.5px,#00963f 321.5px,#009313 337.5px,#4f7800 351.5px,#933e00 361.5px,#c21000 371.5px,#cf0300 372.5px,#d20200 379.5px,#d92200 404.5px,#da2800 415.5px,#d81f00 427.5px,#d40800 437.5px,#c40e00 438.5px,#953d00 439.5px,#587100 440.5px,#118d0e 442.5px,#009315 443.5px,#009317 448.5px,#009558 455.5px,#00955b 456.5px,#00945f 482px)"></i><i style="width:1px;background:linear-gradient(#00716e 0px,#007d70 28.5px,#009468 189.5px,#009555 257.5px,#009554 296.5px,#00963e 320.5px,#009314 335.5px,#537600 350.5px,#973b00 360.5px,#c50d00 370.5px,#cf0300 371.5px,#d20200 378.5px,#d92500 404.5px,#db2b00 415.5px,#d92200 427.5px,#d40900 437.5px,#cc0600 438.5px,#a03200 439.5px,#6a6200 440.5px,#407d04 441.5px,#029212 443.5px,#009319 449.5px,#00955b 456.5px,#00945f 482px)"></i><i style="width:1px;background:linear-gradient(#007970 0px,#009468 126.5px,#00954c 257.5px,#00954c 304.5px,#00963f 318.5px,#009313 334.5px,#4f7800 348.5px,#933e00 358.5px,#c21000 368.5px,#d00200 369.5px,#d30300 377.5px,#da2700 403.5px,#db2e00 415.5px,#d92400 427.5px,#d40800 438.5px,#c40e00 439.5px,#953d00 440.5px,#587100 441.5px,#118d0e 443.5px,#009315 444.5px,#009317 449.5px,#009558 456.5px,#00955b 457.5px,#00945f 482px)"></i><i style="width:1px;background:linear-gradient(#00886c 0px,#009468 40.5px,#009643 108.5px,#009532 182.5px,#009530 322.5px,#009314 332.5px,#537600 347.5px,#973b00 357.5px,#c50d00 367.5px,#d10100 368.5px,#d30500 377.5px,#da2a00 403.5px,#dc3200 415.5px,#da2600 428.5px,#d40900 439.5px,#c80a00 440.5px,#9a3800 441.5px,#616900 442.5px,#388005 443.5px,#009315 445.5px,#00941c 451.5px,#009556 457.5px,#00955b 458.5px,#00945e 482px)"></i><i style="width:1px;background:linear-gradient(#009556 0px,#00954a 28.5px,#009312 90.5px,#21880b 108.5px,#447c03 182.5px,#1a8a0c 257.5px,#1a8a0c 327.5px,#527700 337.5px,#963c00 347.5px,#c40e00 357.5px,#d10100 358.5px,#d30500 369.5px,#db2c00 400.5px,#dc3400 414.5px,#da2a00 428.5px,#d40900 441.5px,#c80a00 442.5px,#9a3800 443.5px,#616900 444.5px,#388005 445.5px,#009315 447.5px,#00941c 453.5px,#009556 459.5px,#00955b 460.5px,#00945e 482px)"></i><i style="width:1px;background:linear-gradient(#009639 0px,#00952d 27.5px,#019312 53.5px,#507800 89.5px,#814e00 108.5px,#963c00 137.5px,#ad2500 182.5px,#963c00 208.5px,#547400 257.5px,#547500 290.5px,#943d00 300.5px,#c30f00 310.5px,#d20000 311.5px,#d40800 336.5px,#dc3200 393.5px,#dd3700 414.5px,#dc3300 423.5px,#da2900 430.5px,#d61300 439.5px,#cf0300 442.5px,#735a00 444.5px,#487b02 445.5px,#0a9010 447.5px,#009316 448.5px,#009317 453.5px,#00955a 460.5px,#00945e 482px)"></i><i style="width:1px;background:linear-gradient(#009531 0px,#009426 27.5px,#009312 46.5px,#517700 83.5px,#904100 108.5px,#c01200 182.5px,#963c00 221.5px,#5c6e00 257.5px,#5b6e00 291.5px,#943d00 300.5px,#c30f00 310.5px,#d20000 311.5px,#d40800 336.5px,#dc3100 393.5px,#dd3600 414.5px,#da2a00 429.5px,#d61300 438.5px,#cf0300 441.5px,#735a00 443.5px,#487b02 444.5px,#0a9010 446.5px,#009316 447.5px,#009317 452.5px,#00955a 459.5px,#00945e 482px)"></i><i style="width:1px;background:linear-gradient(#009643 0px,#009638 28.5px,#009312 66.5px,#567300 108.5px,#9f3300 182.5px,#953d00 192.5px,#507800 236.5px,#348106 257.5px,#348206 285.5px,#507800 290.5px,#943d00 300.5px,#c30f00 310.5px,#d10100 311.5px,#d30400 331.5px,#db2b00 389.5px,#dc3200 414.5px,#d92500 429.5px,#d61300 437.5px,#cf0300 440.5px,#735a00 442.5px,#487b02 443.5px,#0a9010 445.5px,#009316 446.5px,#009317 451.5px,#00955a 458.5px,#00945e 482px)"></i><i style="width:1px;background:linear-gradient(#009465 0px,#00955a 28.5px,#009313 102.5px,#587100 182.5px,#009312 252.5px,#009313 312.5px,#4e7900 326.5px,#983a00 337.5px,#c11100 346.5px,#d00200 347.5px,#d30300 360.5px,#da2700 398.5px,#db2e00 414.5px,#d92400 427.5px,#d40900 438.5px,#cd0500 439.5px,#a13100 440.5px,#6c6000 441.5px,#427d03 442.5px,#049211 444.5px,#009316 445.5px,#009319 450.5px,#00955b 457.5px,#00945e 482px)"></i><i style="width:1px;background:linear-gradient(#00826e 0px,#00896c 27.5px,#009468 45.5px,#009428 107.5px,#009312 142.5px,#328207 182.5px,#009312 222.5px,#009428 258.5px,#009428 326.5px,#009312 334.5px,#517700 348.5px,#953c00 358.5px,#c40e00 368.5px,#cf0300 369.5px,#d20200 377.5px,#d92200 403.5px,#da2900 415.5px,#d82000 427.5px,#d40800 437.5px,#c70b00 438.5px,#983a00 439.5px,#5d6d00 440.5px,#358106 441.5px,#168c0d 442.5px,#009315 443.5px,#009317 448.5px,#009557 455.5px,#00955b 456.5px,#00945f 482px)"></i><i style="width:1px;background:linear-gradient(#00756f 0px,#007f6f 28.5px,#009468 60.5px,#009637 108.5px,#009312 164.5px,#188b0d 182.5px,#009312 205.5px,#00952e 258.5px,#00952e 326.5px,#009312 336.5px,#517700 350.5px,#953d00 360.5px,#c30f00 370.5px,#ce0400 371.5px,#d20100 378.5px,#d92100 404.5px,#da2600 415.5px,#d71b00 428.5px,#d50f00 434.5px,#cf0300 436.5px,#735a00 438.5px,#487b02 439.5px,#0a9010 441.5px,#009316 442.5px,#009317 447.5px,#00955a 454.5px,#00945f 482px)"></i><i style="width:1px;background:linear-gradient(#00716e 0px,#009468 73.5px,#009319 182.5px,#009532 257.5px,#009532 326.5px,#009312 338.5px,#517700 352.5px,#953d00 362.5px,#c30f00 372.5px,#ce0400 373.5px,#d20200 380.5px,#d82000 404.5px,#da2600 414.5px,#d81f00 425.5px,#d40900 434.5px,#ca0800 435.5px,#9d3500 436.5px,#656600 437.5px,#3b7f05 438.5px,#009313 440.5px,#00941b 446.5px,#00955b 453.5px,#00945f 482px)"></i><i style="width:1px;background:linear-gradient(#00716e 0px,#009468 102.5px,#00952e 183.5px,#00963d 257.5px,#00963d 324.5px,#009312 340.5px,#517700 354.5px,#953d00 364.5px,#c30f00 374.5px,#ce0400 375.5px,#d20200 382.5px,#d81f00 404.5px,#da2600 414.5px,#d81f00 424.5px,#d40800 433.5px,#c30f00 434.5px,#933f00 435.5px,#567300 436.5px,#108e0e 438.5px,#009315 439.5px,#009317 444.5px,#009559 451.5px,#00955b 452.5px,#00945f 482px)"></i><i style="width:1px;background:linear-gradient(#00716e 0px,#009468 124.5px,#00963b 183.5px,#00954d 257.5px,#00954e 310.5px,#00963f 326.5px,#009312 342.5px,#517700 356.5px,#953d00 366.5px,#c30f00 376.5px,#ce0400 377.5px,#d20100 383.5px,#d82000 405.5px,#da2600 414.5px,#d81e00 424.5px,#d40900 432.5px,#c80a00 433.5px,#9a3800 434.5px,#616900 435.5px,#388005 436.5px,#009315 438.5px,#00941c 444.5px,#009556 450.5px,#00955b 451.5px,#00945f 482px)"></i><i style="width:1px;background:linear-gradient(#00716e 0px,#007c70 27.5px,#00886c 107.5px,#009468 130.5px,#00963f 183.5px,#009558 257.5px,#009558 300.5px,#00963f 328.5px,#009312 344.5px,#517700 358.5px,#953d00 368.5px,#c30f00 378.5px,#ce0400 379.5px,#d20100 385.5px,#d82000 406.5px,#da2600 415.5px,#d81e00 424.5px,#d40900 432.5px,#c80a00 433.5px,#9a3800 434.5px,#616900 435.5px,#388005 436.5px,#009315 438.5px,#00941c 444.5px,#009556 450.5px,#00955b 451.5px,#00945f 482px)"></i><i style="width:1px;background:linear-gradient(#00716e 0px,#007c70 27.5px,#00886c 107.5px,#009468 132.5px,#009645 183.5px,#00955c 257.5px,#00955c 298.5px,#00963f 330.5px,#009312 346.5px,#507800 360.5px,#953d00 370.5px,#c30f00 380.5px,#ce0400 381.5px,#d20100 386.5px,#d81f00 406.5px,#da2600 415.5px,#d81e00 424.5px,#d40900 432.5px,#c80a00 433.5px,#9a3800 434.5px,#616900 435.5px,#388005 436.5px,#009315 438.5px,#00941c 444.5px,#009556 450.5px,#00955b 451.5px,#00945f 482px)"></i><i style="width:1px;background:linear-gradient(#00716e 0px,#007c70 27.5px,#00886c 107.5px,#009468 140.5px,#009551 183.5px,#00955c 300.5px,#00963f 332.5px,#009312 348.5px,#507800 362.5px,#943d00 372.5px,#c30f00 382.5px,#ce0400 383.5px,#d20100 388.5px,#d82000 407.5px,#d92500 415.5px,#d81e00 424.5px,#d40900 432.5px,#c80a00 433.5px,#9a3800 434.5px,#616900 435.5px,#388005 436.5px,#009315 438.5px,#00941c 444.5px,#009556 450.5px,#00955b 451.5px,#00945f 482px)"></i><i style="width:1px;background:linear-gradient(#00716e 0px,#007c70 27.5px,#009468 159.5px,#009460 183.5px,#00955c 301.5px,#00963f 333.5px,#009314 348.5px,#019312 349.5px,#527600 363.5px,#963c00 373.5px,#c40e00 383.5px,#ce0400 384.5px,#d20200 389.5px,#d82000 407.5px,#d92500 415.5px,#d81e00 424.5px,#d40900 432.5px,#c80a00 433.5px,#9a3800 434.5px,#616900 435.5px,#388005 436.5px,#009315 438.5px,#00941c 444.5px,#009556 450.5px,#00955b 451.5px,#00945f 482px)"></i><i style="width:21px;background:linear-gradient(#00716e 0px,#007d70 28.5px,#009468 197.5px,#00955c 257.5px,#00955c 301.5px,#00963f 333.5px,#009312 349.5px,#507800 363.5px,#943d00 373.5px,#c30f00 383.5px,#ce0400 384.5px,#d20100 389.5px,#d81e00 407.5px,#d92400 415.5px,#d71b00 425.5px,#d40900 432.5px,#c80a00 433.5px,#9a3800 434.5px,#616900 435.5px,#388005 436.5px,#009315 438.5px,#00941c 444.5px,#009556 450.5px,#00955b 451.5px,#00945f 482px)"></i><i style="width:3px;background:linear-gradient(#00716e 0px,#007d70 28.5px,#009368 191.5px,#00955c 257.5px,#00955c 301.5px,#00963f 333.5px,#009312 349.5px,#507800 363.5px,#943d00 373.5px,#c30f00 383.5px,#cd0500 384.5px,#d20100 389.5px,#d81d00 407.5px,#d92200 415.5px,#d71a00 425.5px,#d40900 432.5px,#c80a00 433.5px,#9a3800 434.5px,#616900 435.5px,#388005 436.5px,#009315 438.5px,#00941c 444.5px,#009556 450.5px,#00955b 451.5px,#00945f 482px)"></i><i style="width:1px;background:linear-gradient(#00716e 0px,#007d70 28.5px,#009468 164.5px,#00955c 301.5px,#00963f 333.5px,#009312 349.5px,#507800 363.5px,#943d00 373.5px,#c30f00 383.5px,#cd0500 384.5px,#d20100 389.5px,#d81c00 407.5px,#d92200 415.5px,#d71a00 425.5px,#d40900 432.5px,#c80a00 433.5px,#9a3800 434.5px,#616900 435.5px,#388005 436.5px,#009315 438.5px,#00941c 444.5px,#009556 450.5px,#00955b 451.5px,#00945f 482px)"></i><i style="width:1px;background:linear-gradient(#00716e 0px,#009468 126.5px,#009556 183.5px,#009559 304.5px,#00963f 333.5px,#009312 349.5px,#507800 363.5px,#943d00 373.5px,#c30f00 383.5px,#cd0500 384.5px,#d20100 389.5px,#d81c00 407.5px,#d92100 415.5px,#d71a00 425.5px,#d40900 432.5px,#c80a00 433.5px,#9a3800 434.5px,#616900 435.5px,#388005 436.5px,#009315 438.5px,#00941c 444.5px,#009556 450.5px,#00955b 451.5px,#00945f 482px)"></i><i style="width:1px;background:linear-gradient(#00716e 0px,#009468 94.5px,#009648 183.5px,#009550 314.5px,#00963f 333.5px,#009312 349.5px,#507800 363.5px,#943d00 373.5px,#c30f00 383.5px,#cd0500 384.5px,#d20100 389.5px,#d81c00 407.5px,#d92100 415.5px,#d71900 425.5px,#d40900 432.5px,#c80a00 433.5px,#9a3800 434.5px,#616900 435.5px,#388005 436.5px,#009315 438.5px,#00941c 444.5px,#009556 450.5px,#00955b 451.5px,#00945f 482px)"></i><i style="width:1px;background:linear-gradient(#00736f 0px,#009468 82.5px,#009557 108.5px,#009640 182.5px,#009642 329.5px,#00963f 333.5px,#009312 349.5px,#507800 363.5px,#943d00 373.5px,#c30f00 383.5px,#cd0500 384.5px,#d20100 389.5px,#d81c00 407.5px,#d92100 415.5px,#d71900 425.5px,#d40900 432.5px,#c80a00 433.5px,#9a3800 434.5px,#616900 435.5px,#388005 436.5px,#009315 438.5px,#00941c 444.5px,#009556 450.5px,#00955b 451.5px,#00945f 482px)"></i><i style="width:1px;background:linear-gradient(#00786f 0px,#009468 77.5px,#009554 108.5px,#00963e 183.5px,#009639 335.5px,#009312 349.5px,#507800 363.5px,#943d00 373.5px,#c30f00 383.5px,#cd0500 384.5px,#d20000 389.5px,#d81c00 407.5px,#d92100 415.5px,#d71900 425.5px,#d40900 432.5px,#c80a00 433.5px,#9a3800 434.5px,#616900 435.5px,#388005 436.5px,#009315 438.5px,#00941c 444.5px,#009556 450.5px,#00955b 451.5px,#00945f 482px)"></i><i style="width:1px;background:linear-gradient(#007e6f 0px,#009468 72.5px,#009554 108.5px,#00963d 183.5px,#009536 335.5px,#009312 348.5px,#507800 362.5px,#943e00 372.5px,#c30f00 382.5px,#cd0500 383.5px,#d20000 388.5px,#d81c00 407.5px,#d92100 415.5px,#d71900 425.5px,#d40900 432.5px,#c80a00 433.5px,#9a3800 434.5px,#616900 435.5px,#388005 436.5px,#009315 438.5px,#00941c 444.5px,#009556 450.5px,#00955b 451.5px,#00945f 482px)"></i><i style="width:1px;background:linear-gradient(#00816e 0px,#009468 67.5px,#00963b 183.5px,#009536 319.5px,#009312 332.5px,#507800 346.5px,#943d00 356.5px,#c30f00 366.5px,#cd0500 367.5px,#d20000 375.5px,#d71b00 402.5px,#d92100 414.5px,#d71b00 424.5px,#d40900 432.5px,#c80a00 433.5px,#9a3800 434.5px,#616900 435.5px,#388005 436.5px,#009315 438.5px,#00941c 444.5px,#009556 450.5px,#00955b 451.5px,#00945f 482px)"></i><i style="width:3px;background:linear-gradient(#00846d 0px,#009467 63.5px,#009536 183.5px,#009536 315.5px,#009312 328.5px,#507800 342.5px,#943d00 352.5px,#c30f00 362.5px,#cd0500 363.5px,#d20100 372.5px,#d71b00 401.5px,#d82000 414.5px,#d71a00 424.5px,#d40900 432.5px,#c80a00 433.5px,#9a3800 434.5px,#616900 435.5px,#388005 436.5px,#009315 438.5px,#00941c 444.5px,#009556 450.5px,#00955b 451.5px,#00945f 482px)"></i><i style="width:1px;background:linear-gradient(#00866d 0px,#009468 54.5px,#009536 183.5px,#009536 315.5px,#009312 328.5px,#507800 342.5px,#943d00 352.5px,#c30f00 362.5px,#cd0500 363.5px,#d20000 372.5px,#d82000 414.5px,#d71a00 424.5px,#d40900 432.5px,#c80a00 433.5px,#9a3800 434.5px,#616900 435.5px,#388005 436.5px,#009315 438.5px,#00941c 444.5px,#009556 450.5px,#00955b 451.5px,#00945f 482px)"></i><i style="width:1px;background:linear-gradient(#00866d 0px,#009468 52.5px,#009533 183.5px,#009536 319.5px,#009312 332.5px,#507800 346.5px,#943d00 356.5px,#c30f00 366.5px,#cd0500 367.5px,#d20100 375.5px,#d81c00 402.5px,#d92200 414.5px,#d71b00 424.5px,#d40800 432.5px,#c70b00 433.5px,#993900 434.5px,#5f6b00 435.5px,#378106 436.5px,#178b0d 437.5px,#009315 438.5px,#009317 443.5px,#009556 450.5px,#00955b 451.5px,#00945f 482px)"></i><i style="width:1px;background:linear-gradient(#00856d 0px,#009468 53.5px,#009530 182.5px,#009638 322.5px,#009314 335.5px,#537500 350.5px,#973b00 360.5px,#c50d00 370.5px,#ce0400 371.5px,#d20100 378.5px,#d81e00 403.5px,#d92500 414.5px,#d81d00 424.5px,#d40800 432.5px,#c60c00 433.5px,#973b00 434.5px,#5b6f00 435.5px,#338206 436.5px,#148c0e 437.5px,#009315 438.5px,#009317 443.5px,#009557 450.5px,#00955b 451.5px,#00945f 482px)"></i><i style="width:1px;background:linear-gradient(#00816e 0px,#009468 60.5px,#00954d 108.5px,#00952e 182.5px,#009640 257.5px,#009640 320.5px,#009314 336.5px,#537600 351.5px,#973b00 361.5px,#c50d00 371.5px,#cf0300 372.5px,#d20200 379.5px,#d92200 404.5px,#da2800 414.5px,#d81f00 424.5px,#d40800 432.5px,#c40e00 433.5px,#943e00 434.5px,#577200 435.5px,#108d0e 437.5px,#009315 438.5px,#009317 443.5px,#009558 450.5px,#00955b 451.5px,#009460 482px)"></i><i style="width:1px;background:linear-gradient(#007a70 0px,#009468 71.5px,#009550 108.5px,#00952f 182.5px,#00954c 257.5px,#00954c 307.5px,#00963f 321.5px,#009312 337.5px,#507800 351.5px,#943d00 361.5px,#c30f00 371.5px,#cf0300 372.5px,#d30300 380.5px,#d92500 404.5px,#db2b00 414.5px,#d92300 423.5px,#d40800 432.5px,#c21000 433.5px,#904100 434.5px,#537600 435.5px,#0d8f0f 437.5px,#009316 438.5px,#009317 443.5px,#009559 450.5px,#009460 482px)"></i><i style="width:1px;background:linear-gradient(#00746f 0px,#009468 86.5px,#009534 182.5px,#009556 257.5px,#009556 295.5px,#00963f 321.5px,#009314 336.5px,#019312 337.5px,#527600 351.5px,#963c00 361.5px,#c40e00 371.5px,#d00200 372.5px,#d30400 380.5px,#da2700 404.5px,#db2e00 414.5px,#d92300 424.5px,#d51000 430.5px,#d00200 432.5px,#735a00 434.5px,#487b02 435.5px,#0a9010 437.5px,#009316 438.5px,#009317 443.5px,#00955a 450.5px,#009460 482px)"></i><i style="width:1px;background:linear-gradient(#00716e 0px,#009468 114.5px,#009640 183.5px,#00955b 257.5px,#00955b 289.5px,#009640 320.5px,#009313 336.5px,#4e7900 350.5px,#983a00 361.5px,#c11100 370.5px,#d00200 371.5px,#d30500 380.5px,#da2900 403.5px,#dc3200 414.5px,#d92500 424.5px,#d40a00 431.5px,#ce0400 432.5px,#6f5d00 434.5px,#447c03 435.5px,#069111 437.5px,#009316 438.5px,#009318 443.5px,#00955b 450.5px,#009460 482px)"></i><i style="width:1px;background:linear-gradient(#00716e 0px,#009468 135.5px,#009550 183.5px,#00955c 288.5px,#00963f 320.5px,#009313 336.5px,#4f7800 350.5px,#943e00 360.5px,#c21000 370.5px,#d10100 371.5px,#d30600 380.5px,#db2d00 404.5px,#dc3400 414.5px,#da2a00 423.5px,#d40a00 431.5px,#cd0500 432.5px,#a03200 433.5px,#6b6100 434.5px,#417d03 435.5px,#039211 437.5px,#009319 443.5px,#00955b 450.5px,#009460 482px)"></i><i style="width:1px;background:linear-gradient(#00716e 0px,#007c70 27.5px,#009468 149.5px,#009559 183.5px,#00955c 287.5px,#00963f 319.5px,#009314 334.5px,#019312 335.5px,#527600 349.5px,#963c00 359.5px,#c40e00 369.5px,#d20000 370.5px,#d40900 381.5px,#dc3200 405.5px,#dd3700 414.5px,#db2c00 423.5px,#d40a00 431.5px,#cb0700 432.5px,#9e3400 433.5px,#676400 434.5px,#3d7e04 435.5px,#009312 437.5px,#00941a 443.5px,#00955a 450.5px,#00945f 482px)"></i><i style="width:1px;background:linear-gradient(#00716e 0px,#007c70 27.5px,#009468 153.5px,#00955c 183.5px,#00955c 284.5px,#00963f 316.5px,#009313 332.5px,#4f7800 346.5px,#933f00 356.5px,#c21000 366.5px,#d20000 367.5px,#d40a00 379.5px,#dc3300 403.5px,#dd3900 414.5px,#dc3100 422.5px,#d40a00 431.5px,#c90900 432.5px,#9c3600 433.5px,#636800 434.5px,#3a7f05 435.5px,#009314 437.5px,#00941b 443.5px,#009559 450.5px,#00945e 482px)"></i><i style="width:1px;background:linear-gradient(#00716e 0px,#007c70 27.5px,#009468 153.5px,#00955c 183.5px,#00955c 282.5px,#00963f 314.5px,#009314 329.5px,#019312 330.5px,#527600 344.5px,#963c00 354.5px,#c40e00 364.5px,#d20100 365.5px,#d40a00 377.5px,#dc3200 400.5px,#dd3b00 414.5px,#dc3000 426.5px,#d61600 434.5px,#d00200 437.5px,#735a00 439.5px,#487b02 440.5px,#0a9010 442.5px,#009316 443.5px,#009317 448.5px,#009558 455.5px,#00955c 482px)"></i><i style="width:1px;background:linear-gradient(#00716e 0px,#007c70 27.5px,#009468 153.5px,#00955c 183.5px,#00955c 279.5px,#00963f 311.5px,#009313 327.5px,#4f7800 341.5px,#933f00 351.5px,#c21000 361.5px,#d20100 362.5px,#d40b00 375.5px,#dc3300 399.5px,#dd3d00 414.5px,#dc3200 429.5px,#d81d00 437.5px,#d40900 442.5px,#c90900 443.5px,#9c3600 444.5px,#646700 445.5px,#3a7f05 446.5px,#009314 448.5px,#00941b 454.5px,#009557 461.5px,#00955b 482px)"></i><i style="width:1px;background:linear-gradient(#00716e 0px,#007c70 27.5px,#009468 153.5px,#00955c 183.5px,#00955c 277.5px,#00963f 309.5px,#009314 324.5px,#019312 325.5px,#527600 339.5px,#963c00 349.5px,#c40e00 359.5px,#d20100 360.5px,#d40b00 373.5px,#dc3400 398.5px,#de3f00 414.5px,#dc3100 430.5px,#d40a00 442.5px,#cc0600 443.5px,#9f3300 444.5px,#696300 445.5px,#3f7e04 446.5px,#019312 448.5px,#009419 454.5px,#009556 461.5px,#00955a 482px)"></i><i style="width:1px;background:linear-gradient(#00746f 0px,#007e6f 27.5px,#009468 153.5px,#00955c 183.5px,#00955c 274.5px,#00963f 306.5px,#009313 322.5px,#4f7800 336.5px,#933f00 346.5px,#c21000 356.5px,#d20100 357.5px,#d40b00 371.5px,#dc3600 398.5px,#de4000 414.5px,#dc3200 430.5px,#d40a00 442.5px,#ce0400 443.5px,#a23000 444.5px,#6e5e00 445.5px,#437c03 446.5px,#059111 448.5px,#009316 449.5px,#009318 454.5px,#009556 461.5px,#009559 482px)"></i><i style="width:1px;background:linear-gradient(#007e6f 0px,#009468 146.5px,#00955c 183.5px,#009557 275.5px,#00963f 302.5px,#009313 318.5px,#4f7800 332.5px,#933e00 342.5px,#c21000 352.5px,#d20100 353.5px,#d40c00 368.5px,#dc3600 396.5px,#de4100 414.5px,#dd3d00 423.5px,#dc3100 431.5px,#d61500 440.5px,#d00200 443.5px,#735a00 445.5px,#487b02 446.5px,#0a9010 448.5px,#009316 449.5px,#009317 454.5px,#009556 461.5px,#009559 482px)"></i><i style="width:1px;background:linear-gradient(#008c6b 0px,#009368 28.5px,#009464 107.5px,#009549 257.5px,#009549 286.5px,#00963e 297.5px,#009314 312.5px,#547500 327.5px,#973b00 337.5px,#c11100 346.5px,#d20100 347.5px,#d40b00 363.5px,#dd3700 395.5px,#de4200 414.5px,#de3e00 423.5px,#dc3200 431.5px,#d40800 443.5px,#c30f00 444.5px,#914000 445.5px,#547500 446.5px,#0e8e0f 448.5px,#009316 449.5px,#009317 454.5px,#009555 461.5px,#009559 482px)"></i><i style="width:1px;background:linear-gradient(#00955d 0px,#009551 28.5px,#00954c 108.5px,#009533 257.5px,#009533 295.5px,#009315 306.5px,#019312 307.5px,#527700 321.5px,#963c00 331.5px,#c40e00 341.5px,#d20200 342.5px,#d40c00 359.5px,#dd3800 393.5px,#de4300 414.5px,#de3f00 423.5px,#dc3300 431.5px,#d40800 443.5px,#c50d00 444.5px,#963c00 445.5px,#597000 446.5px,#328207 447.5px,#128d0e 448.5px,#009315 449.5px,#009317 454.5px,#009554 461.5px,#009556 462.5px,#009559 482px)"></i><i style="width:1px;background:linear-gradient(#00954e 0px,#009643 28.5px,#00963c 108.5px,#00941d 183.5px,#009424 287.5px,#009312 294.5px,#507800 308.5px,#943d00 318.5px,#c30f00 328.5px,#d20200 329.5px,#d40c00 349.5px,#dd3a00 390.5px,#de4500 414.5px,#de4000 423.5px,#dc3200 432.5px,#d40900 443.5px,#c70b00 444.5px,#993900 445.5px,#5e6c00 446.5px,#368106 447.5px,#168b0d 448.5px,#009315 449.5px,#009317 454.5px,#009552 461.5px,#009556 462.5px,#009559 482px)"></i><i style="width:1px;background:linear-gradient(#00954c 0px,#009641 28.5px,#009536 107.5px,#009312 169.5px,#0f8e0f 182.5px,#009312 211.5px,#00941f 258.5px,#00941f 279.5px,#009312 284.5px,#507800 298.5px,#943d00 308.5px,#c30f00 318.5px,#d20200 319.5px,#d40c00 341.5px,#dd3b00 387.5px,#de4600 414.5px,#de4200 423.5px,#dc3300 432.5px,#d40a00 443.5px,#cc0600 444.5px,#9f3300 445.5px,#696300 446.5px,#3f7e04 447.5px,#019312 449.5px,#009319 455.5px,#009556 462.5px,#009559 482px)"></i><i style="width:1px;background:linear-gradient(#009551 0px,#009645 28.5px,#009536 107.5px,#009312 173.5px,#099010 182.5px,#009312 203.5px,#00941f 258.5px,#00941f 279.5px,#009312 284.5px,#507800 298.5px,#943d00 308.5px,#c30f00 318.5px,#d20200 319.5px,#d50d00 341.5px,#dd3c00 388.5px,#df4700 414.5px,#de4300 423.5px,#dc3500 432.5px,#d40800 444.5px,#c30f00 445.5px,#914000 446.5px,#557400 447.5px,#0f8e0f 449.5px,#009316 450.5px,#009317 455.5px,#009555 462.5px,#009559 482px)"></i><i style="width:1px;background:linear-gradient(#009554 0px,#00941c 182.5px,#00941f 279.5px,#009312 284.5px,#507800 298.5px,#943d00 308.5px,#c30f00 318.5px,#d20200 319.5px,#d50d00 341.5px,#dd3d00 388.5px,#df4800 414.5px,#de4400 423.5px,#dd3600 432.5px,#d92400 438.5px,#d40900 444.5px,#ca0800 445.5px,#9c3600 446.5px,#646700 447.5px,#3b7f05 448.5px,#009313 450.5px,#00941a 456.5px,#009556 463.5px,#009559 482px)"></i><i style="width:1px;background:linear-gradient(#009554 0px,#009425 182.5px,#00941f 279.5px,#009312 284.5px,#507800 298.5px,#943d00 308.5px,#c30f00 318.5px,#d20200 319.5px,#d50d00 341.5px,#de3e00 388.5px,#df4a00 414.5px,#de4500 423.5px,#dd3700 432.5px,#da2600 438.5px,#d40800 445.5px,#c11100 446.5px,#8d4300 447.5px,#507800 448.5px,#0b8f10 450.5px,#009316 451.5px,#009317 456.5px,#009556 463.5px,#009559 482px)"></i><i style="width:1px;background:linear-gradient(#009554 0px,#009549 28.5px,#009427 182.5px,#00941f 289.5px,#009312 294.5px,#507800 308.5px,#943d00 318.5px,#c30f00 328.5px,#d20200 329.5px,#d50d00 348.5px,#de4000 391.5px,#df4b00 414.5px,#df4600 423.5px,#dd3900 432.5px,#da2800 438.5px,#d40900 445.5px,#c80a00 446.5px,#9a3800 447.5px,#606a00 448.5px,#378006 449.5px,#188b0d 450.5px,#009315 451.5px,#00941c 457.5px,#009552 463.5px,#009556 464.5px,#009559 482px)"></i><i style="width:1px;background:linear-gradient(#009554 0px,#009549 28.5px,#009427 182.5px,#00941f 295.5px,#009315 299.5px,#019312 300.5px,#527700 314.5px,#963c00 324.5px,#c40e00 334.5px,#d30300 335.5px,#d50e00 353.5px,#de4000 392.5px,#df4b00 414.5px,#df4600 424.5px,#dc3500 434.5px,#d71a00 442.5px,#ce0400 446.5px,#705d00 448.5px,#457c02 449.5px,#079110 451.5px,#009316 452.5px,#009318 457.5px,#009556 464.5px,#009559 482px)"></i><i style="width:1px;background:linear-gradient(#009554 0px,#009549 28.5px,#009427 182.5px,#00941f 297.5px,#009314 301.5px,#547500 316.5px,#973b00 326.5px,#c11100 335.5px,#d30300 336.5px,#d50d00 354.5px,#de4000 393.5px,#df4b00 414.5px,#df4600 424.5px,#dd3800 433.5px,#da2700 439.5px,#d40900 446.5px,#c60c00 447.5px,#973b00 448.5px,#5b6e00 449.5px,#348206 450.5px,#148c0e 451.5px,#009315 452.5px,#009317 457.5px,#009553 464.5px,#009556 465.5px,#009559 482px)"></i><i style="width:1px;background:linear-gradient(#009554 0px,#009549 28.5px,#009427 182.5px,#00941f 298.5px,#009313 303.5px,#4f7800 317.5px,#933e00 327.5px,#c21000 337.5px,#d30300 338.5px,#d50d00 355.5px,#de4000 393.5px,#df4b00 414.5px,#df4600 424.5px,#dd3700 434.5px,#d51000 445.5px,#cd0500 447.5px,#a03200 448.5px,#6b6100 449.5px,#417d03 450.5px,#039211 452.5px,#009319 458.5px,#009556 465.5px,#009559 482px)"></i><i style="width:1px;background:linear-gradient(#009554 0px,#009549 28.5px,#009427 182.5px,#00941f 299.5px,#009312 304.5px,#507800 318.5px,#943d00 328.5px,#c30f00 338.5px,#d30300 339.5px,#d50d00 356.5px,#de3f00 393.5px,#df4b00 414.5px,#df4700 424.5px,#dd3700 434.5px,#da2600 440.5px,#d40800 447.5px,#c40e00 448.5px,#943e00 449.5px,#577200 450.5px,#108d0e 452.5px,#009315 453.5px,#009317 458.5px,#009554 465.5px,#009559 482px)"></i><i style="width:1px;background:linear-gradient(#009553 0px,#009648 28.5px,#009427 182.5px,#00941f 299.5px,#009312 304.5px,#507800 318.5px,#943d00 328.5px,#c30f00 338.5px,#d30300 339.5px,#d50d00 356.5px,#de3f00 393.5px,#df4b00 414.5px,#df4700 424.5px,#dd3800 434.5px,#d92300 441.5px,#d40a00 447.5px,#cb0700 448.5px,#9e3400 449.5px,#676500 450.5px,#3d7e04 451.5px,#009312 453.5px,#00941a 459.5px,#009556 466.5px,#009559 482px)"></i><i style="width:1px;background:linear-gradient(#009551 0px,#009646 28.5px,#009427 182.5px,#00941f 299.5px,#009312 304.5px,#507800 318.5px,#943d00 328.5px,#c30f00 338.5px,#d30300 339.5px,#d50d00 356.5px,#de3f00 393.5px,#df4b00 414.5px,#df4700 424.5px,#dd3800 434.5px,#d92500 441.5px,#d40800 448.5px,#c21000 449.5px,#8f4200 450.5px,#527600 451.5px,#0d8f0f 453.5px,#009316 454.5px,#009317 459.5px,#009555 466.5px,#009559 482px)"></i><i style="width:1px;background:linear-gradient(#00954d 0px,#009642 28.5px,#009426 183.5px,#00941f 299.5px,#009312 304.5px,#507800 318.5px,#943d00 328.5px,#c30f00 338.5px,#d30300 339.5px,#d50d00 356.5px,#de3f00 393.5px,#df4b00 414.5px,#df4700 424.5px,#dd3900 434.5px,#da2600 441.5px,#d40900 448.5px,#c90900 449.5px,#9b3700 450.5px,#626800 451.5px,#398005 452.5px,#009314 454.5px,#00941b 460.5px,#009556 467.5px,#009559 482px)"></i><i style="width:1px;background:linear-gradient(#00954a 0px,#00963f 28.5px,#009426 183.5px,#00941f 299.5px,#009312 304.5px,#507800 318.5px,#943d00 328.5px,#c30f00 338.5px,#d30300 339.5px,#d50d00 356.5px,#de3f00 393.5px,#df4b00 414.5px,#df4600 425.5px,#dc3500 436.5px,#d71900 445.5px,#cf0300 449.5px,#725b00 451.5px,#477b02 452.5px,#099010 454.5px,#009316 455.5px,#009317 460.5px,#009556 467.5px,#009559 482px)"></i><i style="width:1px;background:linear-gradient(#009549 0px,#00963e 28.5px,#009536 107.5px,#009426 183.5px,#00941f 299.5px,#009312 304.5px,#507800 318.5px,#943d00 328.5px,#c30f00 338.5px,#d30300 339.5px,#d50d00 356.5px,#de3f00 393.5px,#df4b00 414.5px,#df4600 425.5px,#dd3800 435.5px,#d92500 442.5px,#d40900 449.5px,#c70b00 450.5px,#983a00 451.5px,#5e6c00 452.5px,#358106 453.5px,#168c0d 454.5px,#009315 455.5px,#009317 460.5px,#009553 467.5px,#009556 468.5px,#009559 482px)"></i><i style="width:1px;background:linear-gradient(#00954a 0px,#00963f 28.5px,#009426 183.5px,#00941f 299.5px,#009312 304.5px,#507800 318.5px,#943d00 328.5px,#c30f00 338.5px,#d30300 339.5px,#d50d00 356.5px,#de3f00 393.5px,#df4b00 414.5px,#df4600 425.5px,#dd3600 436.5px,#d51000 448.5px,#cd0500 450.5px,#a23000 451.5px,#6d5f00 452.5px,#437c03 453.5px,#059111 455.5px,#009316 456.5px,#009318 461.5px,#009556 468.5px,#009559 482px)"></i><i style="width:1px;background:linear-gradient(#00954d 0px,#009642 28.5px,#009424 182.5px,#00941f 283.5px,#009312 288.5px,#507800 302.5px,#943e00 312.5px,#c21000 322.5px,#d30300 323.5px,#d50e00 344.5px,#de4000 389.5px,#df4b00 414.5px,#df4600 425.5px,#dd3700 436.5px,#d92400 443.5px,#d40800 450.5px,#c50d00 451.5px,#963c00 452.5px,#597000 453.5px,#128d0e 455.5px,#009315 456.5px,#009317 461.5px,#009554 468.5px,#009558 482px)"></i><i style="width:1px;background:linear-gradient(#009551 0px,#009646 28.5px,#009536 108.5px,#00941c 182.5px,#00941f 274.5px,#009312 279.5px,#507800 293.5px,#943d00 303.5px,#c30f00 313.5px,#d30300 314.5px,#d50e00 337.5px,#de4000 387.5px,#df4b00 414.5px,#df4700 425.5px,#dd3700 436.5px,#d92500 443.5px,#d40900 450.5px,#cb0700 451.5px,#9e3400 452.5px,#676400 453.5px,#3d7e04 454.5px,#009312 456.5px,#00941a 462.5px,#009556 469.5px,#009558 482px)"></i><i style="width:1px;background:linear-gradient(#009553 0px,#009637 108.5px,#009314 182.5px,#00941f 274.5px,#009312 279.5px,#507800 293.5px,#943d00 303.5px,#c30f00 313.5px,#d30300 314.5px,#d50e00 337.5px,#de4000 387.5px,#df4b00 414.5px,#de4600 426.5px,#dc3400 438.5px,#d61500 448.5px,#d00200 451.5px,#735a00 453.5px,#487b02 454.5px,#0a9010 456.5px,#009316 457.5px,#009317 462.5px,#009556 469.5px,#009558 482px)"></i><i style="width:1px;background:linear-gradient(#009554 0px,#009549 28.5px,#00963b 107.5px,#009313 182.5px,#00941f 274.5px,#009312 279.5px,#507800 293.5px,#943d00 303.5px,#c30f00 313.5px,#d30300 314.5px,#d50e00 337.5px,#de4000 387.5px,#df4b00 414.5px,#df4700 425.5px,#dd3800 436.5px,#da2700 443.5px,#d40800 451.5px,#c60c00 452.5px,#973b00 453.5px,#5b6f00 454.5px,#338206 455.5px,#148c0e 456.5px,#009315 457.5px,#009317 462.5px,#009554 469.5px,#009557 470.5px,#009558 482px)"></i><i style="width:1px;background:linear-gradient(#009554 0px,#009549 28.5px,#009641 108.5px,#00941a 183.5px,#00941f 278.5px,#009312 283.5px,#517700 297.5px,#953d00 307.5px,#c30f00 317.5px,#d30300 318.5px,#d50e00 340.5px,#de4000 388.5px,#df4b00 414.5px,#df4700 425.5px,#dd3800 436.5px,#d92400 444.5px,#d40900 451.5px,#cb0700 452.5px,#9e3400 453.5px,#676400 454.5px,#3d7e04 455.5px,#009312 457.5px,#00941a 463.5px,#009557 470.5px,#009558 482px)"></i><i style="width:1px;background:linear-gradient(#009552 0px,#009647 28.5px,#009644 108.5px,#00941a 183.5px,#00941f 285.5px,#009313 290.5px,#4f7800 304.5px,#933e00 314.5px,#c21000 324.5px,#d30300 325.5px,#d50d00 345.5px,#de4000 390.5px,#df4b00 414.5px,#df4600 426.5px,#dc3500 438.5px,#d71800 448.5px,#d00200 452.5px,#735a00 454.5px,#487b02 455.5px,#0a9010 457.5px,#009316 458.5px,#009317 463.5px,#009556 470.5px,#009558 482px)"></i><i style="width:1px;background:linear-gradient(#009549 0px,#00963d 28.5px,#009536 107.5px,#009312 164.5px,#178b0d 182.5px,#009312 231.5px,#009318 258.5px,#009318 287.5px,#009314 289.5px,#537500 304.5px,#973b00 314.5px,#c50d00 324.5px,#d30300 325.5px,#d50e00 345.5px,#de3f00 389.5px,#df4b00 414.5px,#df4600 426.5px,#dd3700 437.5px,#d92300 445.5px,#d40800 452.5px,#c60c00 453.5px,#973b00 454.5px,#5b6f00 455.5px,#338206 456.5px,#148c0e 457.5px,#009315 458.5px,#009317 463.5px,#009554 470.5px,#009557 471.5px,#009558 482px)"></i><i style="width:1px;background:linear-gradient(#009532 0px,#009312 113.5px,#4f7800 167.5px,#696200 183.5px,#507800 204.5px,#1a8a0c 257.5px,#547500 265.5px,#933e00 272.5px,#d10100 282.5px,#d82000 293.5px,#d92400 327.5px,#df4b00 367.5px,#e15c00 414.5px,#d92400 450.5px,#d71b00 452.5px,#d40900 453.5px,#a92900 454.5px,#6a6200 455.5px,#3c7f04 456.5px,#009313 458.5px,#00941a 464.5px,#009557 471.5px,#009558 482px)"></i><i style="width:1px;background:linear-gradient(#009318 0px,#009312 13.5px,#0c8f0f 28.5px,#338206 107.5px,#507800 124.5px,#963c00 159.5px,#b51d00 182.5px,#953d00 214.5px,#557400 257.5px,#973b00 267.5px,#d10100 279.5px,#d82000 293.5px,#da2600 327.5px,#df4b00 367.5px,#e26300 414.5px,#dc3000 446.5px,#da2700 451.5px,#d82000 452.5px,#d50e00 453.5px,#b12100 454.5px,#725b00 455.5px,#437d03 456.5px,#049211 458.5px,#009319 464.5px,#009557 471.5px,#009558 482px)"></i><i style="width:1px;background:linear-gradient(#148c0e 0px,#2c8408 28.5px,#457c02 107.5px,#4f7800 112.5px,#963c00 142.5px,#d20000 180.5px,#d20000 187.5px,#963c00 244.5px,#824d00 257.5px,#d10100 276.5px,#d82000 293.5px,#da2600 327.5px,#df4b00 367.5px,#e36500 414.5px,#dc3100 447.5px,#d92200 452.5px,#d51100 453.5px,#b61c00 454.5px,#7a5400 455.5px,#497a02 456.5px,#0a9010 458.5px,#009316 459.5px,#009317 464.5px,#009557 471.5px,#009558 482px)"></i><i style="width:1px;background:linear-gradient(#278609 0px,#3f7e04 28.5px,#4e7900 109.5px,#973b00 136.5px,#d20000 169.5px,#d40c00 183.5px,#d20000 205.5px,#993900 257.5px,#d20000 274.5px,#d82000 293.5px,#da2600 327.5px,#df4b00 367.5px,#e36500 414.5px,#dc3100 447.5px,#da2600 452.5px,#d81e00 453.5px,#d40900 454.5px,#a23000 455.5px,#5c6e00 456.5px,#308307 457.5px,#108e0e 458.5px,#009315 459.5px,#009317 464.5px,#009555 471.5px,#009558 482px)"></i><i style="width:1px;background:linear-gradient(#4c7901 0px,#676400 28.5px,#804f00 107.5px,#973b00 116.5px,#d20000 149.5px,#d81f00 183.5px,#d20000 228.5px,#ab2700 257.5px,#d20000 271.5px,#d82000 293.5px,#da2600 327.5px,#df4b00 367.5px,#e36500 415.5px,#dc3200 447.5px,#da2700 452.5px,#d82000 453.5px,#d40b00 454.5px,#a72b00 455.5px,#646700 456.5px,#368106 457.5px,#168c0d 458.5px,#009315 459.5px,#009317 464.5px,#009553 471.5px,#009557 472.5px,#009558 482px)"></i><i style="width:1px;background:linear-gradient(#924000 0px,#a62c00 28.5px,#c60c00 107.5px,#d20000 114.5px,#dd3800 183.5px,#d20100 251.5px,#c90900 257.5px,#d20000 262.5px,#d82000 292.5px,#da2600 327.5px,#df4b00 367.5px,#e36500 414.5px,#dc3300 449.5px,#d81d00 458.5px,#d61600 459.5px,#d30400 460.5px,#a32f00 461.5px,#646700 462.5px,#398005 463.5px,#009315 465.5px,#009317 470.5px,#009552 477.5px,#009557 482px)"></i><i style="width:1px;background:linear-gradient(#b41e00 0px,#d20000 46.5px,#d61300 107.5px,#df4600 183.5px,#d40800 258.5px,#d82000 292.5px,#da2600 327.5px,#df4b00 367.5px,#e36500 414.5px,#de4600 442.5px,#dc3300 451.5px,#d40900 465.5px,#c70b00 466.5px,#9a3800 467.5px,#616a00 468.5px,#388005 469.5px,#009315 471.5px,#009317 476.5px,#009640 482px)"></i><i style="width:1px;background:linear-gradient(#af2300 0px,#d20000 45.5px,#df4b00 182.5px,#dc3200 219.5px,#d50e00 258.5px,#d82000 292.5px,#da2600 327.5px,#df4b00 367.5px,#e36500 414.5px,#df4a00 442.5px,#dc3300 452.5px,#d40b00 465.5px,#cb0700 466.5px,#9c3600 467.5px,#616900 468.5px,#388005 469.5px,#009315 471.5px,#009317 476.5px,#009640 482px)"></i><i style="width:1px;background:linear-gradient(#725b00 0px,#8e4300 27.5px,#d20000 74.5px,#dc3200 144.5px,#df4600 182.5px,#d50e00 258.5px,#d82000 292.5px,#da2600 327.5px,#df4b00 367.5px,#e36500 414.5px,#df4a00 443.5px,#dc3200 453.5px,#d40a00 465.5px,#ca0800 466.5px,#9b3700 467.5px,#616900 468.5px,#388005 469.5px,#009315 471.5px,#009317 476.5px,#009640 482px)"></i><i style="width:1px;background:linear-gradient(#118d0e 0px,#288609 27.5px,#507800 46.5px,#973b00 74.5px,#d20000 109.5px,#dd3800 182.5px,#d30700 258.5px,#d82000 292.5px,#da2600 327.5px,#df4b00 367.5px,#e36500 415.5px,#df4a00 443.5px,#dc3200 453.5px,#d30600 465.5px,#c21000 466.5px,#973b00 467.5px,#5f6b00 468.5px,#388005 469.5px,#009315 471.5px,#009317 476.5px,#009640 482px)"></i><i style="width:1px;background:linear-gradient(#009428 0px,#019312 40.5px,#517700 85.5px,#973b00 117.5px,#d10100 152.5px,#d71900 183.5px,#d20000 232.5px,#b91900 257.5px,#d20100 268.5px,#d82000 293.5px,#da2600 327.5px,#df4b00 367.5px,#e36500 414.5px,#df4a00 443.5px,#dc3200 453.5px,#d71900 459.5px,#d30600 460.5px,#a42e00 461.5px,#656600 462.5px,#398005 463.5px,#009315 465.5px,#009317 470.5px,#009552 477.5px,#009557 482px)"></i><i style="width:1px;background:linear-gradient(#009532 0px,#019312 65.5px,#308307 107.5px,#507800 124.5px,#963c00 155.5px,#bf1300 182.5px,#963c00 229.5px,#715c00 257.5px,#983a00 264.5px,#d20100 278.5px,#d82000 293.5px,#da2600 327.5px,#df4b00 367.5px,#e36500 414.5px,#df4c00 442.5px,#dd3700 451.5px,#da2a00 453.5px,#d61300 454.5px,#b02200 455.5px,#6a6200 456.5px,#398005 457.5px,#198b0c 458.5px,#009315 459.5px,#00941b 465.5px,#009557 472.5px,#009558 482px)"></i><i style="width:1px;background:linear-gradient(#009532 0px,#039211 107.5px,#517800 157.5px,#7f5000 183.5px,#507800 220.5px,#288509 257.5px,#507800 263.5px,#943d00 271.5px,#d20100 282.5px,#d82000 293.5px,#da2600 327.5px,#df4b00 367.5px,#e36500 414.5px,#df4c00 442.5px,#dd3700 451.5px,#da2a00 453.5px,#d61300 454.5px,#b02200 455.5px,#6a6200 456.5px,#398005 457.5px,#198b0c 458.5px,#009315 459.5px,#00941b 465.5px,#009557 472.5px,#009558 482px)"></i><i style="width:1px;background:linear-gradient(#009532 0px,#009312 116.5px,#537500 183.5px,#099010 257.5px,#0d8f0f 258.5px,#4e7900 266.5px,#993900 274.5px,#d20100 283.5px,#d82000 293.5px,#da2600 327.5px,#df4b00 367.5px,#e36500 414.5px,#df4c00 442.5px,#dd3700 451.5px,#da2a00 453.5px,#d61300 454.5px,#b02200 455.5px,#6a6200 456.5px,#398005 457.5px,#198b0c 458.5px,#009315 459.5px,#00941b 465.5px,#009557 472.5px,#009558 482px)"></i><i style="width:1px;background:linear-gradient(#009532 0px,#009426 28.5px,#009312 120.5px,#3a8005 183.5px,#059111 257.5px,#099010 258.5px,#547500 267.5px,#983a00 274.5px,#d20100 283.5px,#d82000 293.5px,#da2600 327.5px,#df4b00 367.5px,#e36500 414.5px,#df4c00 442.5px,#dd3700 451.5px,#da2a00 453.5px,#d61300 454.5px,#b02200 455.5px,#6a6200 456.5px,#398005 457.5px,#198b0c 458.5px,#009315 459.5px,#00941b 465.5px,#009557 472.5px,#009558 482px)"></i><i style="width:1px;background:linear-gradient(#009532 0px,#009426 28.5px,#009312 125.5px,#20880b 183.5px,#079111 257.5px,#4c7901 266.5px,#983a00 274.5px,#d20100 283.5px,#d82000 293.5px,#da2600 327.5px,#df4b00 367.5px,#e36500 414.5px,#df4c00 442.5px,#dd3700 451.5px,#da2a00 453.5px,#d61300 454.5px,#b02200 455.5px,#6a6200 456.5px,#398005 457.5px,#198b0c 458.5px,#009315 459.5px,#00941b 465.5px,#009557 472.5px,#009558 482px)"></i><i style="width:1px;background:linear-gradient(#009532 0px,#009314 108.5px,#0d8f0f 183.5px,#069111 257.5px,#4c7901 266.5px,#983a00 274.5px,#d20100 283.5px,#d82000 293.5px,#da2600 327.5px,#df4b00 367.5px,#e36500 414.5px,#df4c00 442.5px,#dd3700 451.5px,#da2a00 453.5px,#d61300 454.5px,#b02200 455.5px,#6a6200 456.5px,#398005 457.5px,#198b0c 458.5px,#009315 459.5px,#00941b 465.5px,#009557 472.5px,#009558 482px)"></i><i style="width:1px;background:linear-gradient(#009532 0px,#009312 84.5px,#108d0e 107.5px,#069111 183.5px,#0e8e0f 257.5px,#517700 266.5px,#923f00 273.5px,#d20000 283.5px,#d81e00 293.5px,#d92500 327.5px,#df4900 367.5px,#e26300 414.5px,#df4900 442.5px,#dd3600 451.5px,#da2a00 453.5px,#d61300 454.5px,#b12100 455.5px,#6a6200 456.5px,#398005 457.5px,#198b0c 458.5px,#009315 459.5px,#00941b 465.5px,#009557 472.5px,#009558 482px)"></i><i style="width:1px;background:linear-gradient(#009532 0px,#009312 64.5px,#328207 108.5px,#079110 182.5px,#25870a 257.5px,#517700 264.5px,#983a00 273.5px,#d20100 284.5px,#d71800 293.5px,#d82000 327.5px,#de4300 367.5px,#e15c00 414.5px,#de4200 442.5px,#dc3200 453.5px,#d92100 462.5px,#d20000 466.5px,#9d3500 469.5px,#527700 472.5px,#25870a 474.5px,#1a8a0c 475.5px,#1a8a0c 482px)"></i><i style="width:1px;background:linear-gradient(#009532 0px,#009312 58.5px,#437c03 108.5px,#0c8f0f 183.5px,#477b02 257.5px,#507800 259.5px,#983a00 270.5px,#d20000 283.5px,#d61600 293.5px,#d92200 327.5px,#de4400 367.5px,#e25d00 414.5px,#db2e00 462.5px,#d20000 468.5px,#904100 472.5px,#606a00 474.5px,#547500 475.5px,#547500 482px)"></i><i style="width:1px;background:linear-gradient(#009532 0px,#009312 63.5px,#348206 108.5px,#1b8a0c 183.5px,#507800 241.5px,#616a00 257.5px,#973b00 265.5px,#d10100 277.5px,#d92500 293.5px,#dd3700 328.5px,#e15b00 368.5px,#e67900 414.5px,#dc3300 463.5px,#d30500 469.5px,#cd0500 470.5px,#8c4400 474.5px,#814e00 475.5px,#814e00 482px)"></i><i style="width:1px;background:linear-gradient(#009428 0px,#009312 58.5px,#22880a 108.5px,#3c7f05 182.5px,#507800 215.5px,#6d5f00 257.5px,#973b00 262.5px,#d00200 271.5px,#de3e00 292.5px,#e05400 328.5px,#e98a00 368.5px,#efaa00 414.5px,#e67a00 443.5px,#dc3500 463.5px,#d20200 470.5px,#9a3800 474.5px,#904100 475.5px,#904100 482px)"></i><i style="width:1px;background:linear-gradient(#118d0e 0px,#288509 28.5px,#2f8307 108.5px,#507800 149.5px,#6f5d00 183.5px,#894700 257.5px,#d00200 267.5px,#dc3300 282.5px,#e05000 293.5px,#e46a00 328.5px,#efab00 368.5px,#f5cd00 414.5px,#eb9800 443.5px,#dc3500 463.5px,#d30400 470.5px,#cc0600 471.5px,#a13100 474.5px,#9a3800 475.5px,#9a3800 482px)"></i><i style="width:1px;background:linear-gradient(#725b00 0px,#8e4300 28.5px,#686300 108.5px,#963c00 153.5px,#a92900 182.5px,#bb1700 257.5px,#d00200 261.5px,#dc3300 278.5px,#e05500 293.5px,#e57200 328.5px,#f1b600 368.5px,#f8db00 414.5px,#eea500 442.5px,#d10100 472.5px,#b91900 474.5px,#b31f00 475.5px,#b31f00 482px)"></i><i style="width:1px;background:linear-gradient(#a82a00 0px,#bb1700 28.5px,#b02200 108.5px,#d20000 163.5px,#d61300 257.5px,#e05400 292.5px,#e57200 328.5px,#f1b500 367.5px,#f8db00 414.5px,#eea500 442.5px,#e15800 456.5px,#d30500 474.5px,#d30300 482px)"></i><i style="width:1px;background:linear-gradient(#ac2600 0px,#bf1300 28.5px,#d20000 111.5px,#da2800 183.5px,#da2700 257.5px,#e05400 292.5px,#e57200 328.5px,#f1b600 368.5px,#f8db00 414.5px,#eea500 442.5px,#dd3a00 462.5px,#d51100 474.5px,#d50f00 482px)"></i><i style="width:1px;background:linear-gradient(#a52d00 0px,#b81a00 28.5px,#d20000 100.5px,#d20200 108.5px,#de4500 182.5px,#db2d00 257.5px,#e05500 292.5px,#e57000 327.5px,#f1b600 368.5px,#f8db00 414.5px,#eea500 442.5px,#dd3a00 462.5px,#d61500 474.5px,#d61300 482px)"></i><i style="width:1px;background:linear-gradient(#b31f00 0px,#c60c00 28.5px,#d20000 75.5px,#d30400 107.5px,#dc3200 145.5px,#e05500 183.5px,#db2e00 258.5px,#e05500 292.5px,#e57000 327.5px,#f1b600 368.5px,#f8db00 414.5px,#eea500 442.5px,#dd3a00 462.5px,#d61500 474.5px,#d61300 482px)"></i><i style="width:1px;background:linear-gradient(#c40e00 0px,#d20000 20.5px,#d51100 107.5px,#dc3200 137.5px,#e15a00 183.5px,#db2e00 258.5px,#e05500 292.5px,#e57000 327.5px,#f1b600 368.5px,#f8db00 414.5px,#eea500 442.5px,#dd3a00 462.5px,#d61500 474.5px,#d61300 482px)"></i><i style="width:1px;background:linear-gradient(#be1400 0px,#d20000 29.5px,#d71b00 107.5px,#e15a00 182.5px,#db2e00 258.5px,#e05500 292.5px,#e57000 327.5px,#f1b600 368.5px,#f8db00 414.5px,#eea500 442.5px,#dd3a00 462.5px,#d61500 474.5px,#d61300 482px)"></i><i style="width:1px;background:linear-gradient(#933f00 0px,#a72b00 28.5px,#d20000 60.5px,#e15a00 182.5px,#db2e00 258.5px,#e05500 292.5px,#e57000 327.5px,#f1b600 368.5px,#f8db00 414.5px,#eea500 442.5px,#dd3a00 462.5px,#d61500 474.5px,#d61300 482px)"></i><i style="width:1px;background:linear-gradient(#358106 0px,#517700 29.5px,#953d00 51.5px,#d20000 80.5px,#dc3200 131.5px,#e15600 182.5px,#db2b00 258.5px,#e05500 292.5px,#e57200 328.5px,#f1b600 368.5px,#f8db00 414.5px,#eea500 442.5px,#dd3a00 462.5px,#d61500 474.5px,#d61300 482px)"></i><i style="width:1px;background:linear-gradient(#009316 0px,#009312 9.5px,#108e0e 27.5px,#507800 49.5px,#973b00 69.5px,#d20000 94.5px,#dc3100 146.5px,#df4900 182.5px,#d92200 258.5px,#e05400 292.5px,#e57200 328.5px,#f1b600 368.5px,#f8db00 414.5px,#eea500 442.5px,#dd3a00 462.5px,#d61500 474.5px,#d61300 482px)"></i><i style="width:1px;background:linear-gradient(#009421 0px,#029212 31.5px,#517700 61.5px,#963c00 83.5px,#d10100 113.5px,#dc3200 182.5px,#d61300 257.5px,#e05400 292.5px,#e57200 328.5px,#f1b500 367.5px,#f8db00 414.5px,#eea500 442.5px,#dd3a00 462.5px,#d61500 474.5px,#d61300 482px)"></i><i style="width:1px;background:linear-gradient(#009422 0px,#009312 32.5px,#507800 70.5px,#963c00 98.5px,#d20000 144.5px,#d71700 183.5px,#d40a00 257.5px,#dc3200 274.5px,#e05400 292.5px,#e57200 328.5px,#f1b600 368.5px,#f8db00 414.5px,#eea500 442.5px,#dd3a00 462.5px,#d61500 474.5px,#d61300 482px)"></i><i style="width:1px;background:linear-gradient(#009422 0px,#019312 33.5px,#507800 76.5px,#963c00 108.5px,#d10100 164.5px,#d40900 183.5px,#d30700 257.5px,#dc3300 275.5px,#e05400 292.5px,#e57200 328.5px,#f1b600 368.5px,#f8db00 414.5px,#eea500 442.5px,#dd3a00 462.5px,#d61500 474.5px,#d61300 482px)"></i><i style="width:1px;background:linear-gradient(#009422 0px,#009312 33.5px,#4f7800 78.5px,#953d00 113.5px,#d20000 170.5px,#d30600 183.5px,#d30600 257.5px,#dc3300 275.5px,#e05400 292.5px,#e57200 328.5px,#f1b600 368.5px,#f8db00 414.5px,#eea500 442.5px,#dd3a00 462.5px,#d61500 474.5px,#d61300 482px)"></i><i style="width:1px;background:linear-gradient(#009313 0px,#178b0d 28.5px,#507800 70.5px,#963c00 114.5px,#d20000 170.5px,#d30700 183.5px,#d30600 257.5px,#dc3300 275.5px,#e05400 292.5px,#e57200 328.5px,#f1b600 368.5px,#f8db00 414.5px,#eea500 442.5px,#dd3a00 462.5px,#d61500 474.5px,#d61300 482px)"></i><i style="width:1px;background:linear-gradient(#626900 0px,#7e5100 28.5px,#9a3800 107.5px,#d20000 156.5px,#d50f00 183.5px,#d30600 257.5px,#dc3300 275.5px,#e05400 292.5px,#e57200 328.5px,#f1b600 368.5px,#f8db00 414.5px,#eea500 442.5px,#dd3a00 462.5px,#d61500 474.5px,#d61300 482px)"></i><i style="width:1px;background:linear-gradient(#d30600 0px,#d51000 28.5px,#d20000 84.5px,#c50d00 107.5px,#d20000 117.5px,#dc3000 183.5px,#d30700 257.5px,#dc3100 274.5px,#e05500 292.5px,#e57200 328.5px,#f1b500 368.5px,#f7d900 414.5px,#eea400 442.5px,#dd3b00 462.5px,#d61400 474.5px,#d61200 482px)"></i><i style="width:1px;background:linear-gradient(#da2a00 0px,#dc3300 28.5px,#d71800 107.5px,#dc3200 132.5px,#e15c00 183.5px,#dc3300 228.5px,#d51000 257.5px,#dc3200 271.5px,#e15d00 293.5px,#e57100 327.5px,#f1b700 368.5px,#f7d700 414.5px,#eea400 442.5px,#dd3c00 463.5px,#d61300 474.5px,#d51100 482px)"></i><i style="width:1px;background:linear-gradient(#dd3a00 0px,#de4100 28.5px,#dd3a00 107.5px,#e98c00 182.5px,#da2600 257.5px,#e57000 293.5px,#e57300 327.5px,#f2bf00 368.5px,#f8dd00 414.5px,#efab00 442.5px,#e15700 459.5px,#d71800 474.5px,#d61500 482px)"></i><i style="width:1px;background:linear-gradient(#df4a00 0px,#e05100 28.5px,#e05100 108.5px,#eea400 182.5px,#de4300 258.5px,#e98800 292.5px,#e77d00 327.5px,#f6d000 368.5px,#fbed00 414.5px,#f2bc00 442.5px,#d92300 474.5px,#d92100 482px)"></i><i style="width:1px;background:linear-gradient(#e05500 0px,#e46b00 107.5px,#efaa00 182.5px,#e15900 258.5px,#eb9900 292.5px,#ea9200 328.5px,#f8de00 368.5px,#fefa00 414.5px,#f4c900 442.5px,#e15b00 463.5px,#db2c00 474.5px,#da2900 482px)"></i><i style="width:1px;background:linear-gradient(#df4700 0px,#e04f00 28.5px,#e67500 107.5px,#eea700 182.5px,#e36900 258.5px,#eb9700 293.5px,#eea400 328.5px,#f9e300 368.5px,#ffff00 414.5px,#f5ce00 442.5px,#e05200 463.5px,#db2d00 474.5px,#db2b00 482px)"></i><i style="width:1px;background:linear-gradient(#d61600 0px,#d82000 28.5px,#ec9900 182.5px,#e36700 258.5px,#ed9f00 327.5px,#f9e300 368.5px,#ffff00 414.5px,#f5ce00 442.5px,#de4600 462.5px,#da2600 474.5px,#d92400 482px)"></i><i style="width:1px;background:linear-gradient(#5f6b00 0px,#7b5300 27.5px,#963c00 35.5px,#d20000 60.5px,#dc3200 101.5px,#e67700 182.5px,#e05500 257.5px,#e15c00 292.5px,#e98a00 328.5px,#f8dc00 368.5px,#fef900 414.5px,#f4c800 442.5px,#dd3a00 462.5px,#d81c00 474.5px,#d71b00 482px)"></i><i style="width:1px;background:linear-gradient(#00941a 0px,#009312 18.5px,#079110 27.5px,#507800 54.5px,#963c00 76.5px,#d20100 104.5px,#dc3200 152.5px,#df4a00 182.5px,#de3f00 257.5px,#df4900 293.5px,#e67600 327.5px,#f4ca00 367.5px,#fbe900 414.5px,#f1b800 442.5px,#dc3600 462.5px,#d61600 474.5px,#d61500 482px)"></i><i style="width:1px;background:linear-gradient(#00952a 0px,#00941f 27.5px,#009312 39.5px,#507800 75.5px,#973b00 102.5px,#d20000 140.5px,#d82000 183.5px,#d92100 258.5px,#e15a00 312.5px,#f1b700 368.5px,#f7d600 414.5px,#eda300 442.5px,#dc3500 462.5px,#d61400 474.5px,#d61300 482px)"></i><i style="width:1px;background:linear-gradient(#00952a 0px,#00941f 27.5px,#009312 40.5px,#4f7800 80.5px,#914000 108.5px,#d10100 169.5px,#d30700 183.5px,#d40900 257.5px,#dc3200 281.5px,#efab00 367.5px,#f5cf00 414.5px,#ec9900 442.5px,#dc3500 462.5px,#d61500 474.5px,#d61300 482px)"></i><i style="width:1px;background:linear-gradient(#009528 0px,#00941d 27.5px,#019312 39.5px,#4f7800 79.5px,#923f00 108.5px,#d00200 182.5px,#d20000 257.5px,#de4200 292.5px,#eea800 367.5px,#f6d100 414.5px,#eb9800 442.5px,#dc3500 462.5px,#d61500 474.5px,#d61300 482px)"></i><i style="width:1px;background:linear-gradient(#009318 0px,#009312 14.5px,#0b8f10 27.5px,#517800 64.5px,#963c00 95.5px,#a92900 108.5px,#d20000 176.5px,#d20000 257.5px,#dc3100 279.5px,#df4a00 293.5px,#eea900 367.5px,#f6d400 414.5px,#ec9a00 442.5px,#dc3500 462.5px,#d61500 474.5px,#d61300 482px)"></i><i style="width:1px;background:linear-gradient(#467b02 0px,#606a00 27.5px,#963c00 52.5px,#d20000 93.5px,#d40b00 108.5px,#d61500 182.5px,#d40800 257.5px,#dc3300 274.5px,#e15900 293.5px,#efaf00 367.5px,#f6d300 414.5px,#ec9a00 442.5px,#dc3500 462.5px,#d61500 474.5px,#d61300 482px)"></i><i style="width:1px;background:linear-gradient(#b61c00 0px,#d20100 34.5px,#dd3600 107.5px,#dd3a00 182.5px,#d81f00 257.5px,#e57000 293.5px,#f2bb00 367.5px,#f6d200 414.5px,#ec9a00 442.5px,#dc3500 462.5px,#d61500 474.5px,#d61300 482px)"></i><i style="width:1px;background:linear-gradient(#d50e00 0px,#d71800 28.5px,#df4d00 107.5px,#e15c00 182.5px,#dd3e00 257.5px,#e77e00 293.5px,#f3c300 367.5px,#f5cf00 414.5px,#ec9a00 442.5px,#dc3500 462.5px,#d61500 474.5px,#d61300 482px)"></i><i style="width:1px;background:linear-gradient(#d71700 0px,#d82000 28.5px,#e05500 107.5px,#e57100 182.5px,#e05000 258.5px,#e88200 293.5px,#f4c700 367.5px,#f5cd00 414.5px,#ec9a00 442.5px,#dc3500 462.5px,#d61500 474.5px,#d61300 482px)"></i><i style="width:1px;background:linear-gradient(#d50e00 0px,#d71800 28.5px,#e05000 107.5px,#e57100 182.5px,#e05200 258.5px,#e77c00 292.5px,#ec9a00 328.5px,#f4c700 367.5px,#f5cd00 414.5px,#ec9a00 442.5px,#dc3500 462.5px,#d61500 474.5px,#d61300 482px)"></i><i style="width:1px;background:linear-gradient(#b91900 0px,#d20100 32.5px,#dd3e00 107.5px,#e15c00 182.5px,#de4400 258.5px,#e46c00 293.5px,#e88700 328.5px,#f4c700 368.5px,#f5cd00 414.5px,#ec9a00 442.5px,#dc3500 462.5px,#d61500 474.5px,#d61300 482px)"></i><i style="width:1px;background:linear-gradient(#4b7a01 0px,#656600 27.5px,#963c00 48.5px,#d20000 85.5px,#d61300 108.5px,#dd3a00 182.5px,#da2800 258.5px,#e05000 292.5px,#e36600 327.5px,#f4c700 368.5px,#f5cd00 414.5px,#ec9a00 442.5px,#dc3500 462.5px,#d61500 474.5px,#d61300 482px)"></i><i style="width:1px;background:linear-gradient(#009317 0px,#009312 11.5px,#0e8e0f 27.5px,#507800 70.5px,#963c00 108.5px,#d20000 156.5px,#d51100 183.5px,#d40800 257.5px,#dd3a00 292.5px,#e04f00 328.5px,#f4c700 368.5px,#f5cd00 414.5px,#ec9a00 442.5px,#dc3500 462.5px,#d61500 474.5px,#d61300 482px)"></i><i style="width:1px;background:linear-gradient(#009428 0px,#019312 46.5px,#4f7800 112.5px,#963c00 148.5px,#c40e00 182.5px,#c01200 257.5px,#d20000 263.5px,#dc3000 293.5px,#de4500 328.5px,#f3c300 368.5px,#f5cd00 414.5px,#ec9a00 442.5px,#dc3500 462.5px,#d51100 474.5px,#d50f00 482px)"></i><i style="width:1px;background:linear-gradient(#00952a 0px,#009312 53.5px,#368106 107.5px,#4f7800 122.5px,#963c00 157.5px,#b81a00 182.5px,#b22000 257.5px,#d20000 267.5px,#db2d00 293.5px,#de4300 328.5px,#f1b700 368.5px,#f5cd00 414.5px,#ec9a00 442.5px,#e05600 455.5px,#d30500 474.5px,#d30300 482px)"></i><i style="width:1px;background:linear-gradient(#00952a 0px,#009312 54.5px,#338207 107.5px,#507800 125.5px,#963c00 161.5px,#b22000 182.5px,#9f3300 257.5px,#d10100 270.5px,#db2d00 293.5px,#de4300 328.5px,#eea400 368.5px,#f5cd00 414.5px,#ec9a00 442.5px,#d30400 471.5px,#cf0300 472.5px,#b31f00 475.5px,#b31f00 482px)"></i><i style="width:1px;background:linear-gradient(#009426 0px,#009312 48.5px,#318307 107.5px,#517700 130.5px,#963c00 172.5px,#a13100 182.5px,#7d5200 257.5px,#9a3800 262.5px,#d20100 274.5px,#db2d00 293.5px,#de4300 328.5px,#eb9800 368.5px,#f5cc00 414.5px,#ec9a00 442.5px,#dc3000 463.5px,#d20200 470.5px,#a13100 474.5px,#9a3800 475.5px,#9a3800 482px)"></i><i style="width:1px;background:linear-gradient(#009315 0px,#388005 107.5px,#4f7800 133.5px,#834c00 182.5px,#6a6200 257.5px,#993900 264.5px,#d00200 275.5px,#db2b00 293.5px,#de4000 328.5px,#eb9400 368.5px,#f5cc00 414.5px,#ec9a00 442.5px,#dc3500 462.5px,#d00200 470.5px,#993900 474.5px,#904100 475.5px,#904100 482px)"></i><i style="width:1px;background:linear-gradient(#3d7e04 0px,#567300 28.5px,#4c7901 108.5px,#795500 183.5px,#745900 257.5px,#973b00 263.5px,#d10100 276.5px,#d92500 293.5px,#dd3900 328.5px,#eb9400 368.5px,#f5cc00 414.5px,#ec9a00 442.5px,#dc3500 462.5px,#d00200 470.5px,#993900 474.5px,#904100 475.5px,#904100 482px)"></i><i style="width:1px;background:linear-gradient(#8a4600 0px,#a03200 28.5px,#686300 108.5px,#973b00 182.5px,#993900 257.5px,#d20100 276.5px,#d81c00 293.5px,#db2c00 327.5px,#ea9300 368.5px,#f5cc00 414.5px,#ec9a00 442.5px,#dc3000 463.5px,#d20200 470.5px,#a13100 474.5px,#9a3800 475.5px,#9a3800 482px)"></i><i style="width:1px;background:linear-gradient(#ab2700 0px,#be1400 28.5px,#914000 108.5px,#c30f00 182.5px,#be1400 257.5px,#d20000 269.5px,#d61500 293.5px,#d92300 327.5px,#ea9300 368.5px,#f5cc00 414.5px,#ec9a00 442.5px,#d30400 471.5px,#cf0300 472.5px,#b31f00 475.5px,#b31f00 482px)"></i><i style="width:1px;background:linear-gradient(#a32f00 0px,#b61c00 28.5px,#ba1800 107.5px,#d20000 147.5px,#d40b00 183.5px,#d30300 258.5px,#d92200 327.5px,#eb9500 368.5px,#f5cc00 414.5px,#ec9a00 442.5px,#e05600 455.5px,#d30500 474.5px,#d30300 482px)"></i><i style="width:1px;background:linear-gradient(#666500 0px,#973b00 46.5px,#c60c00 107.5px,#d20000 130.5px,#d50e00 183.5px,#d30600 257.5px,#db2b00 327.5px,#ec9d00 368.5px,#f5cc00 414.5px,#ec9a00 442.5px,#dc3500 462.5px,#d51100 474.5px,#d50f00 482px)"></i><i style="width:1px;background:linear-gradient(#0f8e0f 0px,#278609 27.5px,#507800 55.5px,#963c00 95.5px,#a52d00 108.5px,#d10100 183.5px,#d20200 257.5px,#da2900 293.5px,#dd3900 327.5px,#e15900 341.5px,#eda300 368.5px,#f5cd00 414.5px,#ec9a00 442.5px,#dc3500 462.5px,#d61500 474.5px,#d61300 482px)"></i><i style="width:1px;background:linear-gradient(#009424 0px,#009312 38.5px,#507800 108.5px,#963c00 158.5px,#ad2500 182.5px,#be1400 257.5px,#d10100 263.5px,#dc3300 292.5px,#de4600 328.5px,#eea500 368.5px,#f5cd00 414.5px,#ec9a00 442.5px,#dc3500 462.5px,#d51100 474.5px,#d50f00 482px)"></i><i style="width:1px;background:linear-gradient(#00952b 0px,#009312 64.5px,#20880b 107.5px,#507800 140.5px,#973b00 182.5px,#993900 257.5px,#d10100 269.5px,#dd3600 292.5px,#df4b00 328.5px,#eea500 368.5px,#f5cd00 414.5px,#ec9a00 442.5px,#e05600 455.5px,#d30500 474.5px,#d30300 482px)"></i><i style="width:1px;background:linear-gradient(#009426 0px,#009312 63.5px,#148c0d 107.5px,#507800 146.5px,#923f00 183.5px,#775700 257.5px,#9a3800 262.5px,#d20000 272.5px,#dd3700 292.5px,#df4c00 328.5px,#eea500 368.5px,#f5cd00 414.5px,#ec9a00 442.5px,#d30400 471.5px,#cf0300 472.5px,#b31f00 475.5px,#b31f00 482px)"></i><i style="width:1px;background:linear-gradient(#019312 0px,#198b0c 28.5px,#398005 107.5px,#507800 124.5px,#953d00 167.5px,#a62c00 182.5px,#8c4500 257.5px,#d00200 270.5px,#d20200 271.5px,#dd3700 292.5px,#df4c00 328.5px,#eea500 368.5px,#f5cd00 414.5px,#ec9a00 442.5px,#dc3000 463.5px,#d20200 470.5px,#a13100 474.5px,#9a3800 475.5px,#9a3800 482px)"></i><i style="width:1px;background:linear-gradient(#6a6200 0px,#864a00 28.5px,#a72b00 108.5px,#d20000 172.5px,#d20000 257.5px,#dd3b00 292.5px,#e04f00 328.5px,#eda300 368.5px,#f5cb00 414.5px,#eb9800 442.5px,#dc3500 462.5px,#d00200 470.5px,#993900 474.5px,#904100 475.5px,#904100 482px)"></i><i style="width:1px;background:linear-gradient(#d20100 0px,#d81d00 107.5px,#db2c00 258.5px,#e05500 327.5px,#ec9e00 368.5px,#f4c700 414.5px,#ea8f00 443.5px,#dc3000 463.5px,#d20200 470.5px,#a13100 474.5px,#9a3800 475.5px,#9a3800 482px)"></i><i style="width:1px;background:linear-gradient(#d61200 0px,#d71b00 28.5px,#dd3700 258.5px,#e15a00 328.5px,#eb9500 368.5px,#f3c100 414.5px,#e98a00 442.5px,#dc3000 463.5px,#d30400 471.5px,#cf0300 472.5px,#b31f00 475.5px,#b31f00 482px)"></i><i style="width:1px;background:linear-gradient(#bd1500 0px,#d00200 28.5px,#d20000 107.5px,#d81c00 183.5px,#d92300 257.5px,#de4000 292.5px,#e05100 328.5px,#ea9000 368.5px,#f2bd00 414.5px,#e88500 442.5px,#d30500 474.5px,#d30300 482px)"></i><i style="width:1px;background:linear-gradient(#755800 0px,#914000 28.5px,#8a4700 107.5px,#d20000 155.5px,#d61400 183.5px,#d50e00 257.5px,#dc3100 293.5px,#de4300 328.5px,#ea8e00 368.5px,#f2bb00 414.5px,#e88300 442.5px,#dc3500 462.5px,#d51100 474.5px,#d50f00 482px)"></i><i style="width:1px;background:linear-gradient(#477b02 0px,#626900 28.5px,#6b6000 107.5px,#963c00 124.5px,#d20000 158.5px,#d61600 183.5px,#d30700 257.5px,#dd3a00 327.5px,#ea8e00 368.5px,#f2bb00 414.5px,#e88300 442.5px,#dc3500 462.5px,#d61500 474.5px,#d61300 482px)"></i><i style="width:1px;background:linear-gradient(#308307 0px,#507800 44.5px,#765700 107.5px,#973b00 122.5px,#d20000 161.5px,#d51100 183.5px,#d30400 257.5px,#dd3800 327.5px,#ea8e00 368.5px,#f2bb00 414.5px,#e88300 442.5px,#dc3500 462.5px,#d61500 474.5px,#d61300 482px)"></i><i style="width:1px;background:linear-gradient(#0e8e0f 0px,#507800 70.5px,#963c00 127.5px,#c60c00 182.5px,#c60c00 257.5px,#d20000 263.5px,#d82000 293.5px,#dd3800 327.5px,#ea8e00 368.5px,#f2bb00 414.5px,#e88300 442.5px,#dc3500 462.5px,#d51100 474.5px,#d50f00 482px)"></i><i style="width:1px;background:linear-gradient(#009317 0px,#009312 11.5px,#0e8e0f 27.5px,#507800 92.5px,#963c00 165.5px,#a13100 183.5px,#a62c00 257.5px,#d20000 272.5px,#d82000 293.5px,#dd3900 328.5px,#ea8e00 368.5px,#f2bb00 414.5px,#e88300 442.5px,#d30500 474.5px,#d30300 482px)"></i><i style="width:1px;background:linear-gradient(#00941a 0px,#009312 20.5px,#507800 125.5px,#904100 182.5px,#834c00 257.5px,#d10100 276.5px,#d82000 293.5px,#dd3900 328.5px,#ea8e00 368.5px,#f2bb00 414.5px,#e78000 443.5px,#dc3000 463.5px,#d30400 471.5px,#cf0300 472.5px,#b31f00 475.5px,#b31f00 482px)"></i><i style="width:1px;background:linear-gradient(#00941a 0px,#009312 20.5px,#2b8508 107.5px,#507800 138.5px,#904100 183.5px,#6f5e00 257.5px,#973b00 264.5px,#d20100 278.5px,#d82000 293.5px,#dd3900 328.5px,#ea8e00 368.5px,#f2bb00 414.5px,#e78000 443.5px,#dc3500 462.5px,#d30400 470.5px,#ce0400 471.5px,#a92900 474.5px,#a32f00 475.5px,#a32f00 482px)"></i><i style="width:1px;background:linear-gradient(#00941a 0px,#009312 20.5px,#268609 107.5px,#507800 140.5px,#904100 183.5px,#6b6100 257.5px,#953d00 264.5px,#d20000 278.5px,#d82000 293.5px,#dd3900 328.5px,#ea8e00 368.5px,#f2bb00 414.5px,#e78000 443.5px,#dc3000 463.5px,#d30400 471.5px,#cf0300 472.5px,#b31f00 475.5px,#b31f00 482px)"></i><i style="width:1px;background:linear-gradient(#00941a 0px,#009312 20.5px,#268609 107.5px,#507800 140.5px,#904100 183.5px,#6b6100 257.5px,#953d00 264.5px,#d20000 278.5px,#d82000 293.5px,#dd3900 328.5px,#ea8e00 368.5px,#f2bb00 414.5px,#e88300 442.5px,#d30500 474.5px,#d30300 482px)"></i></div></div>
<div id="cbar" style="background:linear-gradient(to right,rgb(0,0,45) 0.0%,rgb(0,0,60) 13.4%,rgb(0,30,90) 16.5%,rgb(0,75,105) 21.0%,rgb(0,124,112) 27.4%,rgb(0,148,104) 32.4%,rgb(0,150,62) 38.0%,rgb(0,147,18) 43.6%,rgb(80,120,0) 48.6%,rgb(150,60,0) 52.3%,rgb(210,0,0) 57.0%,rgb(220,50,0) 64.8%,rgb(225,90,0) 73.0%,rgb(235,150,0) 83.5%,rgb(245,205,0) 93.0%,rgb(255,255,0) 100.0%)"></div>
<div id="title_0" class="t" style="left:223.40px;top:4.94px;font-size:13.80px;letter-spacing:1.080px;transform:scaleX(0.826);transform-origin:0 0;">NEAR</div>
<div id="title_1" class="t" style="left:264.40px;top:4.94px;font-size:13.80px;transform:scaleX(0.952);transform-origin:0 0;">X</div>
<div id="title_2" class="t" style="left:274.10px;top:4.94px;font-size:13.80px;transform:scaleX(2.000);transform-origin:0 0;">-</div>
<div id="title_3" class="t" style="left:285.20px;top:4.94px;font-size:13.80px;letter-spacing:1.170px;transform:scaleX(0.860);transform-origin:0 0;">Ray</div>
<div id="title_4" class="t" style="left:314.30px;top:4.94px;font-size:13.80px;letter-spacing:1.337px;transform:scaleX(0.860);transform-origin:0 0;">Analysis</div>
<div id="date_0" class="t" style="left:470.20px;top:6.34px;font-size:11.80px;letter-spacing:1.440px;transform:scaleX(0.860);transform-origin:0 0;">Date:</div>
<div id="date_1" class="t" style="left:505.50px;top:6.34px;font-size:11.80px;letter-spacing:0.450px;transform:scaleX(0.826);transform-origin:0 0;">Wed</div>
<div id="date_2" class="t" style="left:532.50px;top:6.34px;font-size:11.80px;letter-spacing:1.890px;transform:scaleX(0.860);transform-origin:0 0;">Jun</div>
<div id="date_3" class="t" style="left:563.90px;top:6.34px;font-size:11.80px;transform:scaleX(1.079);transform-origin:0 0;">6</div>
<div id="date_4" class="t" style="left:577.60px;top:6.34px;font-size:11.80px;letter-spacing:0.463px;">15:29:54</div>
<div id="date_5" class="t" style="left:633.50px;top:6.34px;font-size:11.80px;letter-spacing:0.900px;transform:scaleX(0.960);transform-origin:0 0;">2001</div>
<div id="t256_0" class="t" style="left:5.80px;top:21.76px;font-size:11.20px;letter-spacing:0.900px;transform:scaleX(0.960);transform-origin:0 0;">256</div>
<div id="y0_0" class="t" style="left:16.50px;top:535.76px;font-size:11.20px;transform:scaleX(1.049);transform-origin:0 0;">0</div>
<div id="x0_0" class="t" style="left:36.30px;top:545.76px;font-size:11.20px;transform:scaleX(1.034);transform-origin:0 0;">0</div>
<div id="ftime_0" class="t" style="left:286.20px;top:546.76px;font-size:11.20px;letter-spacing:0.780px;transform:scaleX(0.860);transform-origin:0 0;">File</div>
<div id="ftime_1" class="t" style="left:309.00px;top:546.76px;font-size:11.20px;letter-spacing:1.020px;transform:scaleX(0.860);transform-origin:0 0;">Time</div>
<div id="x1015_0" class="t" style="left:577.30px;top:546.36px;font-size:11.20px;letter-spacing:0.660px;">1015</div>
<div id="log_0" class="t" style="left:19.80px;top:631.10px;font-size:13.00px;letter-spacing:0.720px;transform:scaleX(0.860);transform-origin:0 0;">LOG10</div>
<div id="log_1" class="t" style="left:63.10px;top:631.10px;font-size:13.00px;letter-spacing:0.780px;transform:scaleX(0.860);transform-origin:0 0;">Normalized</div>
<div id="log_2" class="t" style="left:130.30px;top:631.10px;font-size:13.00px;letter-spacing:1.062px;transform:scaleX(0.860);transform-origin:0 0;">Spectrogram</div>
<div id="log_3" class="t" style="left:209.50px;top:631.10px;font-size:13.00px;letter-spacing:0.585px;transform:scaleX(0.860);transform-origin:0 0;">Scale</div>
<div id="c00_0" class="t" style="left:21.30px;top:668.84px;font-size:11.80px;letter-spacing:0.900px;">0.0</div>
<div id="c05_0" class="t" style="left:179.00px;top:668.84px;font-size:11.80px;letter-spacing:0.900px;">0.5</div>
<div id="c10_0" class="t" style="left:341.00px;top:668.84px;font-size:11.80px;letter-spacing:0.900px;transform:scaleX(0.922);transform-origin:0 0;">1.0</div>
<div id="spect_0" class="t" style="left:367.40px;top:639.08px;font-size:12.60px;letter-spacing:1.125px;transform:scaleX(0.860);transform-origin:0 0;">Spect</div>
<div id="spect_1" class="t" style="left:402.90px;top:639.08px;font-size:12.60px;letter-spacing:1.845px;transform:scaleX(0.860);transform-origin:0 0;">type=</div>
<div id="spect_2" class="t" style="left:443.30px;top:639.08px;font-size:12.60px;letter-spacing:0.648px;transform:scaleX(0.730);transform-origin:0 0;">ACTIVE</div>
<div id="spect_3" class="t" style="left:484.60px;top:639.08px;font-size:12.60px;letter-spacing:0.396px;transform:scaleX(0.826);transform-origin:0 0;">SOLAR,</div>
<div id="spect_4" class="t" style="left:536.60px;top:639.08px;font-size:12.60px;letter-spacing:1.080px;">256</div>
<div id="spect_5" class="t" style="left:565.20px;top:639.08px;font-size:12.60px;letter-spacing:0.788px;transform:scaleX(0.860);transform-origin:0 0;">Channels,</div>
<div id="spect_6" class="t" style="left:666.00px;top:639.08px;font-size:12.60px;transform:scaleX(0.680);transform-origin:0 0;">1</div>
<div id="spect_7" class="t" style="left:678.00px;top:639.08px;font-size:12.60px;letter-spacing:2.268px;transform:scaleX(0.860);transform-origin:0 0;">ch/bin</div>
<div id="dir_0" class="t" style="left:367.40px;top:659.32px;font-size:12.40px;letter-spacing:0.922px;transform:scaleX(0.860);transform-origin:0 0;">Directory</div>
<div id="dir_1" class="t" style="left:423.40px;top:659.32px;font-size:12.40px;transform:scaleX(1.334);transform-origin:0 0;">=</div>
<div id="dir_2" class="t" style="left:440.50px;top:659.32px;font-size:12.40px;letter-spacing:2.205px;transform:scaleX(0.860);transform-origin:0 0;">/near</div>
<div id="dir_3" class="t" style="left:474.10px;top:659.32px;font-size:12.40px;letter-spacing:2.400px;transform:scaleX(0.860);transform-origin:0 0;">/xdr</div>
<div id="dir_4" class="t" style="left:499.00px;top:659.32px;font-size:12.40px;letter-spacing:2.880px;transform:scaleX(0.860);transform-origin:0 0;">/XRS</div>
<div id="dir_5" class="t" style="left:530.80px;top:659.32px;font-size:12.40px;letter-spacing:0.990px;">/2000</div>
<div id="dir_6" class="t" style="left:566.00px;top:659.32px;font-size:12.40px;letter-spacing:1.872px;">/07-00</div>
<div id="dir_7" class="t" style="left:611.20px;top:659.32px;font-size:12.40px;letter-spacing:1.935px;transform:scaleX(0.860);transform-origin:0 0;">/XSdaily-07_13_00out/</div>
<div id="chan_0" class="t r" style="left:35.64px;top:301.10px;font-size:11.80px;letter-spacing:-0.030px;">Channel</div>
<div id="chan_1" class="t r" style="left:35.64px;top:250.70px;font-size:11.80px;transform:rotate(-90deg) scaleX(0.978);">#</div>
<div id="chan_2" class="t r" style="left:35.64px;top:238.00px;font-size:11.80px;transform:rotate(-90deg) scaleX(2.667);">-</div>
<div id="chan_3" class="t r" style="left:35.64px;top:228.50px;font-size:11.80px;transform:rotate(-90deg) scaleX(2.591);">-</div>
<div id="chan_4" class="t r" style="left:35.64px;top:219.00px;font-size:11.80px;transform:rotate(-90deg) scaleX(2.401);">-</div>
<div id="chan_5" class="t r" style="left:35.64px;top:210.10px;font-size:11.80px;transform:rotate(-90deg) scaleX(1.213);">&gt;</div>
</body></html>
